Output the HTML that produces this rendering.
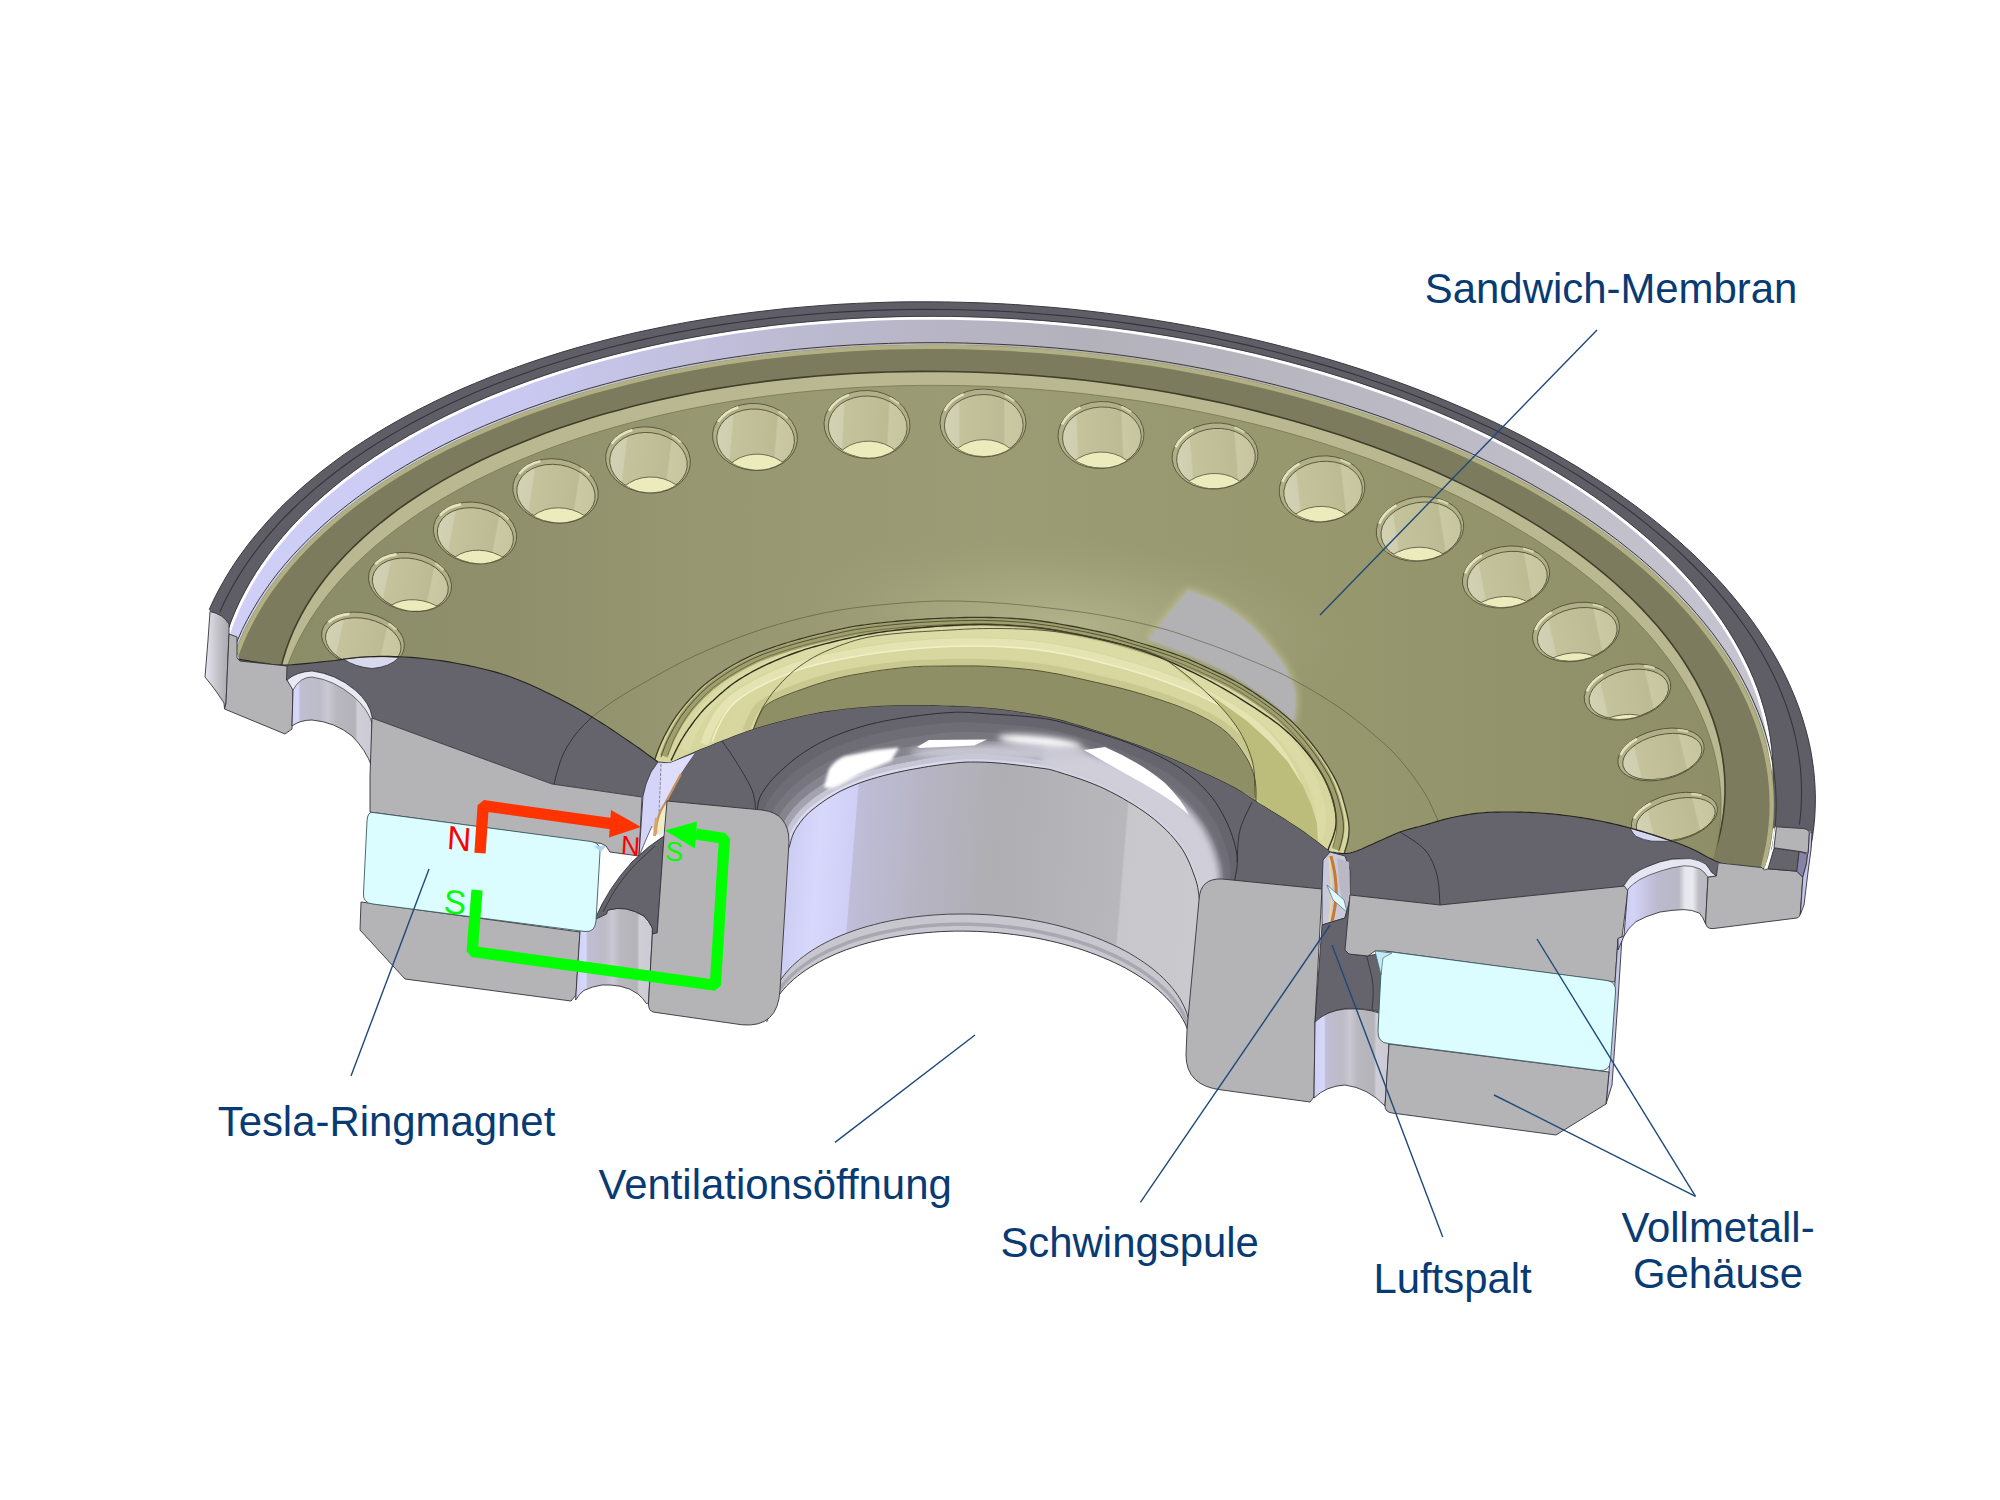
<!DOCTYPE html>
<html lang="de"><head><meta charset="utf-8"><title>Tesla-Treiber Schnittbild</title>
<style>
html,body{margin:0;padding:0;background:#fff;}
body{width:2000px;height:1500px;overflow:hidden;position:relative;font-family:"Liberation Sans",Arial,sans-serif;}
svg{position:absolute;left:0;top:0;display:block;}
svg text{font-family:"Liberation Sans",Arial,sans-serif;}
</style></head><body>
<svg width="2000" height="1500" viewBox="0 0 2000 1500">
<defs>
<linearGradient id="gOlive" gradientUnits="userSpaceOnUse" x1="250" y1="0" x2="1750" y2="0">
 <stop offset="0" stop-color="#8b8c68"/><stop offset="0.17" stop-color="#8f906b"/><stop offset="0.30" stop-color="#979872"/><stop offset="0.5" stop-color="#9b9b74"/><stop offset="0.7" stop-color="#98986f"/><stop offset="0.85" stop-color="#93936b"/><stop offset="1" stop-color="#8d8d67"/>
</linearGradient>
<radialGradient id="gGlow" gradientUnits="userSpaceOnUse" cx="0" cy="0" r="1">
 <stop offset="0" stop-color="#b4b48c" stop-opacity="0.95"/><stop offset="0.5" stop-color="#aaaa82" stop-opacity="0.55"/><stop offset="1" stop-color="#9b9b74" stop-opacity="0"/>
</radialGradient>
<linearGradient id="gLav" gradientUnits="userSpaceOnUse" x1="210" y1="0" x2="1800" y2="0">
 <stop offset="0" stop-color="#cfcff8"/><stop offset="0.2" stop-color="#c9c8f0"/><stop offset="0.4" stop-color="#bab8cc"/><stop offset="0.55" stop-color="#b3b1ba"/><stop offset="0.8" stop-color="#bdbcc6"/><stop offset="1" stop-color="#c6c5d2"/>
</linearGradient>
<linearGradient id="gCyl" gradientUnits="userSpaceOnUse" x1="785" y1="900" x2="1205" y2="935">
 <stop offset="0.0" stop-color="#cdcdf4"/><stop offset="0.07" stop-color="#d8d8fd"/><stop offset="0.15" stop-color="#cfcff6"/><stop offset="0.153" stop-color="#bfbdd8"/><stop offset="0.32" stop-color="#b6b4c2"/><stop offset="0.49" stop-color="#afaeb2"/><stop offset="0.79" stop-color="#b8b7bb"/><stop offset="0.795" stop-color="#c8c7cc"/><stop offset="1" stop-color="#cac9ce"/>
</linearGradient>
<linearGradient id="gFil" gradientUnits="userSpaceOnUse" x1="0" y1="712" x2="0" y2="790">
 <stop offset="0" stop-color="#6b6a72"/><stop offset="0.35" stop-color="#8f8e98"/><stop offset="0.7" stop-color="#c2c1cc"/><stop offset="1" stop-color="#b9b8c6"/>
</linearGradient>
<linearGradient id="gHoleL" x1="0" y1="0" x2="1" y2="0">
 <stop offset="0" stop-color="#d6d6f8"/><stop offset="0.5" stop-color="#bfbed6"/><stop offset="1" stop-color="#c9c8e2"/>
</linearGradient>
<linearGradient id="gHole" x1="0" y1="0" x2="1" y2="0">
 <stop offset="0" stop-color="#d3d2b4"/><stop offset="0.18" stop-color="#cfceaf"/><stop offset="0.2" stop-color="#c4c39c"/><stop offset="0.75" stop-color="#bcbb93"/><stop offset="0.77" stop-color="#cac9a4"/><stop offset="1" stop-color="#c6c5a0"/>
</linearGradient>
<linearGradient id="gOuterL" x1="0" y1="0" x2="1" y2="0">
 <stop offset="0" stop-color="#e6e6f0"/><stop offset="0.5" stop-color="#c6c5cc"/><stop offset="1" stop-color="#a9a8ae"/>
</linearGradient>
<linearGradient id="gGrooveL" x1="0" y1="0" x2="1" y2="0">
 <stop offset="0" stop-color="#cfcff6"/><stop offset="0.13" stop-color="#d8d8fc"/><stop offset="0.16" stop-color="#c0bed2"/><stop offset="0.38" stop-color="#bcbbc6"/><stop offset="0.48" stop-color="#cac9d3"/><stop offset="0.58" stop-color="#b9b8c0"/><stop offset="0.8" stop-color="#b4b3b9"/><stop offset="0.83" stop-color="#cfced6"/><stop offset="1" stop-color="#cccbd3"/>
</linearGradient>
<filter id="blur3" x="-20%" y="-50%" width="140%" height="200%"><feGaussianBlur stdDeviation="3"/></filter>
<filter id="blur1" x="-10%" y="-10%" width="120%" height="120%"><feGaussianBlur stdDeviation="0.9"/></filter>
<filter id="blur15" x="-20%" y="-50%" width="140%" height="200%"><feGaussianBlur stdDeviation="1.5"/></filter>
<linearGradient id="gGrooveR" x1="0" y1="0" x2="1" y2="0">
 <stop offset="0" stop-color="#c6c6ee"/><stop offset="0.15" stop-color="#d4d4f8"/><stop offset="0.4" stop-color="#bcbace"/><stop offset="0.62" stop-color="#b9b8c4"/><stop offset="0.68" stop-color="#e6e6ee"/><stop offset="0.76" stop-color="#e9e9f0"/><stop offset="0.82" stop-color="#bebdc6"/><stop offset="1" stop-color="#b2b1b6"/>
</linearGradient>
</defs>
<clipPath id="clipCut"><path d="M0.0,0.0 L0.0,640.0 L232.0,636.0 L239.0,659.0 L287.0,666.0 L330.0,661.0 L365.0,657.0 L405.0,657.0 L455.0,663.0 L505.0,675.0 L550.0,694.0 L592.0,717.0 L630.0,742.0 L658.0,762.0 L670.0,763.0 L1000.0,900.0 L1330.0,852.0 L1350.0,853.0 L1375.0,843.0 L1400.0,832.0 L1425.0,825.0 L1450.0,818.0 L1480.0,813.0 L1510.0,812.0 L1540.0,813.0 L1570.0,816.0 L1600.0,821.0 L1630.0,828.0 L1660.0,837.0 L1690.0,848.0 L1718.0,862.0 L1764.0,869.0 L1772.0,848.0 L1775.0,826.0 L2000.0,826.0 L2000.0,0.0 Z"/></clipPath>
<path d="M209.2,609.6 L213.5,600.2 L218.2,590.9 L223.3,581.7 L228.7,572.6 L234.5,563.5 L240.7,554.6 L247.2,545.7 L254.1,537.0 L261.4,528.4 L269.0,519.8 L276.9,511.4 L285.2,503.1 L293.9,494.9 L302.9,486.8 L312.2,478.9 L321.8,471.1 L331.8,463.5 L342.0,455.9 L352.6,448.5 L363.6,441.3 L374.8,434.2 L386.3,427.3 L398.1,420.5 L410.2,413.9 L422.5,407.5 L435.2,401.2 L448.1,395.1 L461.3,389.1 L474.7,383.4 L488.4,377.8 L502.4,372.4 L516.6,367.2 L531.0,362.1 L545.6,357.3 L560.4,352.6 L575.5,348.1 L590.8,343.9 L606.2,339.8 L621.9,335.9 L637.7,332.2 L653.7,328.8 L669.9,325.5 L686.2,322.4 L702.7,319.6 L719.3,316.9 L736.0,314.5 L752.9,312.3 L769.9,310.3 L787.0,308.4 L804.2,306.9 L821.5,305.5 L838.9,304.3 L856.4,303.4 L873.9,302.7 L891.5,302.1 L909.2,301.8 L926.9,301.8 L944.6,301.9 L962.4,302.3 L980.2,302.8 L997.9,303.6 L1015.7,304.6 L1033.5,305.9 L1051.3,307.3 L1069.0,308.9 L1086.7,310.8 L1104.4,312.9 L1122.0,315.2 L1139.6,317.7 L1157.1,320.4 L1174.5,323.3 L1191.8,326.4 L1209.1,329.7 L1226.2,333.3 L1243.3,337.0 L1260.2,340.9 L1277.0,345.1 L1293.6,349.4 L1310.2,353.9 L1326.6,358.6 L1342.8,363.5 L1358.9,368.6 L1374.7,373.9 L1390.5,379.4 L1406.0,385.0 L1421.3,390.8 L1436.5,396.8 L1451.4,403.0 L1466.1,409.3 L1480.6,415.8 L1494.9,422.4 L1508.9,429.3 L1522.7,436.2 L1536.2,443.4 L1549.5,450.6 L1562.5,458.1 L1575.2,465.6 L1587.7,473.3 L1599.9,481.2 L1611.8,489.1 L1623.4,497.2 L1634.8,505.4 L1645.8,513.8 L1656.5,522.2 L1666.9,530.8 L1677.0,539.5 L1686.7,548.3 L1696.2,557.1 L1705.3,566.1 L1714.0,575.2 L1722.5,584.3 L1730.5,593.5 L1738.3,602.9 L1745.6,612.2 L1752.7,621.7 L1759.3,631.2 L1765.6,640.8 L1771.6,650.4 L1777.2,660.1 L1782.4,669.8 L1787.2,679.6 L1791.6,689.4 L1795.7,699.2 L1799.4,709.1 L1802.7,719.0 L1805.6,728.9 L1808.2,738.8 L1810.4,748.7 L1812.1,758.6 L1813.5,768.6 L1814.5,778.5 L1815.1,788.4 L1815.4,798.3 L1815.2,808.2 L1814.7,818.0 L1813.7,827.8 L1812.4,837.6 L1810.7,847.4 L1808.6,857.1 L1812.0,832.0 L1776.0,827.0 L1720.0,858.0 L240.0,660.0 L229.0,634.0 L210.0,611.0 Z" fill="#5f5e66" />
<path d="M209.2,609.6 L213.5,600.2 L218.2,590.9 L223.3,581.7 L228.7,572.6 L234.5,563.5 L240.7,554.6 L247.2,545.7 L254.1,537.0 L261.4,528.4 L269.0,519.8 L276.9,511.4 L285.2,503.1 L293.9,494.9 L302.9,486.8 L312.2,478.9 L321.8,471.1 L331.8,463.5 L342.0,455.9 L352.6,448.5 L363.6,441.3 L374.8,434.2 L386.3,427.3 L398.1,420.5 L410.2,413.9 L422.5,407.5 L435.2,401.2 L448.1,395.1 L461.3,389.1 L474.7,383.4 L488.4,377.8 L502.4,372.4 L516.6,367.2 L531.0,362.1 L545.6,357.3 L560.4,352.6 L575.5,348.1 L590.8,343.9 L606.2,339.8 L621.9,335.9 L637.7,332.2 L653.7,328.8 L669.9,325.5 L686.2,322.4 L702.7,319.6 L719.3,316.9 L736.0,314.5 L752.9,312.3 L769.9,310.3 L787.0,308.4 L804.2,306.9 L821.5,305.5 L838.9,304.3 L856.4,303.4 L873.9,302.7 L891.5,302.1 L909.2,301.8 L926.9,301.8 L944.6,301.9 L962.4,302.3 L980.2,302.8 L997.9,303.6 L1015.7,304.6 L1033.5,305.9 L1051.3,307.3 L1069.0,308.9 L1086.7,310.8 L1104.4,312.9 L1122.0,315.2 L1139.6,317.7 L1157.1,320.4 L1174.5,323.3 L1191.8,326.4 L1209.1,329.7 L1226.2,333.3 L1243.3,337.0 L1260.2,340.9 L1277.0,345.1 L1293.6,349.4 L1310.2,353.9 L1326.6,358.6 L1342.8,363.5 L1358.9,368.6 L1374.7,373.9 L1390.5,379.4 L1406.0,385.0 L1421.3,390.8 L1436.5,396.8 L1451.4,403.0 L1466.1,409.3 L1480.6,415.8 L1494.9,422.4 L1508.9,429.3 L1522.7,436.2 L1536.2,443.4 L1549.5,450.6 L1562.5,458.1 L1575.2,465.6 L1587.7,473.3 L1599.9,481.2 L1611.8,489.1 L1623.4,497.2 L1634.8,505.4 L1645.8,513.8 L1656.5,522.2 L1666.9,530.8 L1677.0,539.5 L1686.7,548.3 L1696.2,557.1 L1705.3,566.1 L1714.0,575.2 L1722.5,584.3 L1730.5,593.5 L1738.3,602.9 L1745.6,612.2 L1752.7,621.7 L1759.3,631.2 L1765.6,640.8 L1771.6,650.4 L1777.2,660.1 L1782.4,669.8 L1787.2,679.6 L1791.6,689.4 L1795.7,699.2 L1799.4,709.1 L1802.7,719.0 L1805.6,728.9 L1808.2,738.8 L1810.4,748.7 L1812.1,758.6 L1813.5,768.6 L1814.5,778.5 L1815.1,788.4 L1815.4,798.3 L1815.2,808.2 L1814.7,818.0 L1813.7,827.8 L1812.4,837.6 L1810.7,847.4 L1808.6,857.1" fill="none" stroke="#3a3940" stroke-width="1" />
<path d="M219.8,611.9 L223.9,602.9 L228.4,594.0 L233.2,585.2 L238.4,576.4 L243.9,567.7 L249.8,559.1 L256.1,550.6 L262.7,542.2 L269.6,533.9 L276.8,525.7 L284.4,517.5 L292.3,509.5 L300.6,501.6 L309.2,493.9 L318.0,486.2 L327.2,478.7 L336.8,471.3 L346.6,464.0 L356.7,456.8 L367.1,449.8 L377.8,442.9 L388.8,436.2 L400.1,429.6 L411.6,423.2 L423.4,416.9 L435.5,410.8 L447.9,404.8 L460.5,399.0 L473.3,393.3 L486.4,387.8 L499.8,382.5 L513.3,377.4 L527.1,372.4 L541.1,367.6 L555.3,363.0 L569.8,358.5 L584.4,354.3 L599.2,350.2 L614.2,346.3 L629.4,342.6 L644.7,339.1 L660.2,335.8 L675.9,332.6 L691.7,329.7 L707.6,326.9 L723.7,324.4 L740.0,322.0 L756.3,319.9 L772.7,317.9 L789.3,316.2 L806.0,314.6 L822.7,313.3 L839.5,312.1 L856.4,311.1 L873.4,310.4 L890.4,309.9 L907.5,309.5 L924.6,309.4 L941.7,309.5 L958.9,309.7 L976.1,310.2 L993.3,310.9 L1010.5,311.8 L1027.7,312.9 L1044.9,314.2 L1062.1,315.6 L1079.2,317.3 L1096.4,319.2 L1113.4,321.3 L1130.4,323.6 L1147.4,326.1 L1164.3,328.8 L1181.1,331.7 L1197.8,334.7 L1214.4,338.0 L1230.9,341.5 L1247.4,345.1 L1263.7,349.0 L1279.9,353.0 L1295.9,357.2 L1311.9,361.6 L1327.6,366.1 L1343.3,370.9 L1358.7,375.8 L1374.1,380.9 L1389.2,386.1 L1404.1,391.6 L1418.9,397.2 L1433.5,402.9 L1447.9,408.9 L1462.0,414.9 L1476.0,421.2 L1489.7,427.6 L1503.2,434.1 L1516.5,440.8 L1529.6,447.6 L1542.4,454.6 L1554.9,461.7 L1567.2,468.9 L1579.2,476.3 L1591.0,483.8 L1602.5,491.4 L1613.7,499.2 L1624.6,507.0 L1635.3,515.0 L1645.6,523.1 L1655.7,531.3 L1665.4,539.6 L1674.8,547.9 L1684.0,556.4 L1692.8,565.0 L1701.3,573.6 L1709.5,582.4 L1717.3,591.2 L1724.8,600.1 L1732.0,609.1 L1738.8,618.1 L1745.3,627.2 L1751.5,636.3 L1757.3,645.5 L1762.8,654.8 L1767.9,664.1 L1772.7,673.4 L1777.1,682.8 L1781.1,692.2 L1784.8,701.6 L1788.1,711.0 L1791.1,720.5 L1793.7,730.0 L1795.9,739.5 L1797.7,749.0 L1799.2,758.5 L1800.4,768.0 L1801.1,777.5 L1801.5,787.0 L1801.5,796.4 L1801.2,805.9 L1800.5,815.3 L1799.4,824.7" fill="none" stroke="#35343b" stroke-width="1.1" />
<g clip-path="url(#clipCut)">
<path d="M224.3,648.0 L227.0,638.5 L230.1,628.9 L233.7,619.5 L237.6,610.1 L242.0,600.7 L246.8,591.5 L252.0,582.3 L257.5,573.2 L263.5,564.2 L269.9,555.3 L276.7,546.5 L283.9,537.9 L291.4,529.3 L299.4,520.8 L307.7,512.4 L316.4,504.2 L325.5,496.1 L334.9,488.2 L344.7,480.3 L354.9,472.6 L365.4,465.1 L376.2,457.7 L387.4,450.5 L398.9,443.4 L410.7,436.5 L422.9,429.7 L435.3,423.1 L448.1,416.7 L461.2,410.5 L474.5,404.4 L488.1,398.5 L502.1,392.9 L516.2,387.4 L530.7,382.0 L545.4,376.9 L560.3,372.0 L575.5,367.3 L590.9,362.8 L606.5,358.5 L622.4,354.4 L638.4,350.5 L654.6,346.8 L671.1,343.3 L687.6,340.1 L704.4,337.1 L721.3,334.3 L738.4,331.7 L755.6,329.3 L772.9,327.2 L790.4,325.2 L808.0,323.5 L825.6,322.1 L843.4,320.8 L861.2,319.8 L879.2,319.0 L897.1,318.5 L915.2,318.2 L933.3,318.1 L951.4,318.2 L969.5,318.6 L987.6,319.2 L1005.8,320.0 L1023.9,321.0 L1042.1,322.3 L1060.2,323.8 L1078.2,325.6 L1096.3,327.5 L1114.2,329.7 L1132.1,332.1 L1149.9,334.8 L1167.7,337.6 L1185.3,340.7 L1202.9,344.0 L1220.3,347.5 L1237.6,351.2 L1254.7,355.1 L1271.8,359.3 L1288.7,363.6 L1305.4,368.2 L1321.9,372.9 L1338.3,377.9 L1354.5,383.0 L1370.4,388.4 L1386.2,393.9 L1401.8,399.6 L1417.1,405.5 L1432.2,411.6 L1447.1,417.9 L1461.7,424.3 L1476.1,431.0 L1490.2,437.7 L1504.0,444.7 L1517.6,451.8 L1530.9,459.1 L1543.8,466.5 L1556.5,474.1 L1568.9,481.8 L1580.9,489.6 L1592.7,497.6 L1604.1,505.7 L1615.2,514.0 L1625.9,522.4 L1636.3,530.9 L1646.4,539.5 L1656.0,548.2 L1665.4,557.0 L1674.3,565.9 L1682.9,574.9 L1691.1,584.0 L1699.0,593.2 L1706.4,602.5 L1713.5,611.8 L1720.2,621.2 L1726.4,630.7 L1732.3,640.2 L1737.8,649.8 L1742.8,659.5 L1747.5,669.1 L1751.8,678.9 L1755.6,688.6 L1759.0,698.4 L1762.0,708.2 L1764.6,718.0 L1766.8,727.8 L1768.5,737.7 L1769.8,747.5 L1770.7,757.3 L1771.2,767.2 L1771.2,777.0 L1770.9,786.8 L1770.1,796.5 L1768.8,806.3 L1767.2,815.9 L1765.1,825.6 L1762.6,835.2 L1759.7,844.8 L1756.4,854.3 L1752.7,863.7 L1748.5,873.0 Z" fill="url(#gLav)" />
<path d="M224.3,648.0 L227.0,638.5 L230.1,628.9 L233.7,619.5 L237.6,610.1 L242.0,600.7 L246.8,591.5 L252.0,582.3 L257.5,573.2 L263.5,564.2 L269.9,555.3 L276.7,546.5 L283.9,537.9 L291.4,529.3 L299.4,520.8 L307.7,512.4 L316.4,504.2 L325.5,496.1 L334.9,488.2 L344.7,480.3 L354.9,472.6 L365.4,465.1 L376.2,457.7 L387.4,450.5 L398.9,443.4 L410.7,436.5 L422.9,429.7 L435.3,423.1 L448.1,416.7 L461.2,410.5 L474.5,404.4 L488.1,398.5 L502.1,392.9 L516.2,387.4 L530.7,382.0 L545.4,376.9 L560.3,372.0 L575.5,367.3 L590.9,362.8 L606.5,358.5 L622.4,354.4 L638.4,350.5 L654.6,346.8 L671.1,343.3 L687.6,340.1 L704.4,337.1 L721.3,334.3 L738.4,331.7 L755.6,329.3 L772.9,327.2 L790.4,325.2 L808.0,323.5 L825.6,322.1 L843.4,320.8 L861.2,319.8 L879.2,319.0 L897.1,318.5 L915.2,318.2 L933.3,318.1 L951.4,318.2 L969.5,318.6 L987.6,319.2 L1005.8,320.0 L1023.9,321.0 L1042.1,322.3 L1060.2,323.8 L1078.2,325.6 L1096.3,327.5 L1114.2,329.7 L1132.1,332.1 L1149.9,334.8 L1167.7,337.6 L1185.3,340.7 L1202.9,344.0 L1220.3,347.5 L1237.6,351.2 L1254.7,355.1 L1271.8,359.3 L1288.7,363.6 L1305.4,368.2 L1321.9,372.9 L1338.3,377.9 L1354.5,383.0 L1370.4,388.4 L1386.2,393.9 L1401.8,399.6 L1417.1,405.5 L1432.2,411.6 L1447.1,417.9 L1461.7,424.3 L1476.1,431.0 L1490.2,437.7 L1504.0,444.7 L1517.6,451.8 L1530.9,459.1 L1543.8,466.5 L1556.5,474.1 L1568.9,481.8 L1580.9,489.6 L1592.7,497.6 L1604.1,505.7 L1615.2,514.0 L1625.9,522.4 L1636.3,530.9 L1646.4,539.5 L1656.0,548.2 L1665.4,557.0 L1674.3,565.9 L1682.9,574.9 L1691.1,584.0 L1699.0,593.2 L1706.4,602.5 L1713.5,611.8 L1720.2,621.2 L1726.4,630.7 L1732.3,640.2 L1737.8,649.8 L1742.8,659.5 L1747.5,669.1 L1751.8,678.9 L1755.6,688.6 L1759.0,698.4 L1762.0,708.2 L1764.6,718.0 L1766.8,727.8 L1768.5,737.7 L1769.8,747.5 L1770.7,757.3 L1771.2,767.2 L1771.2,777.0 L1770.9,786.8 L1770.1,796.5 L1768.8,806.3 L1767.2,815.9 L1765.1,825.6 L1762.6,835.2 L1759.7,844.8 L1756.4,854.3 L1752.7,863.7 L1748.5,873.0" fill="none" stroke="#ffffff" stroke-width="3.2" />
<path d="M222.5,647.7 L225.3,638.1 L228.4,628.6 L231.9,619.1 L235.9,609.6 L240.3,600.2 L245.1,591.0 L250.3,581.7 L255.9,572.6 L261.9,563.6 L268.3,554.6 L275.1,545.8 L282.3,537.1 L289.8,528.5 L297.8,519.9 L306.2,511.6 L314.9,503.3 L324.0,495.2 L333.4,487.2 L343.2,479.3 L353.4,471.6 L363.9,464.0 L374.8,456.6 L386.0,449.3 L397.5,442.2 L409.4,435.2 L421.6,428.5 L434.1,421.8 L446.9,415.4 L460.0,409.1 L473.3,403.0 L487.0,397.1 L501.0,391.4 L515.2,385.9 L529.6,380.6 L544.4,375.4 L559.4,370.5 L574.6,365.8 L590.0,361.2 L605.7,356.9 L621.5,352.8 L637.6,348.9 L653.9,345.2 L670.3,341.7 L687.0,338.4 L703.8,335.4 L720.7,332.6 L737.9,329.9 L755.1,327.6 L772.5,325.4 L790.0,323.5 L807.6,321.8 L825.3,320.3 L843.1,319.1 L861.0,318.0 L879.0,317.3 L897.0,316.7 L915.0,316.4 L933.2,316.3 L951.3,316.4 L969.5,316.8 L987.7,317.4 L1005.9,318.2 L1024.1,319.3 L1042.2,320.5 L1060.4,322.1 L1078.5,323.8 L1096.5,325.8 L1114.5,328.0 L1132.5,330.4 L1150.3,333.0 L1168.1,335.9 L1185.8,339.0 L1203.4,342.3 L1220.9,345.8 L1238.2,349.5 L1255.4,353.4 L1272.5,357.6 L1289.4,362.0 L1306.1,366.5 L1322.7,371.3 L1339.1,376.3 L1355.3,381.4 L1371.4,386.8 L1387.2,392.4 L1402.8,398.1 L1418.1,404.0 L1433.3,410.2 L1448.2,416.5 L1462.8,422.9 L1477.2,429.6 L1491.4,436.4 L1505.2,443.4 L1518.8,450.5 L1532.1,457.8 L1545.1,465.3 L1557.8,472.9 L1570.2,480.6 L1582.3,488.5 L1594.1,496.5 L1605.5,504.7 L1616.6,513.0 L1627.4,521.4 L1637.8,529.9 L1647.9,538.5 L1657.6,547.3 L1666.9,556.1 L1675.9,565.1 L1684.5,574.1 L1692.8,583.3 L1700.6,592.5 L1708.1,601.8 L1715.2,611.2 L1721.9,620.6 L1728.1,630.1 L1734.0,639.7 L1739.5,649.4 L1744.6,659.0 L1749.3,668.7 L1753.5,678.5 L1757.4,688.3 L1760.8,698.1 L1763.8,708.0 L1766.4,717.8 L1768.5,727.7 L1770.3,737.6 L1771.6,747.5 L1772.5,757.3 L1773.0,767.2 L1773.0,777.0 L1772.6,786.9 L1771.8,796.7 L1770.6,806.4 L1769.0,816.2 L1766.9,825.9 L1764.4,835.5 L1761.5,845.1 L1758.2,854.7 L1754.4,864.1 L1750.2,873.5" fill="none" stroke="#34333a" stroke-width="0.9" />
<path d="M224.4,689.3 L226.6,679.3 L229.2,669.3 L232.3,659.4 L235.9,649.5 L239.8,639.8 L244.2,630.1 L249.1,620.4 L254.4,610.9 L260.1,601.5 L266.2,592.1 L272.8,582.9 L279.8,573.7 L287.2,564.7 L295.0,555.8 L303.2,547.0 L311.8,538.4 L320.9,529.8 L330.3,521.5 L340.1,513.2 L350.3,505.2 L360.8,497.2 L371.8,489.4 L383.1,481.8 L394.7,474.4 L406.7,467.1 L419.1,460.0 L431.8,453.1 L444.8,446.4 L458.1,439.8 L471.8,433.5 L485.7,427.3 L500.0,421.3 L514.5,415.6 L529.3,410.0 L544.4,404.7 L559.8,399.5 L575.4,394.6 L591.2,389.9 L607.3,385.4 L623.6,381.2 L640.2,377.1 L656.9,373.3 L673.9,369.7 L691.0,366.4 L708.3,363.3 L725.8,360.4 L743.4,357.8 L761.2,355.4 L779.1,353.2 L797.1,351.3 L815.3,349.6 L833.5,348.2 L851.9,347.0 L870.3,346.0 L888.9,345.4 L907.4,344.9 L926.1,344.7 L944.7,344.7 L963.5,345.0 L982.2,345.6 L1000.9,346.3 L1019.6,347.4 L1038.4,348.6 L1057.0,350.2 L1075.7,351.9 L1094.3,353.9 L1112.9,356.2 L1131.4,358.7 L1149.8,361.4 L1168.1,364.3 L1186.3,367.5 L1204.4,371.0 L1222.4,374.6 L1240.3,378.5 L1258.0,382.6 L1275.6,387.0 L1293.0,391.5 L1310.2,396.3 L1327.3,401.3 L1344.1,406.5 L1360.8,411.9 L1377.2,417.6 L1393.5,423.4 L1409.5,429.4 L1425.2,435.7 L1440.7,442.1 L1456.0,448.7 L1471.0,455.5 L1485.7,462.5 L1500.1,469.6 L1514.2,477.0 L1528.1,484.5 L1541.6,492.1 L1554.8,500.0 L1567.7,508.0 L1580.2,516.1 L1592.5,524.4 L1604.3,532.8 L1615.8,541.4 L1627.0,550.1 L1637.8,558.9 L1648.2,567.8 L1658.2,576.9 L1667.9,586.1 L1677.2,595.4 L1686.0,604.7 L1694.5,614.2 L1702.6,623.8 L1710.2,633.4 L1717.4,643.2 L1724.3,653.0 L1730.7,662.8 L1736.6,672.8 L1742.2,682.8 L1747.3,692.8 L1752.0,702.9 L1756.2,713.0 L1760.0,723.2 L1763.3,733.3 L1766.2,743.5 L1768.7,753.8 L1770.7,764.0 L1772.3,774.2 L1773.4,784.4 L1774.0,794.6 L1774.2,804.8 L1774.0,815.0 L1773.3,825.2 L1772.2,835.3 L1770.6,845.4 L1768.5,855.4 L1766.0,865.4 L1763.1,875.3 L1759.7,885.2 L1755.9,895.0 L1751.6,904.7 L1746.9,914.4 L1741.7,923.9 L1736.2,933.4 Z" fill="#7c7b5d" />
<path d="M227.0,689.6 L229.2,679.6 L231.8,669.7 L234.9,659.9 L238.4,650.1 L242.3,640.3 L246.7,630.7 L251.6,621.1 L256.8,611.6 L262.5,602.2 L268.6,592.9 L275.2,583.7 L282.1,574.7 L289.5,565.7 L297.3,556.8 L305.5,548.1 L314.1,539.5 L323.1,531.0 L332.5,522.7 L342.3,514.5 L352.4,506.4 L362.9,498.6 L373.8,490.8 L385.1,483.3 L396.7,475.8 L408.7,468.6 L421.0,461.5 L433.6,454.7 L446.6,448.0 L459.9,441.5 L473.5,435.1 L487.4,429.0 L501.6,423.1 L516.1,417.3 L530.8,411.8 L545.9,406.5 L561.2,401.4 L576.7,396.5 L592.5,391.8 L608.6,387.4 L624.8,383.1 L641.3,379.1 L658.0,375.3 L674.9,371.8 L692.0,368.4 L709.2,365.4 L726.6,362.5 L744.2,359.9 L761.9,357.5 L779.8,355.3 L797.7,353.4 L815.8,351.8 L834.0,350.3 L852.3,349.2 L870.7,348.2 L889.2,347.5 L907.7,347.1 L926.3,346.9 L944.9,346.9 L963.5,347.2 L982.2,347.8 L1000.8,348.5 L1019.5,349.6 L1038.2,350.8 L1056.8,352.4 L1075.4,354.1 L1093.9,356.1 L1112.4,358.3 L1130.9,360.8 L1149.2,363.5 L1167.5,366.5 L1185.6,369.6 L1203.7,373.1 L1221.6,376.7 L1239.4,380.6 L1257.1,384.7 L1274.6,389.0 L1291.9,393.5 L1309.1,398.3 L1326.1,403.2 L1342.9,408.4 L1359.5,413.8 L1375.9,419.4 L1392.1,425.2 L1408.0,431.2 L1423.8,437.4 L1439.2,443.8 L1454.4,450.4 L1469.3,457.2 L1484.0,464.1 L1498.4,471.3 L1512.5,478.6 L1526.3,486.0 L1539.7,493.7 L1552.9,501.4 L1565.7,509.4 L1578.3,517.5 L1590.4,525.7 L1602.3,534.1 L1613.7,542.6 L1624.9,551.3 L1635.6,560.1 L1646.0,569.0 L1656.0,578.0 L1665.6,587.1 L1674.9,596.3 L1683.7,605.7 L1692.1,615.1 L1700.2,624.6 L1707.8,634.2 L1715.0,643.9 L1721.8,653.7 L1728.2,663.5 L1734.2,673.4 L1739.7,683.3 L1744.8,693.3 L1749.4,703.3 L1753.6,713.4 L1757.4,723.5 L1760.8,733.6 L1763.7,743.8 L1766.1,753.9 L1768.1,764.1 L1769.7,774.3 L1770.8,784.4 L1771.4,794.6 L1771.7,804.7 L1771.4,814.9 L1770.7,825.0 L1769.6,835.0 L1768.0,845.1 L1765.9,855.1 L1763.5,865.0 L1760.5,874.9 L1757.2,884.7 L1753.3,894.4 L1749.1,904.1 L1744.4,913.7 L1739.3,923.2 L1733.7,932.6" fill="none" stroke="#b1b082" stroke-width="4.2" />
<path d="M222.4,689.0 L224.6,678.9 L227.3,668.9 L230.4,659.0 L233.9,649.1 L237.9,639.3 L242.3,629.5 L247.2,619.8 L252.5,610.3 L258.2,600.8 L264.4,591.4 L270.9,582.1 L277.9,572.9 L285.4,563.8 L293.2,554.9 L301.5,546.1 L310.1,537.4 L319.2,528.8 L328.6,520.4 L338.4,512.1 L348.6,504.0 L359.2,496.0 L370.2,488.2 L381.5,480.6 L393.2,473.1 L405.3,465.8 L417.6,458.6 L430.4,451.7 L443.4,444.9 L456.8,438.3 L470.5,431.9 L484.4,425.7 L498.7,419.8 L513.3,414.0 L528.2,408.4 L543.3,403.0 L558.7,397.8 L574.3,392.9 L590.2,388.2 L606.4,383.7 L622.7,379.4 L639.3,375.3 L656.1,371.5 L673.1,367.9 L690.2,364.5 L707.6,361.4 L725.1,358.5 L742.8,355.9 L760.6,353.4 L778.6,351.3 L796.7,349.3 L814.9,347.7 L833.2,346.2 L851.6,345.0 L870.1,344.1 L888.6,343.4 L907.3,342.9 L925.9,342.7 L944.7,342.7 L963.4,343.0 L982.2,343.6 L1001.0,344.4 L1019.8,345.4 L1038.5,346.7 L1057.3,348.2 L1076.0,349.9 L1094.6,352.0 L1113.2,354.2 L1131.8,356.7 L1150.2,359.4 L1168.6,362.4 L1186.9,365.6 L1205.0,369.0 L1223.1,372.7 L1241.0,376.6 L1258.7,380.8 L1276.3,385.1 L1293.8,389.7 L1311.1,394.5 L1328.2,399.5 L1345.1,404.7 L1361.8,410.2 L1378.3,415.8 L1394.5,421.7 L1410.6,427.8 L1426.4,434.0 L1441.9,440.5 L1457.2,447.1 L1472.2,453.9 L1487.0,461.0 L1501.4,468.1 L1515.6,475.5 L1529.5,483.1 L1543.0,490.8 L1556.3,498.6 L1569.2,506.6 L1581.8,514.8 L1594.0,523.1 L1605.9,531.6 L1617.5,540.2 L1628.6,549.0 L1639.5,557.8 L1649.9,566.8 L1660.0,575.9 L1669.6,585.1 L1678.9,594.4 L1687.8,603.9 L1696.3,613.4 L1704.4,623.0 L1712.1,632.7 L1719.3,642.5 L1726.2,652.3 L1732.6,662.2 L1738.6,672.2 L1744.1,682.3 L1749.2,692.3 L1753.9,702.5 L1758.2,712.6 L1762.0,722.8 L1765.3,733.1 L1768.2,743.3 L1770.7,753.6 L1772.7,763.8 L1774.3,774.1 L1775.4,784.4 L1776.0,794.7 L1776.2,804.9 L1776.0,815.1 L1775.3,825.3 L1774.2,835.5 L1772.5,845.6 L1770.5,855.7 L1768.0,865.7 L1765.0,875.7 L1761.6,885.6 L1757.8,895.5 L1753.5,905.3 L1748.8,915.0 L1743.6,924.6 L1738.0,934.1" fill="none" stroke="#3b3b2c" stroke-width="1" />
<path d="M277.4,686.1 L279.0,676.8 L280.9,667.6 L283.3,658.4 L286.2,649.3 L289.5,640.2 L293.2,631.2 L297.4,622.3 L302.0,613.5 L307.0,604.7 L312.5,596.0 L318.4,587.5 L324.7,579.0 L331.5,570.6 L338.6,562.4 L346.2,554.3 L354.1,546.3 L362.5,538.4 L371.2,530.6 L380.4,523.0 L389.9,515.5 L399.8,508.2 L410.1,501.0 L420.7,494.0 L431.7,487.1 L443.0,480.4 L454.7,473.9 L466.8,467.5 L479.1,461.3 L491.8,455.3 L504.8,449.5 L518.1,443.9 L531.7,438.4 L545.6,433.1 L559.7,428.1 L574.2,423.2 L588.9,418.6 L603.8,414.1 L619.1,409.9 L634.5,405.8 L650.2,402.0 L666.0,398.4 L682.1,395.0 L698.4,391.8 L714.9,388.9 L731.5,386.2 L748.4,383.7 L765.3,381.4 L782.4,379.4 L799.7,377.6 L817.1,376.0 L834.6,374.6 L852.1,373.5 L869.8,372.6 L887.6,372.0 L905.4,371.6 L923.3,371.4 L941.2,371.5 L959.2,371.8 L977.2,372.3 L995.2,373.0 L1013.3,374.0 L1031.3,375.3 L1049.3,376.7 L1067.2,378.4 L1085.1,380.3 L1103.0,382.5 L1120.8,384.9 L1138.5,387.5 L1156.2,390.3 L1173.7,393.3 L1191.2,396.6 L1208.5,400.1 L1225.7,403.8 L1242.7,407.7 L1259.6,411.9 L1276.4,416.2 L1292.9,420.8 L1309.3,425.5 L1325.5,430.5 L1341.5,435.6 L1357.3,441.0 L1372.9,446.5 L1388.2,452.3 L1403.3,458.2 L1418.2,464.3 L1432.8,470.5 L1447.1,477.0 L1461.1,483.6 L1474.9,490.4 L1488.4,497.3 L1501.5,504.4 L1514.4,511.7 L1526.9,519.1 L1539.2,526.6 L1551.0,534.3 L1562.6,542.1 L1573.8,550.1 L1584.6,558.1 L1595.1,566.3 L1605.2,574.6 L1614.9,583.0 L1624.3,591.6 L1633.3,600.2 L1641.8,608.9 L1650.0,617.7 L1657.8,626.5 L1665.2,635.5 L1672.1,644.5 L1678.7,653.6 L1684.8,662.8 L1690.5,672.0 L1695.8,681.2 L1700.7,690.5 L1705.1,699.9 L1709.1,709.2 L1712.6,718.6 L1715.7,728.1 L1718.4,737.5 L1720.6,746.9 L1722.4,756.4 L1723.7,765.8 L1724.6,775.2 L1725.0,784.6 L1725.0,794.0 L1724.5,803.4 L1723.6,812.7 L1722.2,822.0 L1720.4,831.3 L1718.2,840.5 L1715.5,849.6 L1712.4,858.7 L1708.8,867.7 L1704.8,876.7 L1700.3,885.5 L1695.4,894.3 L1690.1,903.0 L1684.4,911.6 L1678.2,920.1 L1671.6,928.5 Z" fill="#b9b890" />
<path d="M277.4,686.1 L279.0,676.8 L280.9,667.6 L283.3,658.4 L286.2,649.3 L289.5,640.2 L293.2,631.2 L297.4,622.3 L302.0,613.5 L307.0,604.7 L312.5,596.0 L318.4,587.5 L324.7,579.0 L331.5,570.6 L338.6,562.4 L346.2,554.3 L354.1,546.3 L362.5,538.4 L371.2,530.6 L380.4,523.0 L389.9,515.5 L399.8,508.2 L410.1,501.0 L420.7,494.0 L431.7,487.1 L443.0,480.4 L454.7,473.9 L466.8,467.5 L479.1,461.3 L491.8,455.3 L504.8,449.5 L518.1,443.9 L531.7,438.4 L545.6,433.1 L559.7,428.1 L574.2,423.2 L588.9,418.6 L603.8,414.1 L619.1,409.9 L634.5,405.8 L650.2,402.0 L666.0,398.4 L682.1,395.0 L698.4,391.8 L714.9,388.9 L731.5,386.2 L748.4,383.7 L765.3,381.4 L782.4,379.4 L799.7,377.6 L817.1,376.0 L834.6,374.6 L852.1,373.5 L869.8,372.6 L887.6,372.0 L905.4,371.6 L923.3,371.4 L941.2,371.5 L959.2,371.8 L977.2,372.3 L995.2,373.0 L1013.3,374.0 L1031.3,375.3 L1049.3,376.7 L1067.2,378.4 L1085.1,380.3 L1103.0,382.5 L1120.8,384.9 L1138.5,387.5 L1156.2,390.3 L1173.7,393.3 L1191.2,396.6 L1208.5,400.1 L1225.7,403.8 L1242.7,407.7 L1259.6,411.9 L1276.4,416.2 L1292.9,420.8 L1309.3,425.5 L1325.5,430.5 L1341.5,435.6 L1357.3,441.0 L1372.9,446.5 L1388.2,452.3 L1403.3,458.2 L1418.2,464.3 L1432.8,470.5 L1447.1,477.0 L1461.1,483.6 L1474.9,490.4 L1488.4,497.3 L1501.5,504.4 L1514.4,511.7 L1526.9,519.1 L1539.2,526.6 L1551.0,534.3 L1562.6,542.1 L1573.8,550.1 L1584.6,558.1 L1595.1,566.3 L1605.2,574.6 L1614.9,583.0 L1624.3,591.6 L1633.3,600.2 L1641.8,608.9 L1650.0,617.7 L1657.8,626.5 L1665.2,635.5 L1672.1,644.5 L1678.7,653.6 L1684.8,662.8 L1690.5,672.0 L1695.8,681.2 L1700.7,690.5 L1705.1,699.9 L1709.1,709.2 L1712.6,718.6 L1715.7,728.1 L1718.4,737.5 L1720.6,746.9 L1722.4,756.4 L1723.7,765.8 L1724.6,775.2 L1725.0,784.6 L1725.0,794.0 L1724.5,803.4 L1723.6,812.7 L1722.2,822.0 L1720.4,831.3 L1718.2,840.5 L1715.5,849.6 L1712.4,858.7 L1708.8,867.7 L1704.8,876.7 L1700.3,885.5 L1695.4,894.3 L1690.1,903.0 L1684.4,911.6 L1678.2,920.1 L1671.6,928.5" fill="none" stroke="#3f3f2c" stroke-width="1.6" />
<path d="M276.7,709.7 L278.2,700.3 L280.1,690.9 L282.5,681.5 L285.3,672.2 L288.5,663.0 L292.2,653.8 L296.4,644.7 L300.9,635.7 L305.9,626.8 L311.3,617.9 L317.2,609.2 L323.4,600.5 L330.1,592.0 L337.2,583.5 L344.7,575.2 L352.6,567.0 L360.9,559.0 L369.6,551.0 L378.7,543.2 L388.2,535.5 L398.0,528.0 L408.2,520.7 L418.8,513.4 L429.7,506.4 L441.0,499.5 L452.7,492.8 L464.6,486.2 L476.9,479.8 L489.6,473.7 L502.5,467.6 L515.7,461.8 L529.3,456.2 L543.1,450.7 L557.2,445.5 L571.6,440.5 L586.3,435.6 L601.2,431.0 L616.3,426.6 L631.7,422.4 L647.3,418.4 L663.1,414.6 L679.2,411.1 L695.4,407.7 L711.8,404.6 L728.4,401.7 L745.2,399.1 L762.1,396.7 L779.2,394.5 L796.4,392.5 L813.7,390.8 L831.1,389.3 L848.7,388.1 L866.3,387.0 L884.0,386.3 L901.8,385.7 L919.6,385.4 L937.5,385.4 L955.5,385.5 L973.4,385.9 L991.4,386.6 L1009.4,387.5 L1027.3,388.6 L1045.3,390.0 L1063.2,391.6 L1081.1,393.4 L1098.9,395.5 L1116.7,397.8 L1134.4,400.3 L1152.0,403.0 L1169.5,406.0 L1186.9,409.2 L1204.2,412.7 L1221.4,416.3 L1238.4,420.2 L1255.3,424.3 L1272.0,428.6 L1288.5,433.1 L1304.9,437.8 L1321.1,442.7 L1337.1,447.9 L1352.8,453.2 L1368.4,458.7 L1383.7,464.5 L1398.8,470.4 L1413.6,476.5 L1428.2,482.8 L1442.5,489.2 L1456.6,495.8 L1470.3,502.6 L1483.8,509.6 L1497.0,516.7 L1509.8,524.0 L1522.3,531.5 L1534.6,539.0 L1546.4,546.8 L1558.0,554.6 L1569.2,562.6 L1580.0,570.8 L1590.5,579.0 L1600.6,587.4 L1610.4,595.9 L1619.7,604.5 L1628.7,613.2 L1637.3,622.0 L1645.5,630.9 L1653.3,639.8 L1660.7,648.9 L1667.7,658.0 L1674.3,667.2 L1680.4,676.5 L1686.2,685.8 L1691.5,695.2 L1696.3,704.6 L1700.8,714.1 L1704.8,723.5 L1708.4,733.1 L1711.5,742.6 L1714.2,752.2 L1716.4,761.8 L1718.2,771.4 L1719.6,780.9 L1720.5,790.5 L1721.0,800.1 L1721.0,809.6 L1720.6,819.2 L1719.7,828.6 L1718.4,838.1 L1716.6,847.5 L1714.4,856.9 L1711.8,866.2 L1708.7,875.5 L1705.2,884.7 L1701.2,893.8 L1696.8,902.8 L1692.0,911.8 L1686.7,920.7 L1681.0,929.5 L1674.9,938.1 L1668.4,946.7 Z" fill="url(#gOlive)" />
<path d="M276.7,709.7 L278.2,700.3 L280.1,690.9 L282.5,681.5 L285.3,672.2 L288.5,663.0 L292.2,653.8 L296.4,644.7 L300.9,635.7 L305.9,626.8 L311.3,617.9 L317.2,609.2 L323.4,600.5 L330.1,592.0 L337.2,583.5 L344.7,575.2 L352.6,567.0 L360.9,559.0 L369.6,551.0 L378.7,543.2 L388.2,535.5 L398.0,528.0 L408.2,520.7 L418.8,513.4 L429.7,506.4 L441.0,499.5 L452.7,492.8 L464.6,486.2 L476.9,479.8 L489.6,473.7 L502.5,467.6 L515.7,461.8 L529.3,456.2 L543.1,450.7 L557.2,445.5 L571.6,440.5 L586.3,435.6 L601.2,431.0 L616.3,426.6 L631.7,422.4 L647.3,418.4 L663.1,414.6 L679.2,411.1 L695.4,407.7 L711.8,404.6 L728.4,401.7 L745.2,399.1 L762.1,396.7 L779.2,394.5 L796.4,392.5 L813.7,390.8 L831.1,389.3 L848.7,388.1 L866.3,387.0 L884.0,386.3 L901.8,385.7 L919.6,385.4 L937.5,385.4 L955.5,385.5 L973.4,385.9 L991.4,386.6 L1009.4,387.5 L1027.3,388.6 L1045.3,390.0 L1063.2,391.6 L1081.1,393.4 L1098.9,395.5 L1116.7,397.8 L1134.4,400.3 L1152.0,403.0 L1169.5,406.0 L1186.9,409.2 L1204.2,412.7 L1221.4,416.3 L1238.4,420.2 L1255.3,424.3 L1272.0,428.6 L1288.5,433.1 L1304.9,437.8 L1321.1,442.7 L1337.1,447.9 L1352.8,453.2 L1368.4,458.7 L1383.7,464.5 L1398.8,470.4 L1413.6,476.5 L1428.2,482.8 L1442.5,489.2 L1456.6,495.8 L1470.3,502.6 L1483.8,509.6 L1497.0,516.7 L1509.8,524.0 L1522.3,531.5 L1534.6,539.0 L1546.4,546.8 L1558.0,554.6 L1569.2,562.6 L1580.0,570.8 L1590.5,579.0 L1600.6,587.4 L1610.4,595.9 L1619.7,604.5 L1628.7,613.2 L1637.3,622.0 L1645.5,630.9 L1653.3,639.8 L1660.7,648.9 L1667.7,658.0 L1674.3,667.2 L1680.4,676.5 L1686.2,685.8 L1691.5,695.2 L1696.3,704.6 L1700.8,714.1 L1704.8,723.5 L1708.4,733.1 L1711.5,742.6 L1714.2,752.2 L1716.4,761.8 L1718.2,771.4 L1719.6,780.9 L1720.5,790.5 L1721.0,800.1 L1721.0,809.6 L1720.6,819.2 L1719.7,828.6 L1718.4,838.1 L1716.6,847.5 L1714.4,856.9 L1711.8,866.2 L1708.7,875.5 L1705.2,884.7 L1701.2,893.8 L1696.8,902.8 L1692.0,911.8 L1686.7,920.7 L1681.0,929.5 L1674.9,938.1 L1668.4,946.7" fill="none" stroke="#77774f" stroke-width="0.8" />
<ellipse cx="0" cy="0" rx="1" ry="1" fill="url(#gGlow)" transform="translate(1070,625) rotate(4) scale(300,95)"/>
<g transform="translate(363.0,640.0) rotate(12.7)">
<ellipse cx="0" cy="0" rx="42.0" ry="27.0" fill="#b0af88" stroke="#55553a" stroke-width="0.9"/>
<path d="M-37.6,-9.7 A40.5,25.5 0 0 1 -18.9,-22.5" fill="none" stroke="#e4e3bd" stroke-width="2.6"/>
<path d="M21.0,-21.7 A40.5,25.5 0 0 1 30.2,-17.2" fill="none" stroke="#d5d4ab" stroke-width="2.4"/>
<clipPath id="hc1"><ellipse cx="0.8" cy="2.3" rx="38.4" ry="23.8"/></clipPath>
<ellipse cx="0.8" cy="2.3" rx="38.4" ry="23.8" fill="url(#gHole)" stroke="#55553a" stroke-width="0.9"/>
</g>
<g transform="translate(363.0,640.0) rotate(12.7)"><g clip-path="url(#hc1)"><ellipse cx="17.2" cy="39.9" rx="36.0" ry="23.0" fill="#ecebbb" stroke="#66664a" stroke-width="0.9"/></g></g>
<g transform="translate(410.0,582.0) rotate(11.8)">
<ellipse cx="0" cy="0" rx="42.0" ry="29.0" fill="#b0af88" stroke="#55553a" stroke-width="0.9"/>
<path d="M-37.6,-10.4 A40.5,27.5 0 0 1 -18.9,-24.3" fill="none" stroke="#e4e3bd" stroke-width="2.6"/>
<path d="M21.0,-23.4 A40.5,27.5 0 0 1 30.2,-18.5" fill="none" stroke="#d5d4ab" stroke-width="2.4"/>
<clipPath id="hc2"><ellipse cx="0.8" cy="2.3" rx="38.4" ry="25.8"/></clipPath>
<ellipse cx="0.8" cy="2.3" rx="38.4" ry="25.8" fill="url(#gHole)" stroke="#55553a" stroke-width="0.9"/>
</g>
<g transform="translate(410.0,582.0) rotate(11.8)"><g clip-path="url(#hc2)"><ellipse cx="16.1" cy="40.8" rx="36.0" ry="25.0" fill="#ecebbb" stroke="#66664a" stroke-width="0.9"/></g></g>
<g transform="translate(475.0,533.0) rotate(10.5)">
<ellipse cx="0" cy="0" rx="42.0" ry="30.5" fill="#b0af88" stroke="#55553a" stroke-width="0.9"/>
<path d="M-37.6,-11.0 A40.5,29.0 0 0 1 -18.9,-25.6" fill="none" stroke="#e4e3bd" stroke-width="2.6"/>
<path d="M21.0,-24.7 A40.5,29.0 0 0 1 30.2,-19.5" fill="none" stroke="#d5d4ab" stroke-width="2.4"/>
<clipPath id="hc3"><ellipse cx="0.8" cy="2.3" rx="38.4" ry="27.3"/></clipPath>
<ellipse cx="0.8" cy="2.3" rx="38.4" ry="27.3" fill="url(#gHole)" stroke="#55553a" stroke-width="0.9"/>
</g>
<g transform="translate(475.0,533.0) rotate(10.5)"><g clip-path="url(#hc3)"><ellipse cx="14.6" cy="42.1" rx="36.0" ry="26.5" fill="#ecebbb" stroke="#66664a" stroke-width="0.9"/></g></g>
<g transform="translate(555.5,491.0) rotate(8.8)">
<ellipse cx="0" cy="0" rx="43.0" ry="32.0" fill="#b0af88" stroke="#55553a" stroke-width="0.9"/>
<path d="M-38.5,-11.5 A41.5,30.5 0 0 1 -19.4,-27.0" fill="none" stroke="#e4e3bd" stroke-width="2.6"/>
<path d="M21.5,-26.0 A41.5,30.5 0 0 1 31.0,-20.6" fill="none" stroke="#d5d4ab" stroke-width="2.4"/>
<clipPath id="hc4"><ellipse cx="0.8" cy="2.3" rx="39.4" ry="28.8"/></clipPath>
<ellipse cx="0.8" cy="2.3" rx="39.4" ry="28.8" fill="url(#gHole)" stroke="#55553a" stroke-width="0.9"/>
</g>
<g transform="translate(555.5,491.0) rotate(8.8)"><g clip-path="url(#hc4)"><ellipse cx="12.6" cy="43.6" rx="37.0" ry="28.0" fill="#ecebbb" stroke="#66664a" stroke-width="0.9"/></g></g>
<g transform="translate(648.0,460.0) rotate(6.9)">
<ellipse cx="0" cy="0" rx="42.5" ry="33.0" fill="#b0af88" stroke="#55553a" stroke-width="0.9"/>
<path d="M-38.0,-11.9 A41.0,31.5 0 0 1 -19.1,-27.9" fill="none" stroke="#e4e3bd" stroke-width="2.6"/>
<path d="M21.2,-26.9 A41.0,31.5 0 0 1 30.6,-21.2" fill="none" stroke="#d5d4ab" stroke-width="2.4"/>
<clipPath id="hc5"><ellipse cx="0.8" cy="2.3" rx="38.9" ry="29.8"/></clipPath>
<ellipse cx="0.8" cy="2.3" rx="38.9" ry="29.8" fill="url(#gHole)" stroke="#55553a" stroke-width="0.9"/>
</g>
<g transform="translate(648.0,460.0) rotate(6.9)"><g clip-path="url(#hc5)"><ellipse cx="10.2" cy="45.2" rx="36.5" ry="29.0" fill="#ecebbb" stroke="#66664a" stroke-width="0.9"/></g></g>
<g transform="translate(755.0,437.0) rotate(4.8)">
<ellipse cx="0" cy="0" rx="42.5" ry="33.5" fill="#b0af88" stroke="#55553a" stroke-width="0.9"/>
<path d="M-38.0,-12.1 A41.0,32.0 0 0 1 -19.1,-28.3" fill="none" stroke="#e4e3bd" stroke-width="2.6"/>
<path d="M21.2,-27.3 A41.0,32.0 0 0 1 30.6,-21.6" fill="none" stroke="#d5d4ab" stroke-width="2.4"/>
<clipPath id="hc6"><ellipse cx="0.8" cy="2.3" rx="38.9" ry="30.3"/></clipPath>
<ellipse cx="0.8" cy="2.3" rx="38.9" ry="30.3" fill="url(#gHole)" stroke="#55553a" stroke-width="0.9"/>
</g>
<g transform="translate(755.0,437.0) rotate(4.8)"><g clip-path="url(#hc6)"><ellipse cx="7.4" cy="46.2" rx="36.5" ry="29.5" fill="#ecebbb" stroke="#66664a" stroke-width="0.9"/></g></g>
<g transform="translate(867.0,424.5) rotate(2.5)">
<ellipse cx="0" cy="0" rx="43.0" ry="34.0" fill="#b0af88" stroke="#55553a" stroke-width="0.9"/>
<path d="M-38.5,-12.2 A41.5,32.5 0 0 1 -19.4,-28.8" fill="none" stroke="#e4e3bd" stroke-width="2.6"/>
<path d="M21.5,-27.7 A41.5,32.5 0 0 1 31.0,-21.9" fill="none" stroke="#d5d4ab" stroke-width="2.4"/>
<clipPath id="hc7"><ellipse cx="0.8" cy="2.3" rx="39.4" ry="30.8"/></clipPath>
<ellipse cx="0.8" cy="2.3" rx="39.4" ry="30.8" fill="url(#gHole)" stroke="#55553a" stroke-width="0.9"/>
</g>
<g transform="translate(867.0,424.5) rotate(2.5)"><g clip-path="url(#hc7)"><ellipse cx="4.2" cy="46.5" rx="37.0" ry="30.0" fill="#ecebbb" stroke="#66664a" stroke-width="0.9"/></g></g>
<g transform="translate(983.0,423.0) rotate(0.1)">
<ellipse cx="0" cy="0" rx="43.0" ry="34.0" fill="#b0af88" stroke="#55553a" stroke-width="0.9"/>
<path d="M-38.5,-12.2 A41.5,32.5 0 0 1 -19.4,-28.8" fill="none" stroke="#e4e3bd" stroke-width="2.6"/>
<path d="M21.5,-27.7 A41.5,32.5 0 0 1 31.0,-21.9" fill="none" stroke="#d5d4ab" stroke-width="2.4"/>
<clipPath id="hc8"><ellipse cx="0.8" cy="2.3" rx="39.4" ry="30.8"/></clipPath>
<ellipse cx="0.8" cy="2.3" rx="39.4" ry="30.8" fill="url(#gHole)" stroke="#55553a" stroke-width="0.9"/>
</g>
<g transform="translate(983.0,423.0) rotate(0.1)"><g clip-path="url(#hc8)"><ellipse cx="1.0" cy="46.6" rx="37.0" ry="30.0" fill="#ecebbb" stroke="#66664a" stroke-width="0.9"/></g></g>
<g transform="translate(1101.0,435.0) rotate(-2.3)">
<ellipse cx="0" cy="0" rx="43.0" ry="33.5" fill="#b0af88" stroke="#55553a" stroke-width="0.9"/>
<path d="M-38.5,-12.1 A41.5,32.0 0 0 1 -19.4,-28.3" fill="none" stroke="#e4e3bd" stroke-width="2.6"/>
<path d="M21.5,-27.3 A41.5,32.0 0 0 1 31.0,-21.6" fill="none" stroke="#d5d4ab" stroke-width="2.4"/>
<clipPath id="hc9"><ellipse cx="0.8" cy="2.3" rx="39.4" ry="30.3"/></clipPath>
<ellipse cx="0.8" cy="2.3" rx="39.4" ry="30.3" fill="url(#gHole)" stroke="#55553a" stroke-width="0.9"/>
</g>
<g transform="translate(1101.0,435.0) rotate(-2.3)"><g clip-path="url(#hc9)"><ellipse cx="-2.3" cy="46.5" rx="37.0" ry="29.5" fill="#ecebbb" stroke="#66664a" stroke-width="0.9"/></g></g>
<g transform="translate(1215.0,456.0) rotate(-4.6)">
<ellipse cx="0" cy="0" rx="43.0" ry="33.0" fill="#b0af88" stroke="#55553a" stroke-width="0.9"/>
<path d="M-38.5,-11.9 A41.5,31.5 0 0 1 -19.4,-27.9" fill="none" stroke="#e4e3bd" stroke-width="2.6"/>
<path d="M21.5,-26.9 A41.5,31.5 0 0 1 31.0,-21.2" fill="none" stroke="#d5d4ab" stroke-width="2.4"/>
<clipPath id="hc10"><ellipse cx="0.8" cy="2.3" rx="39.4" ry="29.8"/></clipPath>
<ellipse cx="0.8" cy="2.3" rx="39.4" ry="29.8" fill="url(#gHole)" stroke="#55553a" stroke-width="0.9"/>
</g>
<g transform="translate(1215.0,456.0) rotate(-4.6)"><g clip-path="url(#hc10)"><ellipse cx="-5.5" cy="46.2" rx="37.0" ry="29.0" fill="#ecebbb" stroke="#66664a" stroke-width="0.9"/></g></g>
<g transform="translate(1322.0,489.0) rotate(-6.7)">
<ellipse cx="0" cy="0" rx="43.0" ry="33.0" fill="#b0af88" stroke="#55553a" stroke-width="0.9"/>
<path d="M-38.5,-11.9 A41.5,31.5 0 0 1 -19.4,-27.9" fill="none" stroke="#e4e3bd" stroke-width="2.6"/>
<path d="M21.5,-26.9 A41.5,31.5 0 0 1 31.0,-21.2" fill="none" stroke="#d5d4ab" stroke-width="2.4"/>
<clipPath id="hc11"><ellipse cx="0.8" cy="2.3" rx="39.4" ry="29.8"/></clipPath>
<ellipse cx="0.8" cy="2.3" rx="39.4" ry="29.8" fill="url(#gHole)" stroke="#55553a" stroke-width="0.9"/>
</g>
<g transform="translate(1322.0,489.0) rotate(-6.7)"><g clip-path="url(#hc11)"><ellipse cx="-8.4" cy="45.8" rx="37.0" ry="29.0" fill="#ecebbb" stroke="#66664a" stroke-width="0.9"/></g></g>
<g transform="translate(1420.0,529.0) rotate(-8.7)">
<ellipse cx="0" cy="0" rx="44.0" ry="32.0" fill="#b0af88" stroke="#55553a" stroke-width="0.9"/>
<path d="M-39.4,-11.5 A42.5,30.5 0 0 1 -19.8,-27.0" fill="none" stroke="#e4e3bd" stroke-width="2.6"/>
<path d="M22.0,-26.0 A42.5,30.5 0 0 1 31.7,-20.6" fill="none" stroke="#d5d4ab" stroke-width="2.4"/>
<clipPath id="hc12"><ellipse cx="0.8" cy="2.3" rx="40.4" ry="28.8"/></clipPath>
<ellipse cx="0.8" cy="2.3" rx="40.4" ry="28.8" fill="url(#gHole)" stroke="#55553a" stroke-width="0.9"/>
</g>
<g transform="translate(1420.0,529.0) rotate(-8.7)"><g clip-path="url(#hc12)"><ellipse cx="-11.1" cy="45.3" rx="38.0" ry="28.0" fill="#ecebbb" stroke="#66664a" stroke-width="0.9"/></g></g>
<g transform="translate(1506.0,577.0) rotate(-10.5)">
<ellipse cx="0" cy="0" rx="44.0" ry="30.5" fill="#b0af88" stroke="#55553a" stroke-width="0.9"/>
<path d="M-39.4,-11.0 A42.5,29.0 0 0 1 -19.8,-25.6" fill="none" stroke="#e4e3bd" stroke-width="2.6"/>
<path d="M22.0,-24.7 A42.5,29.0 0 0 1 31.7,-19.5" fill="none" stroke="#d5d4ab" stroke-width="2.4"/>
<clipPath id="hc13"><ellipse cx="0.8" cy="2.3" rx="40.4" ry="27.3"/></clipPath>
<ellipse cx="0.8" cy="2.3" rx="40.4" ry="27.3" fill="url(#gHole)" stroke="#55553a" stroke-width="0.9"/>
</g>
<g transform="translate(1506.0,577.0) rotate(-10.5)"><g clip-path="url(#hc13)"><ellipse cx="-13.5" cy="44.7" rx="38.0" ry="26.5" fill="#ecebbb" stroke="#66664a" stroke-width="0.9"/></g></g>
<g transform="translate(1576.0,632.0) rotate(-11.9)">
<ellipse cx="0" cy="0" rx="44.0" ry="29.0" fill="#b0af88" stroke="#55553a" stroke-width="0.9"/>
<path d="M-39.4,-10.4 A42.5,27.5 0 0 1 -19.8,-24.3" fill="none" stroke="#e4e3bd" stroke-width="2.6"/>
<path d="M22.0,-23.4 A42.5,27.5 0 0 1 31.7,-18.5" fill="none" stroke="#d5d4ab" stroke-width="2.4"/>
<clipPath id="hc14"><ellipse cx="0.8" cy="2.3" rx="40.4" ry="25.8"/></clipPath>
<ellipse cx="0.8" cy="2.3" rx="40.4" ry="25.8" fill="url(#gHole)" stroke="#55553a" stroke-width="0.9"/>
</g>
<g transform="translate(1576.0,632.0) rotate(-11.9)"><g clip-path="url(#hc14)"><ellipse cx="-15.4" cy="44.2" rx="38.0" ry="25.0" fill="#ecebbb" stroke="#66664a" stroke-width="0.9"/></g></g>
<g transform="translate(1627.5,692.0) rotate(-12.9)">
<ellipse cx="0" cy="0" rx="44.0" ry="27.0" fill="#b0af88" stroke="#55553a" stroke-width="0.9"/>
<path d="M-39.4,-9.7 A42.5,25.5 0 0 1 -19.8,-22.5" fill="none" stroke="#e4e3bd" stroke-width="2.6"/>
<path d="M22.0,-21.7 A42.5,25.5 0 0 1 31.7,-17.2" fill="none" stroke="#d5d4ab" stroke-width="2.4"/>
<clipPath id="hc15"><ellipse cx="0.8" cy="2.3" rx="40.4" ry="23.8"/></clipPath>
<ellipse cx="0.8" cy="2.3" rx="40.4" ry="23.8" fill="url(#gHole)" stroke="#55553a" stroke-width="0.9"/>
</g>
<g transform="translate(1627.5,692.0) rotate(-12.9)"><g clip-path="url(#hc15)"><ellipse cx="-16.7" cy="43.7" rx="38.0" ry="23.0" fill="#ecebbb" stroke="#66664a" stroke-width="0.9"/></g></g>
<g transform="translate(1661.0,754.5) rotate(-13.6)">
<ellipse cx="0" cy="0" rx="44.0" ry="25.0" fill="#b0af88" stroke="#55553a" stroke-width="0.9"/>
<path d="M-39.4,-9.0 A42.5,23.5 0 0 1 -19.8,-20.8" fill="none" stroke="#e4e3bd" stroke-width="2.6"/>
<path d="M22.0,-20.0 A42.5,23.5 0 0 1 31.7,-15.8" fill="none" stroke="#d5d4ab" stroke-width="2.4"/>
<clipPath id="hc16"><ellipse cx="0.8" cy="2.3" rx="40.4" ry="21.8"/></clipPath>
<ellipse cx="0.8" cy="2.3" rx="40.4" ry="21.8" fill="url(#gHole)" stroke="#55553a" stroke-width="0.9"/>
</g>
<g transform="translate(1661.0,754.5) rotate(-13.6)"><g clip-path="url(#hc16)"><ellipse cx="-17.6" cy="43.4" rx="38.0" ry="21.0" fill="#ecebbb" stroke="#66664a" stroke-width="0.9"/></g></g>
<g transform="translate(1674.4,817.2) rotate(-13.9)">
<ellipse cx="0" cy="0" rx="44.0" ry="23.2" fill="#b0af88" stroke="#55553a" stroke-width="0.9"/>
<path d="M-39.4,-8.4 A42.5,21.7 0 0 1 -19.8,-19.1" fill="none" stroke="#e4e3bd" stroke-width="2.6"/>
<path d="M22.0,-18.5 A42.5,21.7 0 0 1 31.7,-14.6" fill="none" stroke="#d5d4ab" stroke-width="2.4"/>
<clipPath id="hc17"><ellipse cx="0.8" cy="2.3" rx="40.4" ry="20.0"/></clipPath>
<ellipse cx="0.8" cy="2.3" rx="40.4" ry="20.0" fill="url(#gHole)" stroke="#55553a" stroke-width="0.9"/>
</g>
<g transform="translate(1674.4,817.2) rotate(-13.9)"><g clip-path="url(#hc17)"><ellipse cx="-18.0" cy="43.3" rx="38.0" ry="19.2" fill="#ecebbb" stroke="#66664a" stroke-width="0.9"/></g></g>
<path d="M1148.0,640.0 L1168.0,614.0 L1188.0,590.0 L1190.1,590.7 L1192.9,591.7 L1196.2,592.8 L1199.9,594.0 L1203.8,595.4 L1207.8,596.8 L1211.5,598.4 L1215.0,600.0 L1218.3,601.7 L1221.6,603.6 L1224.8,605.6 L1228.1,607.6 L1231.2,609.7 L1234.3,611.9 L1237.2,614.0 L1240.0,616.0 L1242.6,618.0 L1245.1,620.0 L1247.5,622.1 L1249.8,624.1 L1252.0,626.1 L1254.1,628.1 L1256.1,630.1 L1258.0,632.0 L1259.8,633.8 L1261.4,635.6 L1262.9,637.4 L1264.4,639.1 L1265.8,640.8 L1267.1,642.5 L1268.5,644.2 L1270.0,646.0 L1271.5,647.8 L1273.1,649.7 L1274.7,651.6 L1276.2,653.4 L1277.8,655.3 L1279.3,657.2 L1280.7,659.1 L1282.0,661.0 L1283.2,662.9 L1284.4,664.8 L1285.4,666.7 L1286.4,668.6 L1287.4,670.4 L1288.3,672.3 L1289.2,674.2 L1290.0,676.0 L1290.8,677.8 L1291.6,679.6 L1292.3,681.3 L1292.9,683.1 L1293.5,684.8 L1294.1,686.5 L1294.6,688.3 L1295.0,690.0 L1295.3,691.7 L1295.6,693.4 L1295.8,695.1 L1295.9,696.8 L1296.0,698.5 L1296.1,700.2 L1296.0,702.1 L1296.0,704.0 L1295.9,706.2 L1295.7,708.6 L1295.4,711.2 L1295.1,713.9 L1294.7,716.4 L1294.4,718.7 L1294.2,720.6 L1294.0,722.0" fill="none" stroke="#c3c397" stroke-width="6" filter="url(#blur3)" opacity="0.6"/>
<path d="M1188.0,590.0 L1190.1,590.7 L1192.9,591.7 L1196.2,592.8 L1199.9,594.0 L1203.8,595.4 L1207.8,596.8 L1211.5,598.4 L1215.0,600.0 L1218.3,601.7 L1221.6,603.6 L1224.8,605.6 L1228.1,607.6 L1231.2,609.7 L1234.3,611.9 L1237.2,614.0 L1240.0,616.0 L1242.6,618.0 L1245.1,620.0 L1247.5,622.1 L1249.8,624.1 L1252.0,626.1 L1254.1,628.1 L1256.1,630.1 L1258.0,632.0 L1259.8,633.8 L1261.4,635.6 L1262.9,637.4 L1264.4,639.1 L1265.8,640.8 L1267.1,642.5 L1268.5,644.2 L1270.0,646.0 L1271.5,647.8 L1273.1,649.7 L1274.7,651.6 L1276.2,653.4 L1277.8,655.3 L1279.3,657.2 L1280.7,659.1 L1282.0,661.0 L1283.2,662.9 L1284.4,664.8 L1285.4,666.7 L1286.4,668.6 L1287.4,670.4 L1288.3,672.3 L1289.2,674.2 L1290.0,676.0 L1290.8,677.8 L1291.6,679.6 L1292.3,681.3 L1292.9,683.1 L1293.5,684.8 L1294.1,686.5 L1294.6,688.3 L1295.0,690.0 L1295.3,691.7 L1295.6,693.4 L1295.8,695.1 L1295.9,696.8 L1296.0,698.5 L1296.1,700.2 L1296.0,702.1 L1296.0,704.0 L1295.9,706.2 L1295.7,708.6 L1295.4,711.2 L1295.1,713.9 L1294.7,716.4 L1294.4,718.7 L1294.2,720.6 L1294.0,722.0 L1294.0,722.0 L1291.9,720.2 L1289.2,717.9 L1285.9,715.1 L1282.2,712.0 L1278.3,708.7 L1274.2,705.4 L1270.1,702.1 L1266.0,699.0 L1261.9,696.0 L1257.7,693.0 L1253.3,689.9 L1248.8,686.8 L1244.1,683.7 L1239.5,680.7 L1234.7,677.8 L1230.0,675.0 L1225.2,672.4 L1220.3,669.8 L1215.4,667.4 L1210.4,665.0 L1205.3,662.7 L1200.2,660.4 L1195.1,658.2 L1190.0,656.0 L1184.6,653.7 L1178.7,651.4 L1172.6,649.1 L1166.5,646.8 L1160.8,644.7 L1155.6,642.8 L1151.3,641.2 L1148.0,640.0 L1168.0,614.0 Z" fill="#b2b2b4" filter="url(#blur1)"/>
<path d="M592.0,717.0 L593.5,715.9 L595.4,714.4 L597.7,712.6 L600.2,710.6 L603.0,708.4 L606.0,706.2 L609.0,704.1 L612.0,702.0 L615.0,700.0 L618.0,698.1 L621.0,696.2 L624.2,694.2 L627.7,692.1 L631.4,689.9 L635.5,687.6 L640.0,685.0 L645.0,682.2 L650.5,679.0 L656.4,675.7 L662.5,672.3 L668.8,668.9 L675.2,665.4 L681.7,662.1 L688.0,659.0 L694.3,656.0 L700.8,653.1 L707.3,650.2 L713.9,647.4 L720.5,644.6 L727.0,642.0 L733.6,639.4 L740.0,637.0 L746.3,634.7 L752.6,632.5 L758.9,630.3 L765.1,628.3 L771.3,626.4 L777.5,624.5 L783.8,622.7 L790.0,621.0 L796.2,619.4 L802.5,617.8 L808.8,616.3 L815.0,614.9 L821.2,613.5 L827.5,612.3 L833.8,611.1 L840.0,610.0 L846.2,609.0 L852.5,608.1 L858.8,607.3 L865.0,606.5 L871.2,605.8 L877.5,605.2 L883.8,604.6 L890.0,604.0 L896.2,603.5 L902.5,602.9 L908.8,602.5 L915.0,602.0 L921.2,601.7 L927.5,601.4 L933.8,601.1 L940.0,601.0 L946.2,601.0 L952.5,601.0 L958.8,601.1 L965.0,601.3 L971.2,601.5 L977.5,601.8 L983.8,602.1 L990.0,602.5 L996.2,602.9 L1002.3,603.3 L1008.3,603.8 L1014.4,604.3 L1020.5,604.9 L1026.8,605.6 L1033.3,606.2 L1040.0,607.0 L1047.0,607.8 L1054.3,608.6 L1061.8,609.5 L1069.4,610.5 L1077.1,611.5 L1084.8,612.6 L1092.4,613.7 L1100.0,615.0 L1107.6,616.4 L1115.5,617.9 L1123.4,619.5 L1131.2,621.2 L1139.0,622.9 L1146.4,624.6 L1153.5,626.3 L1160.0,628.0 L1166.0,629.6 L1171.4,631.2 L1176.5,632.8 L1181.2,634.4 L1185.9,636.0 L1190.5,637.6 L1195.1,639.3 L1200.0,641.0 L1204.9,642.7 L1209.8,644.4 L1214.6,646.2 L1219.4,647.9 L1224.3,649.8 L1229.3,651.7 L1234.5,653.8 L1240.0,656.0 L1245.8,658.4 L1251.8,660.8 L1258.0,663.4 L1264.4,666.1 L1270.8,668.9 L1277.3,671.8 L1283.7,674.8 L1290.0,678.0 L1296.3,681.4 L1302.7,684.9 L1309.2,688.6 L1315.6,692.4 L1322.0,696.3 L1328.2,700.2 L1334.2,704.1 L1340.0,708.0 L1345.6,712.0 L1351.1,716.1 L1356.5,720.3 L1361.8,724.5 L1366.8,728.6 L1371.5,732.7 L1375.9,736.5 L1380.0,740.0 L1383.6,743.2 L1386.8,746.0 L1389.6,748.6 L1392.1,751.1 L1394.5,753.6 L1396.9,756.2 L1399.4,758.9 L1402.0,762.0 L1404.8,765.4 L1407.7,769.0 L1410.6,772.8 L1413.6,776.8 L1416.4,780.7 L1419.1,784.6 L1421.7,788.4 L1424.0,792.0 L1426.1,795.5 L1428.0,799.0 L1429.8,802.4 L1431.4,805.8 L1432.9,809.0 L1434.3,812.2 L1435.7,815.2 L1437.0,818.0 L1438.3,820.8 L1439.5,823.5 L1440.7,826.1 L1441.8,828.6 L1442.8,830.9 L1443.7,833.0 L1444.4,834.7 L1445.0,836.0" fill="none" stroke="#4f4f36" stroke-width="0.9" opacity="0.6"/>
</g>
<path d="M655.0,759.0 L655.3,758.2 L655.7,757.1 L656.1,755.8 L656.6,754.3 L657.2,752.8 L657.8,751.1 L658.4,749.5 L659.0,748.0 L659.6,746.5 L660.3,745.0 L660.9,743.4 L661.6,741.9 L662.4,740.3 L663.2,738.6 L664.0,736.8 L665.0,735.0 L666.0,733.1 L667.2,731.0 L668.3,728.9 L669.6,726.7 L670.9,724.5 L672.2,722.3 L673.6,720.1 L675.0,718.0 L676.4,715.9 L677.9,713.9 L679.4,711.9 L681.0,709.9 L682.6,707.9 L684.2,705.9 L685.8,703.9 L687.5,702.0 L689.2,700.1 L691.0,698.1 L692.7,696.2 L694.6,694.2 L696.4,692.4 L698.3,690.5 L700.1,688.7 L702.0,687.0 L703.9,685.3 L705.8,683.8 L707.7,682.2 L709.6,680.8 L711.5,679.3 L713.5,677.9 L715.5,676.4 L717.5,675.0 L719.6,673.6 L721.7,672.2 L723.8,670.8 L726.0,669.4 L728.2,668.0 L730.4,666.7 L732.7,665.3 L735.0,664.0 L737.4,662.7 L739.8,661.4 L742.2,660.1 L744.7,658.8 L747.2,657.6 L749.8,656.3 L752.4,655.1 L755.0,654.0 L757.6,652.9 L760.3,651.8 L763.1,650.8 L765.8,649.8 L768.6,648.8 L771.4,647.9 L774.2,646.9 L777.0,646.0 L779.8,645.1 L782.5,644.2 L785.2,643.3 L788.0,642.5 L790.8,641.6 L793.7,640.8 L796.8,639.9 L800.0,639.0 L803.4,638.1 L807.0,637.1 L810.7,636.2 L814.6,635.2 L818.4,634.2 L822.3,633.3 L826.2,632.4 L830.0,631.5 L833.6,630.7 L837.1,629.9 L840.6,629.1 L844.1,628.3 L847.7,627.6 L851.4,626.9 L855.5,626.2 L860.0,625.5 L864.9,624.8 L870.2,624.1 L875.8,623.4 L881.6,622.8 L887.5,622.1 L893.4,621.6 L899.3,621.0 L905.0,620.5 L910.7,620.1 L916.4,619.7 L922.1,619.3 L927.8,619.0 L933.5,618.7 L939.1,618.4 L944.6,618.2 L950.0,618.0 L955.2,617.8 L960.1,617.6 L964.9,617.5 L969.7,617.4 L974.5,617.3 L979.4,617.3 L984.6,617.4 L990.0,617.5 L995.7,617.7 L1001.6,617.9 L1007.6,618.2 L1013.8,618.5 L1020.1,619.0 L1026.6,619.5 L1033.2,620.2 L1040.0,621.0 L1047.2,622.0 L1054.8,623.2 L1062.6,624.6 L1070.6,626.0 L1078.5,627.5 L1086.2,629.1 L1093.4,630.6 L1100.0,632.0 L1106.0,633.4 L1111.4,634.7 L1116.5,636.0 L1121.2,637.4 L1125.9,638.7 L1130.5,640.1 L1135.1,641.5 L1140.0,643.0 L1145.1,644.5 L1150.2,646.1 L1155.4,647.7 L1160.6,649.4 L1165.7,651.0 L1170.7,652.7 L1175.5,654.4 L1180.0,656.0 L1184.2,657.6 L1188.2,659.2 L1192.0,660.8 L1195.6,662.4 L1199.2,664.0 L1202.7,665.6 L1206.3,667.3 L1210.0,669.0 L1213.8,670.8 L1217.6,672.6 L1221.4,674.4 L1225.2,676.2 L1229.0,678.1 L1232.8,680.1 L1236.4,682.0 L1240.0,684.0 L1243.5,686.0 L1246.8,688.1 L1250.1,690.1 L1253.4,692.2 L1256.6,694.4 L1259.7,696.6 L1262.9,698.8 L1266.0,701.0 L1269.1,703.2 L1272.2,705.5 L1275.2,707.8 L1278.2,710.1 L1281.2,712.4 L1284.2,714.9 L1287.1,717.4 L1290.0,720.0 L1292.9,722.7 L1295.7,725.6 L1298.6,728.5 L1301.4,731.6 L1304.1,734.6 L1306.8,737.7 L1309.5,740.9 L1312.0,744.0 L1314.5,747.2 L1317.0,750.5 L1319.4,753.9 L1321.8,757.2 L1324.0,760.6 L1326.2,763.9 L1328.2,767.0 L1330.0,770.0 L1331.7,772.8 L1333.2,775.4 L1334.5,777.9 L1335.8,780.4 L1336.9,782.8 L1338.0,785.1 L1339.0,787.5 L1340.0,790.0 L1341.0,792.5 L1341.9,795.1 L1342.7,797.7 L1343.4,800.2 L1344.1,802.8 L1344.8,805.3 L1345.4,807.7 L1346.0,810.0 L1346.5,812.2 L1347.1,814.3 L1347.5,816.4 L1347.9,818.4 L1348.3,820.3 L1348.6,822.2 L1348.8,824.1 L1349.0,826.0 L1349.1,827.8 L1349.1,829.6 L1349.0,831.4 L1348.9,833.1 L1348.8,834.8 L1348.6,836.5 L1348.3,838.3 L1348.0,840.0 L1347.6,841.8 L1347.1,843.8 L1346.5,845.9 L1345.9,847.9 L1345.3,849.8 L1344.8,851.5 L1344.3,852.9 L1344.0,854.0 L1330.0,852.0 L1330.0,852.0 L1327.8,850.3 L1325.0,848.1 L1321.6,845.5 L1317.8,842.5 L1313.7,839.4 L1309.3,836.1 L1304.7,832.8 L1300.0,829.5 L1295.0,826.2 L1289.5,822.6 L1283.6,818.8 L1277.5,815.0 L1271.4,811.2 L1265.5,807.5 L1260.0,804.1 L1255.0,801.0 L1250.8,798.4 L1247.5,796.1 L1244.6,794.1 L1241.9,792.3 L1238.9,790.4 L1235.3,788.3 L1230.8,785.9 L1225.0,783.0 L1217.8,779.5 L1209.4,775.6 L1200.2,771.4 L1190.3,767.0 L1180.1,762.5 L1169.8,758.1 L1159.7,753.9 L1150.0,750.0 L1140.4,746.3 L1130.4,742.7 L1120.3,739.2 L1110.3,735.8 L1100.6,732.6 L1091.3,729.6 L1082.7,726.9 L1075.0,724.5 L1068.4,722.5 L1062.7,720.9 L1057.7,719.6 L1053.1,718.6 L1048.8,717.6 L1044.5,716.8 L1040.0,715.9 L1035.0,715.0 L1029.6,714.0 L1024.2,713.1 L1018.7,712.2 L1013.1,711.3 L1007.5,710.5 L1001.7,709.8 L995.9,709.1 L990.0,708.5 L984.0,708.0 L977.9,707.5 L971.6,707.2 L965.3,706.8 L959.0,706.6 L952.6,706.4 L946.3,706.2 L940.0,706.0 L933.8,705.9 L927.5,705.7 L921.2,705.6 L915.0,705.6 L908.8,705.6 L902.5,705.7 L896.2,705.8 L890.0,706.0 L883.7,706.3 L877.3,706.6 L870.8,707.1 L864.4,707.6 L858.0,708.1 L851.8,708.7 L845.8,709.3 L840.0,710.0 L834.6,710.7 L829.5,711.4 L824.6,712.1 L819.9,712.9 L815.1,713.8 L810.3,714.8 L805.3,715.8 L800.0,717.0 L794.4,718.3 L788.5,719.7 L782.5,721.2 L776.4,722.8 L770.3,724.5 L764.1,726.3 L758.0,728.1 L752.0,730.0 L746.0,732.0 L739.9,734.2 L733.8,736.5 L727.7,738.9 L721.7,741.2 L715.9,743.6 L710.3,745.9 L705.0,748.0 L699.8,750.1 L694.6,752.3 L689.5,754.5 L684.6,756.6 L680.0,758.6 L676.0,760.4 L672.6,761.9 L670.0,763.0 L658.0,762.0 Z" fill="#d6d69e"/>
<path d="M753.5,729.0 L753.9,728.0 L754.4,726.7 L755.0,725.1 L755.7,723.3 L756.4,721.4 L757.2,719.5 L758.1,717.7 L759.0,716.0 L759.8,714.4 L760.6,712.9 L761.3,711.3 L762.1,709.8 L763.2,708.2 L764.5,706.7 L766.2,705.1 L768.5,703.5 L771.3,701.9 L774.5,700.2 L778.1,698.5 L782.0,696.8 L786.2,695.1 L790.7,693.4 L795.3,691.7 L800.0,690.0 L804.9,688.3 L809.9,686.5 L815.2,684.7 L820.7,683.0 L826.4,681.2 L832.4,679.6 L838.6,678.0 L845.0,676.5 L851.9,675.1 L859.3,673.8 L867.1,672.5 L875.0,671.2 L882.9,670.1 L890.7,669.1 L898.1,668.2 L905.0,667.5 L911.4,666.9 L917.4,666.6 L923.2,666.3 L928.8,666.2 L934.2,666.1 L939.5,666.1 L944.7,666.0 L950.0,666.0 L955.2,665.9 L960.1,665.9 L964.9,665.9 L969.7,665.9 L974.5,665.9 L979.4,666.0 L984.6,666.2 L990.0,666.5 L995.8,666.8 L1001.8,667.2 L1008.0,667.7 L1014.4,668.2 L1020.8,668.7 L1027.3,669.4 L1033.7,670.1 L1040.0,671.0 L1046.2,672.0 L1052.5,673.1 L1058.8,674.2 L1065.0,675.5 L1071.2,676.8 L1077.5,678.2 L1083.8,679.6 L1090.0,681.0 L1096.2,682.4 L1102.5,683.8 L1108.8,685.3 L1115.0,686.8 L1121.2,688.3 L1127.5,690.0 L1133.8,691.7 L1140.0,693.5 L1146.4,695.4 L1152.9,697.5 L1159.4,699.6 L1165.9,701.8 L1172.3,704.0 L1178.6,706.3 L1184.5,708.7 L1190.0,711.0 L1195.2,713.3 L1200.1,715.7 L1204.8,718.1 L1209.3,720.5 L1213.6,723.0 L1217.6,725.5 L1221.4,728.2 L1225.0,731.0 L1228.4,734.0 L1231.5,737.1 L1234.4,740.4 L1237.1,743.8 L1239.6,747.2 L1241.9,750.6 L1244.0,753.9 L1246.0,757.0 L1247.8,760.0 L1249.3,762.9 L1250.6,765.8 L1251.8,768.6 L1252.7,771.4 L1253.6,774.2 L1254.3,777.1 L1255.0,780.0 L1255.5,783.1 L1255.8,786.5 L1256.0,790.0 L1256.1,793.4 L1256.0,796.7 L1256.0,799.7 L1256.0,802.1 L1256.0,804.0 L1255.0,801.0 L1250.8,798.4 L1247.5,796.1 L1244.6,794.1 L1241.9,792.3 L1238.9,790.4 L1235.3,788.3 L1230.8,785.9 L1225.0,783.0 L1217.8,779.5 L1209.4,775.6 L1200.2,771.4 L1190.3,767.0 L1180.1,762.5 L1169.8,758.1 L1159.7,753.9 L1150.0,750.0 L1140.4,746.3 L1130.4,742.7 L1120.3,739.2 L1110.3,735.8 L1100.6,732.6 L1091.3,729.6 L1082.7,726.9 L1075.0,724.5 L1068.4,722.5 L1062.7,720.9 L1057.7,719.6 L1053.1,718.6 L1048.8,717.6 L1044.5,716.8 L1040.0,715.9 L1035.0,715.0 L1029.6,714.0 L1024.2,713.1 L1018.7,712.2 L1013.1,711.3 L1007.5,710.5 L1001.7,709.8 L995.9,709.1 L990.0,708.5 L984.0,708.0 L977.9,707.5 L971.6,707.2 L965.3,706.8 L959.0,706.6 L952.6,706.4 L946.3,706.2 L940.0,706.0 L933.8,705.9 L927.5,705.7 L921.2,705.6 L915.0,705.6 L908.8,705.6 L902.5,705.7 L896.2,705.8 L890.0,706.0 L883.7,706.3 L877.3,706.6 L870.8,707.1 L864.4,707.6 L858.0,708.1 L851.8,708.7 L845.8,709.3 L840.0,710.0 L834.6,710.7 L829.5,711.4 L824.6,712.1 L819.9,712.9 L815.1,713.8 L810.3,714.8 L805.3,715.8 L800.0,717.0 L794.4,718.3 L788.5,719.7 L782.5,721.2 L776.4,722.8 L770.3,724.5 L764.1,726.3 L758.0,728.1 Z" fill="#8f8f66"/>
<path d="M663.9,756.3 L665.5,751.7 L667.8,745.6 L670.4,739.5 L673.7,732.8 L678.2,724.7 L683.4,716.5 L689.2,708.7 L695.7,701.1 L702.9,693.7 L710.5,686.8 L718.3,680.8 L726.6,675.2 L735.5,669.8 L745.0,664.5 L755.2,659.4 L766.1,654.9 L777.5,650.9 L789.3,647.2 L801.0,643.8 L814.1,640.4 L829.2,636.8 L844.1,633.5 L858.2,630.7 L876.0,628.1 L898.1,625.7 L920.3,623.9 L942.3,622.8 L962.8,622.1 L981.8,621.8 L1003.5,622.5 L1027.8,624.1 L1055.3,627.8 L1085.3,633.5 L1109.3,638.9 L1128.0,644.2 L1147.6,650.1 L1167.5,656.4 L1184.3,662.7 L1198.8,669.0 L1213.9,675.9 L1229.0,683.3 L1242.9,691.2 L1255.8,699.6 L1268.2,708.3 L1280.1,717.7 L1291.4,728.5 L1302.2,740.4 L1311.9,753.0 L1320.4,765.7 L1326.6,776.2 L1331.0,785.7 L1334.6,795.7 L1337.3,805.4 L1339.3,813.7 L1340.5,821.4 L1340.6,828.6 L1339.8,835.6 L1337.9,843.4 L1336.1,849.5" fill="none" stroke="#9f9f6e" stroke-width="8" />
<path d="M684.5,750.0 L686.0,745.9 L688.1,740.4 L690.4,734.9 L693.4,728.9 L697.2,721.9 L701.6,714.9 L706.7,708.1 L712.7,701.6 L719.7,695.1 L727.3,689.0 L735.4,683.6 L744.0,678.5 L753.2,673.4 L763.1,668.6 L773.8,663.9 L785.1,659.7 L797.4,656.0 L810.2,652.6 L822.8,649.5 L836.1,646.6 L850.5,643.6 L864.6,641.0 L877.9,638.9 L894.0,636.8 L913.4,635.0 L932.7,633.6 L951.9,632.8 L970.4,632.4 L987.8,632.4 L1007.5,633.2 L1029.3,634.8 L1053.3,638.0 L1079.4,642.9 L1100.7,647.7 L1118.0,652.4 L1136.1,657.6 L1154.3,663.2 L1170.2,668.7 L1184.3,674.4 L1198.8,680.6 L1213.5,687.2 L1227.2,694.4 L1239.9,701.9 L1251.9,709.8 L1263.2,718.1 L1274.0,727.5 L1284.0,738.0 L1293.1,749.1 L1301.0,760.4 L1306.9,770.1 L1311.3,778.9 L1314.8,788.0 L1317.5,796.8 L1319.5,804.5 L1320.7,811.7 L1321.0,818.8 L1320.4,825.8 L1319.0,833.3 L1317.6,839.0" fill="none" stroke="#dbdba5" stroke-width="10" />
<path d="M704.2,744.0 L705.5,740.4 L707.4,735.5 L709.5,730.4 L712.2,725.1 L715.4,719.3 L719.0,713.3 L723.3,707.6 L728.8,702.0 L735.6,696.4 L743.4,691.1 L751.7,686.2 L760.6,681.6 L770.1,677.0 L780.3,672.5 L791.4,668.1 L803.3,664.3 L816.4,660.9 L830.1,657.7 L843.6,655.0 L857.0,652.4 L870.8,650.1 L884.1,648.2 L896.7,646.6 L911.2,645.2 L927.9,643.8 L944.5,642.8 L961.1,642.3 L977.5,642.2 L993.6,642.5 L1011.3,643.3 L1030.6,644.9 L1051.4,647.8 L1073.7,651.9 L1092.6,656.1 L1108.6,660.2 L1125.1,664.8 L1141.7,669.6 L1156.7,674.5 L1170.4,679.5 L1184.5,685.0 L1198.8,691.0 L1212.3,697.4 L1224.8,704.2 L1236.4,711.1 L1247.2,718.4 L1257.4,726.6 L1266.7,735.7 L1275.2,745.3 L1282.5,755.3 L1288.1,764.2 L1292.5,772.4 L1296.0,780.6 L1298.6,788.6 L1300.6,795.7 L1301.9,802.5 L1302.4,809.5 L1302.0,816.5 L1301.0,823.7 L1300.0,829.0" fill="none" stroke="#e4e4b2" stroke-width="8" />
<path d="M712.1,741.6 L713.4,738.2 L715.1,733.5 L717.2,728.7 L719.7,723.6 L722.6,718.2 L725.9,712.7 L730.0,707.4 L735.3,702.2 L742.0,696.9 L749.8,691.9 L758.2,687.3 L767.2,682.8 L776.8,678.4 L787.2,674.0 L798.5,669.8 L810.6,666.1 L824.0,662.8 L838.1,659.8 L851.9,657.1 L865.4,654.8 L878.9,652.7 L891.9,651.1 L904.2,649.7 L918.1,648.5 L933.7,647.3 L949.2,646.5 L964.8,646.2 L980.4,646.2 L995.9,646.5 L1012.9,647.4 L1031.2,648.9 L1050.7,651.6 L1071.4,655.5 L1089.3,659.4 L1104.8,663.4 L1120.7,667.6 L1136.7,672.2 L1151.3,676.8 L1164.9,681.5 L1178.8,686.8 L1192.9,692.5 L1206.3,698.6 L1218.8,705.0 L1230.2,711.6 L1240.8,718.6 L1250.7,726.3 L1259.8,734.7 L1268.0,743.8 L1275.1,753.3 L1280.6,761.9 L1284.9,769.8 L1288.5,777.7 L1291.1,785.3 L1293.1,792.2 L1294.4,798.9 L1294.9,805.7 L1294.7,812.8 L1293.8,819.8 L1293.0,825.0" fill="none" stroke="#f0f0c8" stroke-width="1.6" />
<path d="M725.9,737.4 L727.0,734.3 L728.7,730.1 L730.6,725.6 L732.8,721.0 L735.3,716.3 L738.0,711.6 L741.6,707.0 L746.6,702.5 L753.2,697.8 L761.0,693.3 L769.6,689.1 L778.8,685.0 L788.7,680.8 L799.3,676.7 L810.8,672.8 L823.3,669.3 L837.2,666.2 L852.0,663.4 L866.4,660.9 L880.0,658.9 L893.1,657.3 L905.5,656.1 L917.3,655.2 L930.1,654.3 L943.9,653.5 L957.4,653.0 L971.2,652.8 L985.4,653.1 L999.9,653.5 L1015.6,654.5 L1032.1,656.0 L1049.4,658.5 L1067.4,661.8 L1083.6,665.3 L1098.2,668.9 L1113.0,672.7 L1127.9,676.7 L1141.9,680.8 L1155.2,685.1 L1168.7,689.9 L1182.6,695.2 L1195.9,700.8 L1208.2,706.6 L1219.3,712.6 L1229.6,718.8 L1239.1,725.7 L1247.7,733.1 L1255.4,741.2 L1262.1,749.8 L1267.5,757.8 L1271.8,765.3 L1275.3,772.5 L1277.9,779.5 L1279.9,786.1 L1281.2,792.5 L1281.9,799.2 L1281.8,806.2 L1281.2,813.1 L1280.6,818.0" fill="none" stroke="#d7d79f" stroke-width="9" />
<path d="M745.6,731.4 L746.6,728.8 L748.0,725.1 L749.7,721.1 L751.6,717.3 L753.4,713.7 L755.4,710.1 L758.2,706.5 L762.8,702.9 L769.2,699.2 L777.0,695.4 L785.9,691.7 L795.4,688.1 L805.5,684.3 L816.5,680.6 L828.5,677.1 L841.5,673.9 L856.2,671.1 L871.9,668.5 L887.2,666.4 L901.0,664.8 L913.4,663.8 L925.0,663.2 L936.1,662.9 L947.3,662.6 L958.4,662.3 L969.2,662.2 L980.4,662.4 L992.6,662.9 L1005.6,663.6 L1019.4,664.7 L1033.5,666.1 L1047.5,668.2 L1061.8,670.8 L1075.5,673.7 L1088.7,676.7 L1102.0,679.9 L1115.4,683.1 L1128.4,686.5 L1141.3,690.2 L1154.4,694.4 L1167.8,698.9 L1181.0,703.8 L1193.0,708.8 L1203.8,713.9 L1213.6,719.2 L1222.5,724.7 L1230.4,730.8 L1237.5,737.5 L1243.6,744.7 L1248.7,751.9 L1253.0,758.7 L1256.5,765.2 L1259.1,771.3 L1261.0,777.3 L1262.4,783.3 L1263.3,789.9 L1263.4,796.9 L1263.2,803.4 L1263.0,808.0" fill="none" stroke="#c9c98f" stroke-width="7" />
<path d="M1166,660 L1190,678 L1210,696 L1227,714 L1240,732 L1249,751 L1254,770 L1255,785 L1254,798 L1290,824 L1318,845 L1317,823 L1311,804 L1303,786 L1288,762 L1269,741 L1247,721 L1222,703 L1195,684 Z" fill="#bdbd7b"/>
<path d="M753.5,729.0 L754.2,727.4 L755.0,725.2 L756.0,722.7 L757.1,719.8 L758.3,716.8 L759.6,713.7 L761.0,710.8 L762.5,708.0 L764.0,705.4 L765.7,702.8 L767.4,700.1 L769.2,697.5 L771.1,694.9 L773.1,692.2 L775.2,689.6 L777.5,687.0 L779.9,684.3 L782.4,681.6 L785.1,678.9 L787.8,676.2 L790.7,673.5 L793.7,670.9 L796.8,668.4 L800.0,666.0 L803.3,663.7 L806.6,661.5 L810.0,659.4 L813.6,657.3 L817.3,655.3 L821.3,653.3 L825.5,651.4 L830.0,649.5 L834.7,647.6 L839.5,645.7 L844.5,643.9 L849.7,642.1 L855.3,640.4 L861.3,638.8 L867.8,637.3 L875.0,636.0 L883.1,634.9 L892.2,633.9 L902.0,633.0 L912.2,632.2 L922.4,631.6 L932.3,631.0 L941.6,630.5 L950.0,630.0 L957.4,629.6 L964.3,629.2 L970.6,628.9 L976.6,628.7 L982.3,628.6 L988.1,628.5 L993.9,628.5 L1000.0,628.5 L1006.2,628.6 L1012.5,628.7 L1018.8,628.9 L1025.0,629.2 L1031.2,629.5 L1037.5,629.9 L1043.8,630.4 L1050.0,631.0 L1056.3,631.7 L1062.6,632.5 L1068.9,633.4 L1075.2,634.4 L1081.5,635.5 L1087.7,636.6 L1093.9,637.8 L1100.0,639.0 L1106.3,640.4 L1113.1,642.0 L1119.9,643.7 L1126.6,645.5 L1132.9,647.2 L1138.6,648.8 L1143.4,650.0 L1147.0,651.0" fill="none" stroke="#4a4a30" stroke-width="0.9" />
<path d="M655.0,759.0 L655.3,758.2 L655.7,757.1 L656.1,755.8 L656.6,754.3 L657.2,752.8 L657.8,751.1 L658.4,749.5 L659.0,748.0 L659.6,746.5 L660.3,745.0 L660.9,743.4 L661.6,741.9 L662.4,740.3 L663.2,738.6 L664.0,736.8 L665.0,735.0 L666.0,733.1 L667.2,731.0 L668.3,728.9 L669.6,726.7 L670.9,724.5 L672.2,722.3 L673.6,720.1 L675.0,718.0 L676.4,715.9 L677.9,713.9 L679.4,711.9 L681.0,709.9 L682.6,707.9 L684.2,705.9 L685.8,703.9 L687.5,702.0 L689.2,700.1 L691.0,698.1 L692.7,696.2 L694.6,694.2 L696.4,692.4 L698.3,690.5 L700.1,688.7 L702.0,687.0 L703.9,685.3 L705.8,683.8 L707.7,682.2 L709.6,680.8 L711.5,679.3 L713.5,677.9 L715.5,676.4 L717.5,675.0 L719.6,673.6 L721.7,672.2 L723.8,670.8 L726.0,669.4 L728.2,668.0 L730.4,666.7 L732.7,665.3 L735.0,664.0 L737.4,662.7 L739.8,661.4 L742.2,660.1 L744.7,658.8 L747.2,657.6 L749.8,656.3 L752.4,655.1 L755.0,654.0 L757.6,652.9 L760.3,651.8 L763.1,650.8 L765.8,649.8 L768.6,648.8 L771.4,647.9 L774.2,646.9 L777.0,646.0 L779.8,645.1 L782.5,644.2 L785.2,643.3 L788.0,642.5 L790.8,641.6 L793.7,640.8 L796.8,639.9 L800.0,639.0 L803.4,638.1 L807.0,637.1 L810.7,636.2 L814.6,635.2 L818.4,634.2 L822.3,633.3 L826.2,632.4 L830.0,631.5 L833.6,630.7 L837.1,629.9 L840.6,629.1 L844.1,628.3 L847.7,627.6 L851.4,626.9 L855.5,626.2 L860.0,625.5 L864.9,624.8 L870.2,624.1 L875.8,623.4 L881.6,622.8 L887.5,622.1 L893.4,621.6 L899.3,621.0 L905.0,620.5 L910.7,620.1 L916.4,619.7 L922.1,619.3 L927.8,619.0 L933.5,618.7 L939.1,618.4 L944.6,618.2 L950.0,618.0 L955.2,617.8 L960.1,617.6 L964.9,617.5 L969.7,617.4 L974.5,617.3 L979.4,617.3 L984.6,617.4 L990.0,617.5 L995.7,617.7 L1001.6,617.9 L1007.6,618.2 L1013.8,618.5 L1020.1,619.0 L1026.6,619.5 L1033.2,620.2 L1040.0,621.0 L1047.2,622.0 L1054.8,623.2 L1062.6,624.6 L1070.6,626.0 L1078.5,627.5 L1086.2,629.1 L1093.4,630.6 L1100.0,632.0 L1106.0,633.4 L1111.4,634.7 L1116.5,636.0 L1121.2,637.4 L1125.9,638.7 L1130.5,640.1 L1135.1,641.5 L1140.0,643.0 L1145.1,644.5 L1150.2,646.1 L1155.4,647.7 L1160.6,649.4 L1165.7,651.0 L1170.7,652.7 L1175.5,654.4 L1180.0,656.0 L1184.2,657.6 L1188.2,659.2 L1192.0,660.8 L1195.6,662.4 L1199.2,664.0 L1202.7,665.6 L1206.3,667.3 L1210.0,669.0 L1213.8,670.8 L1217.6,672.6 L1221.4,674.4 L1225.2,676.2 L1229.0,678.1 L1232.8,680.1 L1236.4,682.0 L1240.0,684.0 L1243.5,686.0 L1246.8,688.1 L1250.1,690.1 L1253.4,692.2 L1256.6,694.4 L1259.7,696.6 L1262.9,698.8 L1266.0,701.0 L1269.1,703.2 L1272.2,705.5 L1275.2,707.8 L1278.2,710.1 L1281.2,712.4 L1284.2,714.9 L1287.1,717.4 L1290.0,720.0 L1292.9,722.7 L1295.7,725.6 L1298.6,728.5 L1301.4,731.6 L1304.1,734.6 L1306.8,737.7 L1309.5,740.9 L1312.0,744.0 L1314.5,747.2 L1317.0,750.5 L1319.4,753.9 L1321.8,757.2 L1324.0,760.6 L1326.2,763.9 L1328.2,767.0 L1330.0,770.0 L1331.7,772.8 L1333.2,775.4 L1334.5,777.9 L1335.8,780.4 L1336.9,782.8 L1338.0,785.1 L1339.0,787.5 L1340.0,790.0 L1341.0,792.5 L1341.9,795.1 L1342.7,797.7 L1343.4,800.2 L1344.1,802.8 L1344.8,805.3 L1345.4,807.7 L1346.0,810.0 L1346.5,812.2 L1347.1,814.3 L1347.5,816.4 L1347.9,818.4 L1348.3,820.3 L1348.6,822.2 L1348.8,824.1 L1349.0,826.0 L1349.1,827.8 L1349.1,829.6 L1349.0,831.4 L1348.9,833.1 L1348.8,834.8 L1348.6,836.5 L1348.3,838.3 L1348.0,840.0 L1347.6,841.8 L1347.1,843.8 L1346.5,845.9 L1345.9,847.9 L1345.3,849.8 L1344.8,851.5 L1344.3,852.9 L1344.0,854.0" fill="none" stroke="#3c3c28" stroke-width="1.3" />
<path d="M660.9,757.2 L662.5,752.6 L664.9,746.3 L667.5,740.2 L670.9,733.4 L675.5,725.1 L680.8,716.7 L686.7,708.8 L693.3,701.1 L700.5,693.5 L708.1,686.5 L715.9,680.5 L724.2,674.8 L733.0,669.2 L742.4,663.9 L752.6,658.8 L763.3,654.2 L774.7,650.2 L786.3,646.4 L797.9,643.0 L811.0,639.5 L826.2,635.8 L841.2,632.4 L855.4,629.5 L873.4,626.9 L895.9,624.4 L918.5,622.5 L940.9,621.3 L961.8,620.6 L981.0,620.3 L1002.9,621.0 L1027.6,622.6 L1055.5,626.4 L1086.2,632.1 L1110.5,637.6 L1129.4,643.0 L1149.2,649.0 L1169.4,655.5 L1186.3,661.8 L1200.9,668.2 L1216.0,675.2 L1231.2,682.7 L1245.1,690.7 L1258.1,699.2 L1270.5,708.1 L1282.5,717.6 L1293.9,728.6 L1304.7,740.8 L1314.6,753.6 L1323.2,766.5 L1329.4,777.1 L1333.8,786.7 L1337.4,796.8 L1340.1,806.6 L1342.1,815.1 L1343.3,822.7 L1343.4,830.0 L1342.5,837.0 L1340.6,844.8 L1338.7,851.0" fill="none" stroke="#4a4a30" stroke-width="0.9" />
<path d="M671.0,760.5 L671.7,759.1 L672.6,757.2 L673.7,755.0 L674.9,752.5 L676.2,749.9 L677.5,747.2 L678.8,744.8 L680.0,742.5 L681.2,740.4 L682.4,738.5 L683.6,736.5 L684.8,734.6 L686.0,732.7 L687.3,730.9 L688.6,728.9 L690.0,727.0 L691.4,725.0 L692.9,723.0 L694.4,720.9 L696.0,718.9 L697.6,716.9 L699.2,714.9 L700.8,712.9 L702.5,711.0 L704.2,709.1 L706.0,707.3 L707.7,705.6 L709.6,703.8 L711.4,702.1 L713.3,700.4 L715.1,698.7 L717.0,697.0 L718.9,695.3 L720.8,693.6 L722.7,692.0 L724.6,690.3 L726.5,688.7 L728.5,687.1 L730.5,685.5 L732.5,684.0 L734.6,682.5 L736.7,681.1 L738.8,679.7 L741.0,678.3 L743.2,677.0 L745.4,675.6 L747.7,674.3 L750.0,673.0 L752.4,671.7 L754.8,670.4 L757.2,669.1 L759.7,667.9 L762.2,666.6 L764.8,665.4 L767.4,664.2 L770.0,663.0 L772.6,661.8 L775.3,660.6 L778.1,659.5 L780.8,658.3 L783.6,657.2 L786.4,656.1 L789.2,655.0 L792.0,654.0 L794.8,653.0 L797.5,652.0 L800.2,651.1 L803.0,650.2 L805.8,649.2 L808.7,648.3 L811.8,647.4 L815.0,646.5 L818.4,645.6 L822.0,644.6 L825.7,643.6 L829.6,642.7 L833.4,641.7 L837.3,640.8 L841.2,639.9 L845.0,639.0 L848.7,638.2 L852.3,637.4 L855.9,636.6 L859.6,635.8 L863.2,635.1 L867.0,634.4 L870.9,633.7 L875.0,633.0 L879.3,632.4 L883.7,631.7 L888.3,631.1 L893.0,630.6 L897.7,630.0 L902.5,629.5 L907.3,629.0 L912.0,628.5 L916.7,628.0 L921.4,627.6 L926.1,627.2 L930.8,626.8 L935.6,626.4 L940.3,626.1 L945.1,625.8 L950.0,625.5 L954.8,625.2 L959.6,625.0 L964.4,624.8 L969.2,624.6 L974.2,624.5 L979.2,624.4 L984.5,624.4 L990.0,624.5 L995.8,624.7 L1001.8,624.9 L1008.0,625.2 L1014.4,625.6 L1020.8,626.1 L1027.3,626.6 L1033.7,627.3 L1040.0,628.0 L1046.2,628.8 L1052.5,629.8 L1058.8,630.8 L1065.0,631.9 L1071.2,633.1 L1077.5,634.3 L1083.8,635.6 L1090.0,637.0 L1096.3,638.4 L1102.5,639.8 L1108.8,641.3 L1115.1,642.8 L1121.4,644.4 L1127.6,646.2 L1133.8,648.0 L1140.0,650.0 L1146.1,652.1 L1152.1,654.4 L1158.1,656.7 L1164.1,659.2 L1170.1,661.8 L1176.0,664.4 L1182.0,667.2 L1188.0,670.0 L1194.0,672.9 L1200.0,675.9 L1206.0,679.0 L1212.0,682.2 L1218.0,685.5 L1224.0,688.9 L1230.0,692.4 L1236.0,696.0 L1242.1,699.8 L1248.4,703.8 L1254.8,707.9 L1261.1,712.1 L1267.3,716.3 L1273.3,720.6 L1278.9,724.8 L1284.0,729.0 L1288.7,733.1 L1293.1,737.3 L1297.1,741.4 L1300.9,745.6 L1304.5,749.7 L1307.8,753.8 L1311.0,757.9 L1314.0,762.0 L1316.8,766.1 L1319.4,770.1 L1321.9,774.2 L1324.1,778.2 L1326.1,782.2 L1327.9,786.2 L1329.5,790.1 L1331.0,794.0 L1332.3,797.9 L1333.4,801.7 L1334.3,805.6 L1335.1,809.4 L1335.6,813.1 L1335.9,816.8 L1336.1,820.5 L1336.0,824.0 L1335.6,827.6 L1334.7,831.4 L1333.6,835.2 L1332.3,838.9 L1331.0,842.3 L1329.7,845.4 L1328.7,848.0 L1328.0,850.0" fill="none" stroke="#2f2f20" stroke-width="1.4" />
<path d="M667.8,755.1 L669.4,750.6 L671.6,744.6 L674.2,738.7 L677.5,732.0 L681.8,724.2 L686.9,716.2 L692.5,708.6 L698.9,701.2 L706.1,694.0 L713.7,687.2 L721.6,681.4 L730.0,675.8 L738.9,670.5 L748.5,665.3 L758.8,660.3 L769.7,655.8 L781.3,651.9 L793.3,648.2 L805.2,644.9 L818.3,641.6 L833.3,638.1 L848.0,634.9 L862.0,632.3 L879.4,629.8 L901.0,627.5 L922.7,625.8 L944.1,624.7 L964.3,624.0 L983.0,623.8 L1004.3,624.5 L1028.1,626.2 L1054.9,629.8 L1084.2,635.3 L1107.7,640.6 L1126.1,645.7 L1145.4,651.5 L1165.0,657.7 L1181.6,663.8 L1196.0,670.0 L1211.0,676.8 L1226.1,684.0 L1239.9,691.8 L1252.8,700.0 L1265.1,708.6 L1276.8,717.7 L1288.1,728.3 L1298.7,739.9 L1308.3,752.3 L1316.7,764.7 L1322.8,775.1 L1327.2,784.4 L1330.8,794.2 L1333.5,803.7 L1335.5,812.0 L1336.7,819.5 L1336.8,826.7 L1336.1,833.7 L1334.3,841.5 L1332.6,847.5" fill="none" stroke="#55553a" stroke-width="0.8" opacity="0.8"/>
<path d="M753.5,729.0 L753.9,728.0 L754.4,726.7 L755.0,725.1 L755.7,723.3 L756.4,721.4 L757.2,719.5 L758.1,717.7 L759.0,716.0 L759.8,714.4 L760.6,712.9 L761.3,711.3 L762.1,709.8 L763.2,708.2 L764.5,706.7 L766.2,705.1 L768.5,703.5 L771.3,701.9 L774.5,700.2 L778.1,698.5 L782.0,696.8 L786.2,695.1 L790.7,693.4 L795.3,691.7 L800.0,690.0 L804.9,688.3 L809.9,686.5 L815.2,684.7 L820.7,683.0 L826.4,681.2 L832.4,679.6 L838.6,678.0 L845.0,676.5 L851.9,675.1 L859.3,673.8 L867.1,672.5 L875.0,671.2 L882.9,670.1 L890.7,669.1 L898.1,668.2 L905.0,667.5 L911.4,666.9 L917.4,666.6 L923.2,666.3 L928.8,666.2 L934.2,666.1 L939.5,666.1 L944.7,666.0 L950.0,666.0 L955.2,665.9 L960.1,665.9 L964.9,665.9 L969.7,665.9 L974.5,665.9 L979.4,666.0 L984.6,666.2 L990.0,666.5 L995.8,666.8 L1001.8,667.2 L1008.0,667.7 L1014.4,668.2 L1020.8,668.7 L1027.3,669.4 L1033.7,670.1 L1040.0,671.0 L1046.2,672.0 L1052.5,673.1 L1058.8,674.2 L1065.0,675.5 L1071.2,676.8 L1077.5,678.2 L1083.8,679.6 L1090.0,681.0 L1096.2,682.4 L1102.5,683.8 L1108.8,685.3 L1115.0,686.8 L1121.2,688.3 L1127.5,690.0 L1133.8,691.7 L1140.0,693.5 L1146.4,695.4 L1152.9,697.5 L1159.4,699.6 L1165.9,701.8 L1172.3,704.0 L1178.6,706.3 L1184.5,708.7 L1190.0,711.0 L1195.2,713.3 L1200.1,715.7 L1204.8,718.1 L1209.3,720.5 L1213.6,723.0 L1217.6,725.5 L1221.4,728.2 L1225.0,731.0 L1228.4,734.0 L1231.5,737.1 L1234.4,740.4 L1237.1,743.8 L1239.6,747.2 L1241.9,750.6 L1244.0,753.9 L1246.0,757.0 L1247.8,760.0 L1249.3,762.9 L1250.6,765.8 L1251.8,768.6 L1252.7,771.4 L1253.6,774.2 L1254.3,777.1 L1255.0,780.0 L1255.5,783.1 L1255.8,786.5 L1256.0,790.0 L1256.1,793.4 L1256.0,796.7 L1256.0,799.7 L1256.0,802.1 L1256.0,804.0" fill="none" stroke="#4a4a30" stroke-width="0.9" />
<path d="M1147.0,651.0 L1148.4,651.6 L1150.3,652.4 L1152.5,653.3 L1155.0,654.4 L1157.7,655.6 L1160.5,656.9 L1163.3,658.4 L1166.0,660.0 L1168.8,661.8 L1171.7,663.9 L1174.8,666.1 L1177.9,668.4 L1181.1,670.9 L1184.2,673.3 L1187.2,675.7 L1190.0,678.0 L1192.7,680.2 L1195.4,682.5 L1197.9,684.8 L1200.4,687.0 L1202.9,689.2 L1205.3,691.5 L1207.7,693.8 L1210.0,696.0 L1212.3,698.2 L1214.6,700.5 L1216.8,702.8 L1218.9,705.0 L1221.0,707.2 L1223.1,709.5 L1225.1,711.8 L1227.0,714.0 L1228.8,716.2 L1230.6,718.5 L1232.3,720.7 L1234.0,722.9 L1235.6,725.2 L1237.1,727.4 L1238.6,729.7 L1240.0,732.0 L1241.3,734.3 L1242.6,736.7 L1243.8,739.1 L1245.0,741.4 L1246.1,743.8 L1247.1,746.2 L1248.1,748.6 L1249.0,751.0 L1249.8,753.3 L1250.6,755.5 L1251.3,757.7 L1252.0,759.9 L1252.6,762.2 L1253.1,764.6 L1253.6,767.2 L1254.0,770.0 L1254.3,773.3 L1254.6,777.0 L1254.7,781.1 L1254.8,785.2 L1254.9,789.2 L1254.9,792.8 L1255.0,795.8 L1255.0,798.0" fill="none" stroke="#4a4a30" stroke-width="0.9" />
<path d="M670.0,763.0 L672.6,761.9 L676.0,760.4 L680.0,758.6 L684.6,756.6 L689.5,754.5 L694.6,752.3 L699.8,750.1 L705.0,748.0 L710.3,745.9 L715.9,743.6 L721.7,741.2 L727.7,738.9 L733.8,736.5 L739.9,734.2 L746.0,732.0 L752.0,730.0 L758.0,728.1 L764.1,726.3 L770.3,724.5 L776.4,722.8 L782.5,721.2 L788.5,719.7 L794.4,718.3 L800.0,717.0 L805.3,715.8 L810.3,714.8 L815.1,713.8 L819.9,712.9 L824.6,712.1 L829.5,711.4 L834.6,710.7 L840.0,710.0 L845.8,709.3 L851.8,708.7 L858.0,708.1 L864.4,707.6 L870.8,707.1 L877.3,706.6 L883.7,706.3 L890.0,706.0 L896.2,705.8 L902.5,705.7 L908.8,705.6 L915.0,705.6 L921.2,705.6 L927.5,705.7 L933.8,705.9 L940.0,706.0 L946.3,706.2 L952.6,706.4 L959.0,706.6 L965.3,706.8 L971.6,707.2 L977.9,707.5 L984.0,708.0 L990.0,708.5 L995.9,709.1 L1001.7,709.8 L1007.5,710.5 L1013.1,711.3 L1018.7,712.2 L1024.2,713.1 L1029.6,714.0 L1035.0,715.0 L1040.0,715.9 L1044.5,716.8 L1048.8,717.6 L1053.1,718.6 L1057.7,719.6 L1062.7,720.9 L1068.4,722.5 L1075.0,724.5 L1082.7,726.9 L1091.3,729.6 L1100.6,732.6 L1110.3,735.8 L1120.3,739.2 L1130.4,742.7 L1140.4,746.3 L1150.0,750.0 L1159.7,753.9 L1169.8,758.1 L1180.1,762.5 L1190.3,767.0 L1200.2,771.4 L1209.4,775.6 L1217.8,779.5 L1225.0,783.0 L1230.8,785.9 L1235.3,788.3 L1238.9,790.4 L1241.9,792.3 L1244.6,794.1 L1247.5,796.1 L1250.8,798.4 L1255.0,801.0 L1260.0,804.1 L1265.5,807.5 L1271.4,811.2 L1277.5,815.0 L1283.6,818.8 L1289.5,822.6 L1295.0,826.2 L1300.0,829.5 L1304.7,832.8 L1309.3,836.1 L1313.7,839.4 L1317.8,842.5 L1321.6,845.5 L1325.0,848.1 L1327.8,850.3 L1330.0,852.0" fill="none" stroke="#2a2a20" stroke-width="1.1" />
<path d="M670.0,763.0 L672.6,761.9 L676.0,760.4 L680.0,758.6 L684.6,756.6 L689.5,754.5 L694.6,752.3 L699.8,750.1 L705.0,748.0 L710.3,745.9 L715.9,743.6 L721.7,741.2 L727.7,738.9 L733.8,736.5 L739.9,734.2 L746.0,732.0 L752.0,730.0 L758.0,728.1 L764.1,726.3 L770.3,724.5 L776.4,722.8 L782.5,721.2 L788.5,719.7 L794.4,718.3 L800.0,717.0 L805.3,715.8 L810.3,714.8 L815.1,713.8 L819.9,712.9 L824.6,712.1 L829.5,711.4 L834.6,710.7 L840.0,710.0 L845.8,709.3 L851.8,708.7 L858.0,708.1 L864.4,707.6 L870.8,707.1 L877.3,706.6 L883.7,706.3 L890.0,706.0 L896.2,705.8 L902.5,705.7 L908.8,705.6 L915.0,705.6 L921.2,705.6 L927.5,705.7 L933.8,705.9 L940.0,706.0 L946.3,706.2 L952.6,706.4 L959.0,706.6 L965.3,706.8 L971.6,707.2 L977.9,707.5 L984.0,708.0 L990.0,708.5 L995.9,709.1 L1001.7,709.8 L1007.5,710.5 L1013.1,711.3 L1018.7,712.2 L1024.2,713.1 L1029.6,714.0 L1035.0,715.0 L1040.0,715.9 L1044.5,716.8 L1048.8,717.6 L1053.1,718.6 L1057.7,719.6 L1062.7,720.9 L1068.4,722.5 L1075.0,724.5 L1082.7,726.9 L1091.3,729.6 L1100.6,732.6 L1110.3,735.8 L1120.3,739.2 L1130.4,742.7 L1140.4,746.3 L1150.0,750.0 L1159.7,753.9 L1169.8,758.1 L1180.1,762.5 L1190.3,767.0 L1200.2,771.4 L1209.4,775.6 L1217.8,779.5 L1225.0,783.0 L1230.8,785.9 L1235.3,788.3 L1238.9,790.4 L1241.9,792.3 L1244.6,794.1 L1247.5,796.1 L1250.8,798.4 L1255.0,801.0 L1260.0,804.1 L1265.5,807.5 L1271.4,811.2 L1277.5,815.0 L1283.6,818.8 L1289.5,822.6 L1295.0,826.2 L1300.0,829.5 L1304.7,832.8 L1309.3,836.1 L1313.7,839.4 L1317.8,842.5 L1321.6,845.5 L1325.0,848.1 L1327.8,850.3 L1330.0,852.0 L1323.0,892.0 L1217.0,881.0 L1000.0,860.0 L760.0,812.0 L667.0,803.0 L672.0,790.0 L680.0,775.0 L688.0,763.0 L695.0,753.0 Z" fill="#65646c" />
<path d="M752.0,815.0 L752.3,814.8 L752.8,814.7 L753.4,814.5 L754.0,814.3 L754.6,813.9 L755.3,813.4 L755.9,812.6 L756.5,811.5 L757.0,810.1 L757.3,808.4 L757.7,806.5 L758.0,804.3 L758.4,802.1 L759.0,799.7 L759.9,797.4 L761.0,795.0 L762.4,792.6 L764.0,790.1 L765.7,787.6 L767.7,785.0 L769.8,782.3 L772.1,779.6 L774.7,776.8 L777.5,774.0 L780.6,771.1 L783.9,768.1 L787.4,765.0 L791.2,761.8 L795.1,758.7 L799.2,755.6 L803.3,752.7 L807.5,750.0 L811.8,747.4 L816.2,744.9 L820.7,742.5 L825.3,740.2 L830.1,738.0 L834.9,735.9 L839.9,733.9 L845.0,732.0 L850.2,730.2 L855.4,728.5 L860.7,726.9 L866.1,725.3 L871.7,723.9 L877.5,722.5 L883.6,721.2 L890.0,720.0 L896.9,718.8 L904.4,717.6 L912.3,716.5 L920.3,715.4 L928.3,714.5 L936.1,713.6 L943.4,713.0 L950.0,712.5 L955.9,712.2 L961.2,712.2 L966.0,712.3 L970.6,712.5 L975.1,712.9 L979.8,713.2 L984.7,713.6 L990.0,714.0 L995.9,714.4 L1002.1,714.7 L1008.7,715.1 L1015.3,715.6 L1021.9,716.1 L1028.3,716.7 L1034.4,717.3 L1040.0,718.0 L1044.9,718.7 L1049.2,719.4 L1053.1,720.2 L1056.9,721.0 L1060.7,722.0 L1064.8,723.1 L1069.5,724.4 L1075.0,726.0 L1081.4,727.9 L1088.6,730.0 L1096.3,732.3 L1104.4,734.8 L1112.5,737.5 L1120.5,740.1 L1128.0,742.8 L1135.0,745.5 L1141.4,748.1 L1147.7,750.8 L1153.6,753.5 L1159.4,756.3 L1164.9,759.1 L1170.2,762.0 L1175.2,765.0 L1180.0,768.0 L1184.5,771.1 L1188.8,774.4 L1192.9,777.7 L1196.7,781.0 L1200.3,784.5 L1203.7,787.9 L1206.9,791.5 L1210.0,795.0 L1212.9,798.6 L1215.6,802.3 L1218.0,806.0 L1220.3,809.8 L1222.4,813.6 L1224.4,817.4 L1226.3,821.2 L1228.0,825.0 L1229.6,828.8 L1231.1,832.7 L1232.5,836.6 L1233.7,840.6 L1234.8,844.4 L1235.7,848.1 L1236.4,851.7 L1237.0,855.0 L1237.3,858.1 L1237.4,861.2 L1237.3,864.1 L1237.0,866.9 L1236.6,869.5 L1236.2,871.9 L1235.8,874.1 L1235.5,876.0 L1235.2,877.7 L1234.9,879.1 L1234.5,880.3 L1234.2,881.3 L1233.8,882.2 L1233.5,882.9 L1233.2,883.5 L1233.0,884.0 L1199.0,906.0 L1199.1,905.6 L1199.2,905.3 L1199.4,904.9 L1199.5,904.4 L1199.7,903.7 L1199.7,902.8 L1199.7,901.6 L1199.5,900.0 L1199.2,898.0 L1199.0,895.7 L1198.6,893.2 L1198.2,890.3 L1197.7,887.3 L1197.0,884.1 L1196.1,880.9 L1195.0,877.5 L1193.7,874.0 L1192.3,870.2 L1190.8,866.3 L1189.1,862.2 L1187.2,858.1 L1185.1,854.0 L1182.7,849.9 L1180.0,846.0 L1177.1,842.2 L1173.9,838.3 L1170.5,834.5 L1166.9,830.7 L1163.0,827.0 L1158.9,823.3 L1154.6,819.6 L1150.0,816.0 L1145.1,812.4 L1139.8,808.8 L1134.2,805.2 L1128.4,801.7 L1122.5,798.2 L1116.6,794.9 L1110.7,791.9 L1105.0,789.0 L1099.2,786.4 L1093.2,783.9 L1087.0,781.5 L1080.9,779.3 L1075.0,777.3 L1069.5,775.5 L1064.4,773.9 L1060.0,772.5 L1056.5,771.4 L1053.9,770.6 L1052.0,770.0 L1050.3,769.6 L1048.6,769.2 L1046.5,768.9 L1043.8,768.5 L1040.0,768.0 L1035.1,767.3 L1029.4,766.5 L1023.0,765.7 L1016.2,764.9 L1009.3,764.1 L1002.5,763.4 L996.0,762.9 L990.0,762.5 L984.7,762.2 L979.8,762.1 L975.1,762.0 L970.6,762.0 L966.0,762.1 L961.2,762.4 L955.9,762.9 L950.0,763.5 L943.4,764.3 L936.1,765.4 L928.3,766.5 L920.3,767.9 L912.3,769.3 L904.4,770.8 L896.9,772.4 L890.0,774.0 L883.6,775.6 L877.4,777.3 L871.5,779.0 L865.8,780.8 L860.3,782.7 L855.1,784.7 L849.9,786.8 L845.0,789.0 L840.2,791.3 L835.5,793.9 L831.0,796.5 L826.7,799.2 L822.6,802.0 L818.8,804.7 L815.3,807.4 L812.0,810.0 L809.1,812.5 L806.5,815.1 L804.1,817.6 L802.1,820.0 L800.2,822.5 L798.5,824.9 L796.9,827.2 L795.5,829.5 L794.2,831.8 L793.2,834.1 L792.3,836.4 L791.6,838.6 L791.0,840.7 L790.5,842.7 L790.0,844.5 L789.5,846.0 L789.0,847.3 L788.6,848.4 L788.2,849.3 L787.9,850.0 L787.6,850.7 L787.4,851.2 L787.2,851.6 L787.0,852.0 Z" fill="#6a6971"/>
<clipPath id="clipFil"><path d="M752.0,815.0 L752.3,814.8 L752.8,814.7 L753.4,814.5 L754.0,814.3 L754.6,813.9 L755.3,813.4 L755.9,812.6 L756.5,811.5 L757.0,810.1 L757.3,808.4 L757.7,806.5 L758.0,804.3 L758.4,802.1 L759.0,799.7 L759.9,797.4 L761.0,795.0 L762.4,792.6 L764.0,790.1 L765.7,787.6 L767.7,785.0 L769.8,782.3 L772.1,779.6 L774.7,776.8 L777.5,774.0 L780.6,771.1 L783.9,768.1 L787.4,765.0 L791.2,761.8 L795.1,758.7 L799.2,755.6 L803.3,752.7 L807.5,750.0 L811.8,747.4 L816.2,744.9 L820.7,742.5 L825.3,740.2 L830.1,738.0 L834.9,735.9 L839.9,733.9 L845.0,732.0 L850.2,730.2 L855.4,728.5 L860.7,726.9 L866.1,725.3 L871.7,723.9 L877.5,722.5 L883.6,721.2 L890.0,720.0 L896.9,718.8 L904.4,717.6 L912.3,716.5 L920.3,715.4 L928.3,714.5 L936.1,713.6 L943.4,713.0 L950.0,712.5 L955.9,712.2 L961.2,712.2 L966.0,712.3 L970.6,712.5 L975.1,712.9 L979.8,713.2 L984.7,713.6 L990.0,714.0 L995.9,714.4 L1002.1,714.7 L1008.7,715.1 L1015.3,715.6 L1021.9,716.1 L1028.3,716.7 L1034.4,717.3 L1040.0,718.0 L1044.9,718.7 L1049.2,719.4 L1053.1,720.2 L1056.9,721.0 L1060.7,722.0 L1064.8,723.1 L1069.5,724.4 L1075.0,726.0 L1081.4,727.9 L1088.6,730.0 L1096.3,732.3 L1104.4,734.8 L1112.5,737.5 L1120.5,740.1 L1128.0,742.8 L1135.0,745.5 L1141.4,748.1 L1147.7,750.8 L1153.6,753.5 L1159.4,756.3 L1164.9,759.1 L1170.2,762.0 L1175.2,765.0 L1180.0,768.0 L1184.5,771.1 L1188.8,774.4 L1192.9,777.7 L1196.7,781.0 L1200.3,784.5 L1203.7,787.9 L1206.9,791.5 L1210.0,795.0 L1212.9,798.6 L1215.6,802.3 L1218.0,806.0 L1220.3,809.8 L1222.4,813.6 L1224.4,817.4 L1226.3,821.2 L1228.0,825.0 L1229.6,828.8 L1231.1,832.7 L1232.5,836.6 L1233.7,840.6 L1234.8,844.4 L1235.7,848.1 L1236.4,851.7 L1237.0,855.0 L1237.3,858.1 L1237.4,861.2 L1237.3,864.1 L1237.0,866.9 L1236.6,869.5 L1236.2,871.9 L1235.8,874.1 L1235.5,876.0 L1235.2,877.7 L1234.9,879.1 L1234.5,880.3 L1234.2,881.3 L1233.8,882.2 L1233.5,882.9 L1233.2,883.5 L1233.0,884.0 L1199.0,906.0 L1199.1,905.6 L1199.2,905.3 L1199.4,904.9 L1199.5,904.4 L1199.7,903.7 L1199.7,902.8 L1199.7,901.6 L1199.5,900.0 L1199.2,898.0 L1199.0,895.7 L1198.6,893.2 L1198.2,890.3 L1197.7,887.3 L1197.0,884.1 L1196.1,880.9 L1195.0,877.5 L1193.7,874.0 L1192.3,870.2 L1190.8,866.3 L1189.1,862.2 L1187.2,858.1 L1185.1,854.0 L1182.7,849.9 L1180.0,846.0 L1177.1,842.2 L1173.9,838.3 L1170.5,834.5 L1166.9,830.7 L1163.0,827.0 L1158.9,823.3 L1154.6,819.6 L1150.0,816.0 L1145.1,812.4 L1139.8,808.8 L1134.2,805.2 L1128.4,801.7 L1122.5,798.2 L1116.6,794.9 L1110.7,791.9 L1105.0,789.0 L1099.2,786.4 L1093.2,783.9 L1087.0,781.5 L1080.9,779.3 L1075.0,777.3 L1069.5,775.5 L1064.4,773.9 L1060.0,772.5 L1056.5,771.4 L1053.9,770.6 L1052.0,770.0 L1050.3,769.6 L1048.6,769.2 L1046.5,768.9 L1043.8,768.5 L1040.0,768.0 L1035.1,767.3 L1029.4,766.5 L1023.0,765.7 L1016.2,764.9 L1009.3,764.1 L1002.5,763.4 L996.0,762.9 L990.0,762.5 L984.7,762.2 L979.8,762.1 L975.1,762.0 L970.6,762.0 L966.0,762.1 L961.2,762.4 L955.9,762.9 L950.0,763.5 L943.4,764.3 L936.1,765.4 L928.3,766.5 L920.3,767.9 L912.3,769.3 L904.4,770.8 L896.9,772.4 L890.0,774.0 L883.6,775.6 L877.4,777.3 L871.5,779.0 L865.8,780.8 L860.3,782.7 L855.1,784.7 L849.9,786.8 L845.0,789.0 L840.2,791.3 L835.5,793.9 L831.0,796.5 L826.7,799.2 L822.6,802.0 L818.8,804.7 L815.3,807.4 L812.0,810.0 L809.1,812.5 L806.5,815.1 L804.1,817.6 L802.1,820.0 L800.2,822.5 L798.5,824.9 L796.9,827.2 L795.5,829.5 L794.2,831.8 L793.2,834.1 L792.3,836.4 L791.6,838.6 L791.0,840.7 L790.5,842.7 L790.0,844.5 L789.5,846.0 L789.0,847.3 L788.6,848.4 L788.2,849.3 L787.9,850.0 L787.6,850.7 L787.4,851.2 L787.2,851.6 L787.0,852.0 Z"/></clipPath>
<g clip-path="url(#clipFil)">
<path d="M755.5,818.7 L756.1,818.4 L756.8,818.1 L757.7,817.7 L758.6,816.8 L759.5,815.5 L760.3,813.4 L760.8,810.7 L761.4,807.6 L762.2,804.1 L763.4,800.6 L765.3,797.0 L767.7,793.3 L770.4,789.4 L773.6,785.4 L777.3,781.3 L781.5,777.0 L786.3,772.6 L791.7,768.0 L797.5,763.3 L803.6,758.8 L809.9,754.6 L816.4,750.8 L823.2,747.1 L830.3,743.7 L837.7,740.5 L845.3,737.5 L853.2,734.8 L861.2,732.3 L869.5,729.9 L878.3,727.8 L887.7,725.8 L897.9,723.9 L909.4,722.1 L921.4,720.5 L933.3,719.1 L944.4,718.0 L953.9,717.4 L962.1,717.2 L969.2,717.4 L976.1,717.8 L983.3,718.4 L991.3,718.9 L1000.5,719.5 L1010.4,720.2 L1020.4,720.9 L1030.0,721.8 L1038.8,722.8 L1046.0,723.9 L1052.0,725.0 L1057.5,726.2 L1063.3,727.7 L1070.3,729.7 L1079.0,732.3 L1089.7,735.5 L1101.3,739.0 L1113.2,742.9 L1124.5,746.9 L1134.6,750.9 L1144.0,754.9 L1152.8,759.0 L1161.2,763.3 L1169.1,767.8 L1176.5,772.5 L1183.3,777.3 L1189.5,782.4 L1195.2,787.5 L1200.5,792.8 L1205.3,798.2 L1209.7,803.7 L1213.7,809.3 L1217.1,815.0 L1220.3,820.8 L1223.1,826.5 L1225.6,832.3 L1227.9,838.3 L1229.8,844.2 L1231.3,849.9 L1232.5,855.2 L1233.2,860.1 L1233.4,864.7 L1233.2,869.0 L1232.7,872.9 L1232.2,876.3 L1231.8,879.1 L1231.4,881.4 L1230.9,883.1 L1230.4,884.4 L1229.9,885.4 L1229.6,886.2" fill="none" stroke="#66656d" stroke-width="10" />
<path d="M762.5,826.1 L763.0,825.8 L763.6,825.4 L764.4,824.8 L765.2,824.0 L766.1,822.6 L766.8,820.6 L767.4,818.0 L767.9,815.0 L768.7,811.7 L769.9,808.3 L771.7,804.8 L773.9,801.2 L776.5,797.5 L779.5,793.7 L782.9,789.8 L786.9,785.7 L791.3,781.5 L796.4,777.1 L801.9,772.7 L807.8,768.4 L813.9,764.3 L820.3,760.5 L827.0,756.9 L834.0,753.6 L841.2,750.5 L848.7,747.6 L856.5,744.9 L864.5,742.4 L872.8,740.1 L881.6,737.9 L891.1,735.9 L901.4,734.0 L912.7,732.1 L924.4,730.5 L935.8,729.1 L946.4,728.0 L955.4,727.4 L963.2,727.2 L970.1,727.3 L976.8,727.7 L983.9,728.1 L991.9,728.7 L1000.9,729.3 L1010.6,730.0 L1020.5,730.8 L1029.9,731.8 L1038.4,732.8 L1045.3,733.8 L1050.8,734.8 L1055.7,735.8 L1060.7,737.1 L1066.7,738.8 L1074.4,741.1 L1083.9,743.9 L1094.4,747.2 L1105.4,750.8 L1116.0,754.5 L1125.7,758.3 L1134.7,762.2 L1143.3,766.3 L1151.6,770.5 L1159.5,775.0 L1167.0,779.7 L1174.0,784.6 L1180.4,789.5 L1186.2,794.6 L1191.5,799.8 L1196.5,805.1 L1201.0,810.5 L1205.1,816.1 L1208.7,821.7 L1212.0,827.3 L1214.8,833.0 L1217.4,838.8 L1219.7,844.6 L1221.6,850.4 L1223.2,855.9 L1224.5,861.0 L1225.3,865.8 L1225.6,870.3 L1225.5,874.5 L1225.3,878.3 L1225.0,881.5 L1224.7,884.2 L1224.4,886.3 L1223.9,887.8 L1223.5,889.0 L1223.1,889.9 L1222.8,890.6" fill="none" stroke="#6e6d75" stroke-width="10" />
<path d="M768.8,832.8 L769.2,832.4 L769.8,831.9 L770.4,831.3 L771.2,830.4 L771.9,829.0 L772.6,827.1 L773.2,824.6 L773.9,821.7 L774.6,818.6 L775.8,815.2 L777.5,811.8 L779.5,808.4 L782.0,804.8 L784.8,801.2 L788.0,797.4 L791.6,793.5 L795.8,789.5 L800.6,785.4 L805.9,781.2 L811.6,777.1 L817.6,773.1 L823.9,769.3 L830.4,765.8 L837.3,762.5 L844.4,759.4 L851.8,756.6 L859.5,753.9 L867.4,751.5 L875.7,749.2 L884.5,747.0 L894.1,745.0 L904.5,743.0 L915.7,741.2 L927.1,739.5 L938.1,738.1 L948.1,737.1 L956.7,736.4 L964.2,736.2 L970.9,736.2 L977.5,736.5 L984.5,736.9 L992.4,737.4 L1001.3,738.0 L1010.9,738.8 L1020.6,739.7 L1029.8,740.7 L1038.0,741.7 L1044.6,742.7 L1049.8,743.5 L1054.0,744.4 L1058.3,745.5 L1063.5,747.0 L1070.2,749.0 L1078.7,751.6 L1088.2,754.6 L1098.3,757.9 L1108.3,761.4 L1117.6,765.0 L1126.4,768.8 L1134.8,772.8 L1143.0,777.0 L1150.9,781.5 L1158.5,786.2 L1165.6,791.1 L1172.1,796.0 L1178.0,801.0 L1183.5,806.2 L1188.6,811.4 L1193.2,816.7 L1197.4,822.2 L1201.1,827.7 L1204.5,833.2 L1207.4,838.9 L1210.0,844.6 L1212.3,850.3 L1214.2,855.9 L1215.9,861.3 L1217.2,866.3 L1218.1,871.0 L1218.5,875.4 L1218.6,879.4 L1218.5,883.1 L1218.4,886.2 L1218.3,888.7 L1218.0,890.7 L1217.7,892.1 L1217.3,893.1 L1216.9,893.9 L1216.7,894.6" fill="none" stroke="#77767f" stroke-width="9" />
<path d="M774.4,838.7 L774.8,838.2 L775.2,837.7 L775.8,837.1 L776.5,836.1 L777.2,834.7 L777.8,832.9 L778.5,830.5 L779.1,827.7 L779.9,824.6 L781.0,821.4 L782.6,818.1 L784.5,814.8 L786.8,811.3 L789.4,807.8 L792.4,804.2 L795.9,800.5 L799.8,796.7 L804.4,792.8 L809.5,788.8 L814.9,784.8 L820.8,780.9 L827.0,777.2 L833.4,773.6 L840.2,770.4 L847.2,767.4 L854.5,764.6 L862.1,762.0 L870.0,759.5 L878.3,757.3 L887.2,755.1 L896.8,753.0 L907.2,751.0 L918.3,749.2 L929.5,747.5 L940.1,746.1 L949.7,745.1 L957.9,744.4 L965.1,744.1 L971.6,744.1 L978.1,744.4 L985.0,744.7 L992.8,745.2 L1001.6,745.9 L1011.1,746.7 L1020.6,747.6 L1029.7,748.7 L1037.7,749.7 L1044.0,750.6 L1048.8,751.4 L1052.6,752.1 L1056.3,753.0 L1060.6,754.3 L1066.5,756.0 L1074.0,758.4 L1082.7,761.1 L1092.1,764.2 L1101.5,767.5 L1110.5,771.0 L1119.0,774.6 L1127.2,778.5 L1135.3,782.8 L1143.3,787.3 L1150.9,792.0 L1158.1,796.8 L1164.8,801.8 L1170.8,806.7 L1176.4,811.8 L1181.5,817.0 L1186.3,822.2 L1190.5,827.6 L1194.4,833.0 L1197.8,838.5 L1200.8,844.1 L1203.5,849.7 L1205.7,855.4 L1207.7,860.9 L1209.4,866.1 L1210.8,870.9 L1211.7,875.5 L1212.3,879.8 L1212.5,883.8 L1212.6,887.4 L1212.6,890.4 L1212.5,892.8 L1212.4,894.6 L1212.1,895.9 L1211.7,896.8 L1211.4,897.5 L1211.2,898.1" fill="none" stroke="#86858f" stroke-width="8" />
<path d="M779.3,843.9 L779.6,843.4 L780.0,842.8 L780.5,842.1 L781.1,841.1 L781.7,839.7 L782.4,837.9 L783.0,835.6 L783.7,832.9 L784.5,829.9 L785.6,826.8 L787.0,823.6 L788.9,820.3 L791.1,817.0 L793.5,813.6 L796.4,810.1 L799.6,806.6 L803.4,802.9 L807.7,799.2 L812.6,795.4 L817.9,791.5 L823.6,787.7 L829.7,784.0 L836.1,780.5 L842.8,777.3 L849.7,774.4 L856.9,771.6 L864.5,769.0 L872.3,766.6 L880.6,764.3 L889.5,762.2 L899.2,760.1 L909.7,758.1 L920.6,756.2 L931.6,754.5 L941.9,753.1 L951.0,752.1 L958.9,751.5 L965.9,751.1 L972.3,751.1 L978.6,751.2 L985.5,751.6 L993.2,752.0 L1001.9,752.7 L1011.3,753.6 L1020.7,754.6 L1029.6,755.6 L1037.4,756.6 L1043.5,757.5 L1048.0,758.2 L1051.3,758.8 L1054.4,759.6 L1058.2,760.6 L1063.2,762.2 L1070.0,764.3 L1077.9,766.8 L1086.6,769.7 L1095.5,772.8 L1104.2,776.2 L1112.6,779.8 L1120.6,783.6 L1128.6,787.8 L1136.6,792.3 L1144.3,797.0 L1151.6,801.9 L1158.3,806.8 L1164.5,811.7 L1170.1,816.8 L1175.4,821.9 L1180.2,827.1 L1184.5,832.3 L1188.5,837.6 L1192.0,843.0 L1195.0,848.6 L1197.7,854.2 L1200.0,859.8 L1202.0,865.2 L1203.7,870.3 L1205.1,875.0 L1206.1,879.5 L1206.8,883.8 L1207.1,887.7 L1207.3,891.1 L1207.5,894.1 L1207.5,896.3 L1207.4,898.0 L1207.2,899.2 L1206.9,900.0 L1206.6,900.6 L1206.5,901.2" fill="none" stroke="#a3a2ae" stroke-width="7" />
<path d="M783.5,848.3 L783.8,847.8 L784.1,847.2 L784.5,846.4 L785.0,845.4 L785.6,844.0 L786.3,842.3 L787.0,840.0 L787.6,837.4 L788.4,834.5 L789.5,831.4 L790.9,828.3 L792.6,825.1 L794.7,821.9 L797.1,818.6 L799.7,815.2 L802.8,811.8 L806.4,808.3 L810.5,804.7 L815.2,801.0 L820.4,797.3 L826.1,793.5 L832.1,789.9 L838.4,786.4 L845.0,783.3 L851.8,780.4 L858.9,777.6 L866.5,775.1 L874.3,772.7 L882.6,770.4 L891.5,768.2 L901.2,766.1 L911.7,764.1 L922.6,762.2 L933.3,760.5 L943.4,759.2 L952.2,758.1 L959.8,757.5 L966.5,757.1 L972.8,757.0 L979.1,757.1 L985.8,757.4 L993.5,757.9 L1002.1,758.5 L1011.5,759.5 L1020.8,760.5 L1029.6,761.6 L1037.1,762.6 L1043.1,763.4 L1047.3,764.1 L1050.2,764.6 L1052.9,765.2 L1056.0,766.1 L1060.4,767.5 L1066.5,769.4 L1073.8,771.7 L1081.9,774.4 L1090.4,777.4 L1098.9,780.6 L1107.0,784.2 L1114.9,787.9 L1122.9,792.1 L1130.8,796.7 L1138.6,801.4 L1146.0,806.2 L1152.8,811.1 L1159.0,816.0 L1164.8,821.0 L1170.1,826.1 L1175.0,831.2 L1179.4,836.4 L1183.4,841.6 L1187.0,847.0 L1190.1,852.5 L1192.8,858.1 L1195.1,863.6 L1197.1,868.9 L1198.8,873.9 L1200.3,878.5 L1201.3,882.9 L1202.1,887.1 L1202.5,891.0 L1202.9,894.4 L1203.1,897.2 L1203.3,899.4 L1203.2,900.9 L1203.0,902.0 L1202.8,902.7 L1202.5,903.3 L1202.4,903.8" fill="none" stroke="#c6c5d6" stroke-width="6" />
<path d="M786.3,851.3 L786.5,850.7 L786.8,850.1 L787.2,849.3 L787.7,848.2 L788.2,846.9 L788.9,845.1 L789.6,842.9 L790.3,840.4 L791.1,837.5 L792.1,834.5 L793.4,831.4 L795.1,828.3 L797.2,825.2 L799.4,821.9 L802.0,818.6 L804.9,815.3 L808.4,811.8 L812.4,808.4 L817.0,804.8 L822.1,801.1 L827.7,797.4 L833.6,793.8 L839.9,790.3 L846.4,787.2 L853.2,784.3 L860.3,781.6 L867.8,779.1 L875.6,776.7 L883.9,774.4 L892.8,772.3 L902.6,770.1 L913.1,768.1 L923.9,766.2 L934.5,764.5 L944.4,763.2 L953.0,762.2 L960.4,761.5 L967.0,761.1 L973.2,761.0 L979.4,761.1 L986.1,761.3 L993.7,761.8 L1002.3,762.5 L1011.6,763.4 L1020.8,764.5 L1029.5,765.6 L1037.0,766.6 L1042.8,767.4 L1046.8,768.0 L1049.5,768.4 L1051.9,768.9 L1054.6,769.7 L1058.6,771.0 L1064.2,772.8 L1071.1,775.0 L1078.8,777.6 L1087.0,780.4 L1095.3,783.6 L1103.3,787.1 L1111.1,790.8 L1119.0,795.0 L1127.0,799.5 L1134.8,804.3 L1142.3,809.1 L1149.2,814.0 L1155.4,818.8 L1161.2,823.8 L1166.5,828.8 L1171.5,833.9 L1176.0,839.1 L1180.1,844.3 L1183.7,849.6 L1186.8,855.1 L1189.5,860.6 L1191.8,866.1 L1193.8,871.4 L1195.6,876.3 L1197.1,880.8 L1198.1,885.2 L1198.9,889.4 L1199.5,893.2 L1199.9,896.5 L1200.2,899.3 L1200.4,901.4 L1200.4,902.9 L1200.2,903.9 L1200.0,904.6 L1199.8,905.1 L1199.7,905.6" fill="none" stroke="#dcdbee" stroke-width="4" />
<path d="M1044.7,741.2 L1050.0,742.1 L1054.3,743.0 L1058.7,744.1 L1064.0,745.6 L1070.9,747.7 L1079.5,750.3 L1089.3,753.3 L1099.5,756.7 L1109.6,760.2 L1119.0,763.9 L1127.8,767.7 L1136.2,771.7 L1144.4,775.9 L1152.4,780.4 L1159.9,785.1 L1167.0,790.0 L1173.5,794.9 L1179.4,800.0 L1184.8,805.1 L1189.9,810.4 L1194.5,815.7 L1198.7,821.2 L1202.4,826.7 L1205.7,832.2 L1208.7,837.9 L1211.3,843.6 L1213.5,849.3 L1215.5,855.0 L1217.1,860.4 L1218.4,865.4 L1219.3,870.1 L1219.7,874.5 L1219.8,878.6 L1219.7,882.3 L1219.5,885.5 L1219.3,888.0 L1219.1,889.9 L1218.7,891.4 L1218.3,892.4 L1217.9,893.2 L1217.7,893.9 L1199.0,906.0 L1199.1,905.6 L1199.2,905.3 L1199.4,904.9 L1199.5,904.4 L1199.7,903.7 L1199.7,902.8 L1199.7,901.6 L1199.5,900.0 L1199.2,898.0 L1199.0,895.7 L1198.6,893.2 L1198.2,890.3 L1197.7,887.3 L1197.0,884.1 L1196.1,880.9 L1195.0,877.5 L1193.7,874.0 L1192.3,870.2 L1190.8,866.3 L1189.1,862.2 L1187.2,858.1 L1185.1,854.0 L1182.7,849.9 L1180.0,846.0 L1177.1,842.2 L1173.9,838.3 L1170.5,834.5 L1166.9,830.7 L1163.0,827.0 L1158.9,823.3 L1154.6,819.6 L1150.0,816.0 L1145.1,812.4 L1139.8,808.8 L1134.2,805.2 L1128.4,801.7 L1122.5,798.2 L1116.6,794.9 L1110.7,791.9 L1105.0,789.0 L1099.2,786.4 L1093.2,783.9 L1087.0,781.5 L1080.9,779.3 L1075.0,777.3 L1069.5,775.5 L1064.4,773.9 L1060.0,772.5 L1056.5,771.4 L1053.9,770.6 L1052.0,770.0 L1050.3,769.6 L1048.6,769.2 L1046.5,768.9 L1043.8,768.5 L1040.0,768.0 Z" fill="#cfced9" filter="url(#blur3)"/>
<ellipse cx="1040" cy="742" rx="42" ry="6" fill="#ffffff" filter="url(#blur3)" transform="rotate(6 1040 742)"/>
<ellipse cx="1000" cy="752" rx="90" ry="8" fill="#c9c8d4" filter="url(#blur3)" opacity="0.9"/>
<path d="M824,787 L829,769 Q836,759 845,756 L875,750 L899,747.5 L891,761 L860,774 L838,786 Q830,790 824,787 Z" fill="#ffffff" filter="url(#blur15)"/>
<path d="M917,747 L929,740 L987,739.5 L974,745.5 L920,748 Z" fill="#ffffff"/>
<path d="M1084,750 L1105,747 Q1140,762 1165,783 Q1182,800 1189,815 Q1170,798 1135,779 Q1110,765 1084,750 Z" fill="#ffffff"/>
<path d="M840,759.5 L889,749.7 L900,749 L891,759.5 L870,767 L845,776 Z" fill="#ffffff" opacity="0.0"/>
</g>
<path d="M787.0,852.0 L787.2,851.6 L787.4,851.2 L787.6,850.7 L787.9,850.0 L788.2,849.3 L788.6,848.4 L789.0,847.3 L789.5,846.0 L790.0,844.5 L790.5,842.7 L791.0,840.7 L791.6,838.6 L792.3,836.4 L793.2,834.1 L794.2,831.8 L795.5,829.5 L796.9,827.2 L798.5,824.9 L800.2,822.5 L802.1,820.0 L804.1,817.6 L806.5,815.1 L809.1,812.5 L812.0,810.0 L815.3,807.4 L818.8,804.7 L822.6,802.0 L826.7,799.2 L831.0,796.5 L835.5,793.9 L840.2,791.3 L845.0,789.0 L849.9,786.8 L855.1,784.7 L860.3,782.7 L865.8,780.8 L871.5,779.0 L877.4,777.3 L883.6,775.6 L890.0,774.0 L896.9,772.4 L904.4,770.8 L912.3,769.3 L920.3,767.9 L928.3,766.5 L936.1,765.4 L943.4,764.3 L950.0,763.5 L955.9,762.9 L961.2,762.4 L966.0,762.1 L970.6,762.0 L975.1,762.0 L979.8,762.1 L984.7,762.2 L990.0,762.5 L996.0,762.9 L1002.5,763.4 L1009.3,764.1 L1016.2,764.9 L1023.0,765.7 L1029.4,766.5 L1035.1,767.3 L1040.0,768.0 L1043.8,768.5 L1046.5,768.9 L1048.6,769.2 L1050.3,769.6 L1052.0,770.0 L1053.9,770.6 L1056.5,771.4 L1060.0,772.5 L1064.4,773.9 L1069.5,775.5 L1075.0,777.3 L1080.9,779.3 L1087.0,781.5 L1093.2,783.9 L1099.2,786.4 L1105.0,789.0 L1110.7,791.9 L1116.6,794.9 L1122.5,798.2 L1128.4,801.7 L1134.2,805.2 L1139.8,808.8 L1145.1,812.4 L1150.0,816.0 L1154.6,819.6 L1158.9,823.3 L1163.0,827.0 L1166.9,830.7 L1170.5,834.5 L1173.9,838.3 L1177.1,842.2 L1180.0,846.0 L1182.7,849.9 L1185.1,854.0 L1187.2,858.1 L1189.1,862.2 L1190.8,866.3 L1192.3,870.2 L1193.7,874.0 L1195.0,877.5 L1196.1,880.9 L1197.0,884.1 L1197.7,887.3 L1198.2,890.3 L1198.6,893.2 L1199.0,895.7 L1199.2,898.0 L1199.5,900.0 L1199.7,901.6 L1199.7,902.8 L1199.7,903.7 L1199.5,904.4 L1199.4,904.9 L1199.2,905.3 L1199.1,905.6 L1199.0,906.0 L1191.0,1057.9 L1191.3,1054.1 L1191.4,1050.2 L1191.3,1046.4 L1190.8,1042.5 L1190.2,1038.6 L1189.2,1034.8 L1188.0,1030.9 L1186.6,1027.1 L1184.9,1023.3 L1182.9,1019.5 L1180.7,1015.7 L1178.2,1012.0 L1175.5,1008.3 L1172.6,1004.6 L1169.4,1001.0 L1166.0,997.4 L1162.4,993.9 L1158.5,990.4 L1154.4,987.1 L1150.2,983.7 L1145.7,980.5 L1140.9,977.3 L1136.0,974.2 L1130.9,971.2 L1125.7,968.2 L1120.2,965.4 L1114.6,962.7 L1108.8,960.0 L1102.8,957.5 L1096.7,955.0 L1090.5,952.7 L1084.1,950.4 L1077.6,948.3 L1070.9,946.3 L1064.2,944.4 L1057.3,942.6 L1050.4,941.0 L1043.3,939.4 L1036.2,938.0 L1029.0,936.7 L1021.8,935.6 L1014.5,934.6 L1007.1,933.7 L999.8,932.9 L992.4,932.3 L984.9,931.8 L977.5,931.4 L970.1,931.2 L962.7,931.1 L955.3,931.1 L947.9,931.3 L940.6,931.6 L933.3,932.1 L926.1,932.7 L918.9,933.4 L911.8,934.2 L904.8,935.2 L897.9,936.3 L891.0,937.5 L884.3,938.9 L877.7,940.4 L871.2,942.0 L864.9,943.7 L858.7,945.6 L852.6,947.6 L846.7,949.6 L841.0,951.8 L835.4,954.1 L830.0,956.6 L824.7,959.1 L819.7,961.7 L814.9,964.4 L810.2,967.2 L805.8,970.1 L801.5,973.1 L797.5,976.2 L793.7,979.3 L790.2,982.5 L786.8,985.8 L783.7,989.2 L780.9,992.6 L778.2,996.1 L775.8,999.7 L773.7,1003.3 L771.8,1006.9 L770.2,1010.6 L768.8,1014.3 L767.7,1018.1 L766.8,1021.9 Z" fill="url(#gCyl)"/>
<path d="M771.5,999.7 L772.6,996.1 L773.9,992.6 L775.4,989.0 L777.2,985.5 L779.2,982.1 L781.5,978.7 L783.9,975.4 L786.6,972.1 L789.5,968.8 L792.6,965.7 L796.0,962.6 L799.5,959.5 L803.3,956.6 L807.2,953.7 L811.4,950.9 L815.7,948.2 L820.2,945.5 L824.9,943.0 L829.8,940.5 L834.9,938.1 L840.1,935.9 L845.5,933.7 L851.0,931.7 L856.7,929.7 L862.5,927.8 L868.4,926.1 L874.5,924.5 L880.7,922.9 L887.0,921.5 L893.4,920.2 L899.9,919.1 L906.5,918.0 L913.2,917.1 L920.0,916.3 L926.8,915.6 L933.7,915.0 L940.7,914.6 L947.6,914.2 L954.7,914.1 L961.7,914.0 L968.8,914.0 L975.9,914.2 L983.0,914.5 L990.1,914.9 L997.1,915.5 L1004.2,916.2 L1011.2,916.9 L1018.2,917.9 L1025.2,918.9 L1032.1,920.1 L1038.9,921.3 L1045.7,922.7 L1052.4,924.2 L1059.0,925.8 L1065.5,927.6 L1071.9,929.4 L1078.2,931.3 L1084.4,933.4 L1090.5,935.5 L1096.5,937.8 L1102.3,940.1 L1108.0,942.6 L1113.6,945.1 L1119.0,947.7 L1124.2,950.4 L1129.3,953.2 L1134.2,956.1 L1138.9,959.1 L1143.4,962.1 L1147.8,965.2 L1152.0,968.3 L1155.9,971.6 L1159.7,974.8 L1163.3,978.2 L1166.6,981.6 L1169.8,985.0 L1172.7,988.5 L1175.4,992.0 L1177.9,995.6 L1180.2,999.1 L1182.2,1002.8 L1184.0,1006.4 L1185.6,1010.1 L1186.9,1013.7 L1188.0,1017.4 L1188.9,1021.1 L1189.5,1024.8 L1189.9,1028.5 L1190.0,1032.2 L1191.0,1057.9 L1191.3,1054.1 L1191.4,1050.2 L1191.3,1046.4 L1190.8,1042.5 L1190.2,1038.6 L1189.2,1034.8 L1188.0,1030.9 L1186.6,1027.1 L1184.9,1023.3 L1182.9,1019.5 L1180.7,1015.7 L1178.2,1012.0 L1175.5,1008.3 L1172.6,1004.6 L1169.4,1001.0 L1166.0,997.4 L1162.4,993.9 L1158.5,990.4 L1154.4,987.1 L1150.2,983.7 L1145.7,980.5 L1140.9,977.3 L1136.0,974.2 L1130.9,971.2 L1125.7,968.2 L1120.2,965.4 L1114.6,962.7 L1108.8,960.0 L1102.8,957.5 L1096.7,955.0 L1090.5,952.7 L1084.1,950.4 L1077.6,948.3 L1070.9,946.3 L1064.2,944.4 L1057.3,942.6 L1050.4,941.0 L1043.3,939.4 L1036.2,938.0 L1029.0,936.7 L1021.8,935.6 L1014.5,934.6 L1007.1,933.7 L999.8,932.9 L992.4,932.3 L984.9,931.8 L977.5,931.4 L970.1,931.2 L962.7,931.1 L955.3,931.1 L947.9,931.3 L940.6,931.6 L933.3,932.1 L926.1,932.7 L918.9,933.4 L911.8,934.2 L904.8,935.2 L897.9,936.3 L891.0,937.5 L884.3,938.9 L877.7,940.4 L871.2,942.0 L864.9,943.7 L858.7,945.6 L852.6,947.6 L846.7,949.6 L841.0,951.8 L835.4,954.1 L830.0,956.6 L824.7,959.1 L819.7,961.7 L814.9,964.4 L810.2,967.2 L805.8,970.1 L801.5,973.1 L797.5,976.2 L793.7,979.3 L790.2,982.5 L786.8,985.8 L783.7,989.2 L780.9,992.6 L778.2,996.1 L775.8,999.7 L773.7,1003.3 L771.8,1006.9 L770.2,1010.6 L768.8,1014.3 L767.7,1018.1 L766.8,1021.9 Z" fill="#c8c7cf"/>
<path d="M771.5,999.7 L772.6,996.1 L773.9,992.6 L775.4,989.0 L777.2,985.5 L779.2,982.1 L781.5,978.7 L783.9,975.4 L786.6,972.1 L789.5,968.8 L792.6,965.7 L796.0,962.6 L799.5,959.5 L803.3,956.6 L807.2,953.7 L811.4,950.9 L815.7,948.2 L820.2,945.5 L824.9,943.0 L829.8,940.5 L834.9,938.1 L840.1,935.9 L845.5,933.7 L851.0,931.7 L856.7,929.7 L862.5,927.8 L868.4,926.1 L874.5,924.5 L880.7,922.9 L887.0,921.5 L893.4,920.2 L899.9,919.1 L906.5,918.0 L913.2,917.1 L920.0,916.3 L926.8,915.6 L933.7,915.0 L940.7,914.6 L947.6,914.2 L954.7,914.1 L961.7,914.0 L968.8,914.0 L975.9,914.2 L983.0,914.5 L990.1,914.9 L997.1,915.5 L1004.2,916.2 L1011.2,916.9 L1018.2,917.9 L1025.2,918.9 L1032.1,920.1 L1038.9,921.3 L1045.7,922.7 L1052.4,924.2 L1059.0,925.8 L1065.5,927.6 L1071.9,929.4 L1078.2,931.3 L1084.4,933.4 L1090.5,935.5 L1096.5,937.8 L1102.3,940.1 L1108.0,942.6 L1113.6,945.1 L1119.0,947.7 L1124.2,950.4 L1129.3,953.2 L1134.2,956.1 L1138.9,959.1 L1143.4,962.1 L1147.8,965.2 L1152.0,968.3 L1155.9,971.6 L1159.7,974.8 L1163.3,978.2 L1166.6,981.6 L1169.8,985.0 L1172.7,988.5 L1175.4,992.0 L1177.9,995.6 L1180.2,999.1 L1182.2,1002.8 L1184.0,1006.4 L1185.6,1010.1 L1186.9,1013.7 L1188.0,1017.4 L1188.9,1021.1 L1189.5,1024.8 L1189.9,1028.5 L1190.0,1032.2" fill="none" stroke="#3a3940" stroke-width="0.9" />
<path d="M768.7,1013.0 L769.6,1009.3 L770.8,1005.6 L772.3,1002.0 L774.0,998.4 L775.9,994.8 L778.1,991.3 L780.5,987.8 L783.2,984.4 L786.0,981.1 L789.1,977.8 L792.5,974.6 L796.0,971.4 L799.8,968.3 L803.8,965.3 L808.0,962.4 L812.4,959.6 L817.0,956.8 L821.8,954.2 L826.8,951.6 L831.9,949.2 L837.3,946.8 L842.8,944.6 L848.4,942.4 L854.2,940.4 L860.2,938.5 L866.3,936.7 L872.5,935.0 L878.9,933.4 L885.4,932.0 L892.0,930.6 L898.7,929.4 L905.5,928.3 L912.4,927.4 L919.3,926.5 L926.4,925.8 L933.5,925.3 L940.6,924.8 L947.8,924.5 L955.0,924.3 L962.3,924.3 L969.6,924.3 L976.9,924.5 L984.2,924.9 L991.4,925.3 L998.7,925.9 L1006.0,926.7 L1013.2,927.5 L1020.4,928.5 L1027.5,929.6 L1034.6,930.8 L1041.6,932.2 L1048.5,933.7 L1055.3,935.3 L1062.1,937.0 L1068.8,938.8 L1075.3,940.7 L1081.7,942.8 L1088.1,944.9 L1094.2,947.2 L1100.3,949.6 L1106.2,952.1 L1112.0,954.6 L1117.6,957.3 L1123.0,960.0 L1128.2,962.9 L1133.3,965.8 L1138.2,968.8 L1142.9,971.9 L1147.5,975.1 L1151.8,978.3 L1155.9,981.6 L1159.8,985.0 L1163.5,988.4 L1167.0,991.9 L1170.2,995.4 L1173.2,999.0 L1176.0,1002.6 L1178.6,1006.2 L1180.9,1009.9 L1183.0,1013.6 L1184.8,1017.4 L1186.4,1021.1 L1187.8,1024.9 L1188.9,1028.7 L1189.7,1032.5 L1190.3,1036.3 L1190.7,1040.1 L1190.8,1043.8 L1190.6,1047.6" fill="none" stroke="#a3a2aa" stroke-width="3.5" opacity="0.85"/>
<path d="M787.0,852.0 L787.2,851.6 L787.4,851.2 L787.6,850.7 L787.9,850.0 L788.2,849.3 L788.6,848.4 L789.0,847.3 L789.5,846.0 L790.0,844.5 L790.5,842.7 L791.0,840.7 L791.6,838.6 L792.3,836.4 L793.2,834.1 L794.2,831.8 L795.5,829.5 L796.9,827.2 L798.5,824.9 L800.2,822.5 L802.1,820.0 L804.1,817.6 L806.5,815.1 L809.1,812.5 L812.0,810.0 L815.3,807.4 L818.8,804.7 L822.6,802.0 L826.7,799.2 L831.0,796.5 L835.5,793.9 L840.2,791.3 L845.0,789.0 L849.9,786.8 L855.1,784.7 L860.3,782.7 L865.8,780.8 L871.5,779.0 L877.4,777.3 L883.6,775.6 L890.0,774.0 L896.9,772.4 L904.4,770.8 L912.3,769.3 L920.3,767.9 L928.3,766.5 L936.1,765.4 L943.4,764.3 L950.0,763.5 L955.9,762.9 L961.2,762.4 L966.0,762.1 L970.6,762.0 L975.1,762.0 L979.8,762.1 L984.7,762.2 L990.0,762.5 L996.0,762.9 L1002.5,763.4 L1009.3,764.1 L1016.2,764.9 L1023.0,765.7 L1029.4,766.5 L1035.1,767.3 L1040.0,768.0 L1043.8,768.5 L1046.5,768.9 L1048.6,769.2 L1050.3,769.6 L1052.0,770.0 L1053.9,770.6 L1056.5,771.4 L1060.0,772.5 L1064.4,773.9 L1069.5,775.5 L1075.0,777.3 L1080.9,779.3 L1087.0,781.5 L1093.2,783.9 L1099.2,786.4 L1105.0,789.0 L1110.7,791.9 L1116.6,794.9 L1122.5,798.2 L1128.4,801.7 L1134.2,805.2 L1139.8,808.8 L1145.1,812.4 L1150.0,816.0 L1154.6,819.6 L1158.9,823.3 L1163.0,827.0 L1166.9,830.7 L1170.5,834.5 L1173.9,838.3 L1177.1,842.2 L1180.0,846.0 L1182.7,849.9 L1185.1,854.0 L1187.2,858.1 L1189.1,862.2 L1190.8,866.3 L1192.3,870.2 L1193.7,874.0 L1195.0,877.5 L1196.1,880.9 L1197.0,884.1 L1197.7,887.3 L1198.2,890.3 L1198.6,893.2 L1199.0,895.7 L1199.2,898.0 L1199.5,900.0 L1199.7,901.6 L1199.7,902.8 L1199.7,903.7 L1199.5,904.4 L1199.4,904.9 L1199.2,905.3 L1199.1,905.6 L1199.0,906.0" fill="none" stroke="#3a3940" stroke-width="1.0" />
<path d="M766.8,1021.9 L767.7,1018.1 L768.8,1014.3 L770.2,1010.6 L771.8,1006.9 L773.7,1003.3 L775.8,999.7 L778.2,996.1 L780.9,992.6 L783.7,989.2 L786.8,985.8 L790.2,982.5 L793.7,979.3 L797.5,976.2 L801.5,973.1 L805.8,970.1 L810.2,967.2 L814.9,964.4 L819.7,961.7 L824.7,959.1 L830.0,956.6 L835.4,954.1 L841.0,951.8 L846.7,949.6 L852.6,947.6 L858.7,945.6 L864.9,943.7 L871.2,942.0 L877.7,940.4 L884.3,938.9 L891.0,937.5 L897.9,936.3 L904.8,935.2 L911.8,934.2 L918.9,933.4 L926.1,932.7 L933.3,932.1 L940.6,931.6 L947.9,931.3 L955.3,931.1 L962.7,931.1 L970.1,931.2 L977.5,931.4 L984.9,931.8 L992.4,932.3 L999.8,932.9 L1007.1,933.7 L1014.5,934.6 L1021.8,935.6 L1029.0,936.7 L1036.2,938.0 L1043.3,939.4 L1050.4,941.0 L1057.3,942.6 L1064.2,944.4 L1070.9,946.3 L1077.6,948.3 L1084.1,950.4 L1090.5,952.7 L1096.7,955.0 L1102.8,957.5 L1108.8,960.0 L1114.6,962.7 L1120.2,965.4 L1125.7,968.2 L1130.9,971.2 L1136.0,974.2 L1140.9,977.3 L1145.7,980.5 L1150.2,983.7 L1154.4,987.1 L1158.5,990.4 L1162.4,993.9 L1166.0,997.4 L1169.4,1001.0 L1172.6,1004.6 L1175.5,1008.3 L1178.2,1012.0 L1180.7,1015.7 L1182.9,1019.5 L1184.9,1023.3 L1186.6,1027.1 L1188.0,1030.9 L1189.2,1034.8 L1190.2,1038.6 L1190.8,1042.5 L1191.3,1046.4 L1191.4,1050.2 L1191.3,1054.1 L1191.0,1057.9" fill="none" stroke="#3a3940" stroke-width="1.0" />
<path d="M752.0,815.0 L752.3,814.8 L752.8,814.7 L753.4,814.5 L754.0,814.3 L754.6,813.9 L755.3,813.4 L755.9,812.6 L756.5,811.5 L757.0,810.1 L757.3,808.4 L757.7,806.5 L758.0,804.3 L758.4,802.1 L759.0,799.7 L759.9,797.4 L761.0,795.0 L762.4,792.6 L764.0,790.1 L765.7,787.6 L767.7,785.0 L769.8,782.3 L772.1,779.6 L774.7,776.8 L777.5,774.0 L780.6,771.1 L783.9,768.1 L787.4,765.0 L791.2,761.8 L795.1,758.7 L799.2,755.6 L803.3,752.7 L807.5,750.0 L811.8,747.4 L816.2,744.9 L820.7,742.5 L825.3,740.2 L830.1,738.0 L834.9,735.9 L839.9,733.9 L845.0,732.0 L850.2,730.2 L855.4,728.5 L860.7,726.9 L866.1,725.3 L871.7,723.9 L877.5,722.5 L883.6,721.2 L890.0,720.0 L896.9,718.8 L904.4,717.6 L912.3,716.5 L920.3,715.4 L928.3,714.5 L936.1,713.6 L943.4,713.0 L950.0,712.5 L955.9,712.2 L961.2,712.2 L966.0,712.3 L970.6,712.5 L975.1,712.9 L979.8,713.2 L984.7,713.6 L990.0,714.0 L995.9,714.4 L1002.1,714.7 L1008.7,715.1 L1015.3,715.6 L1021.9,716.1 L1028.3,716.7 L1034.4,717.3 L1040.0,718.0 L1044.9,718.7 L1049.2,719.4 L1053.1,720.2 L1056.9,721.0 L1060.7,722.0 L1064.8,723.1 L1069.5,724.4 L1075.0,726.0 L1081.4,727.9 L1088.6,730.0 L1096.3,732.3 L1104.4,734.8 L1112.5,737.5 L1120.5,740.1 L1128.0,742.8 L1135.0,745.5 L1141.4,748.1 L1147.7,750.8 L1153.6,753.5 L1159.4,756.3 L1164.9,759.1 L1170.2,762.0 L1175.2,765.0 L1180.0,768.0 L1184.5,771.1 L1188.8,774.4 L1192.9,777.7 L1196.7,781.0 L1200.3,784.5 L1203.7,787.9 L1206.9,791.5 L1210.0,795.0 L1212.9,798.6 L1215.6,802.3 L1218.0,806.0 L1220.3,809.8 L1222.4,813.6 L1224.4,817.4 L1226.3,821.2 L1228.0,825.0 L1229.6,828.8 L1231.1,832.7 L1232.5,836.6 L1233.7,840.6 L1234.8,844.4 L1235.7,848.1 L1236.4,851.7 L1237.0,855.0 L1237.3,858.1 L1237.4,861.2 L1237.3,864.1 L1237.0,866.9 L1236.6,869.5 L1236.2,871.9 L1235.8,874.1 L1235.5,876.0 L1235.2,877.7 L1234.9,879.1 L1234.5,880.3 L1234.2,881.3 L1233.8,882.2 L1233.5,882.9 L1233.2,883.5 L1233.0,884.0" fill="none" stroke="#2e2d33" stroke-width="1.0" />
<path d="M238.0,659.0 L239.8,659.3 L242.3,659.8 L245.2,660.3 L248.4,660.9 L251.9,661.5 L255.4,662.0 L258.8,662.6 L262.0,663.0 L265.0,663.4 L267.8,663.8 L270.5,664.2 L273.3,664.5 L276.3,664.8 L279.5,665.0 L283.0,665.1 L287.0,665.0 L291.6,664.8 L296.7,664.4 L302.2,663.9 L307.9,663.4 L313.7,662.8 L319.4,662.1 L324.9,661.5 L330.0,661.0 L334.7,660.5 L339.2,659.9 L343.5,659.3 L347.7,658.8 L351.9,658.2 L356.1,657.7 L360.4,657.3 L365.0,657.0 L369.7,656.8 L374.4,656.6 L379.2,656.4 L384.1,656.4 L389.0,656.4 L394.2,656.5 L399.5,656.7 L405.0,657.0 L410.8,657.4 L416.8,657.9 L423.0,658.5 L429.4,659.2 L435.8,660.0 L442.3,660.9 L448.7,661.9 L455.0,663.0 L461.3,664.2 L467.6,665.4 L474.0,666.8 L480.3,668.2 L486.6,669.7 L492.9,671.4 L499.0,673.1 L505.0,675.0 L510.9,677.0 L516.7,679.2 L522.4,681.4 L528.0,683.8 L533.6,686.3 L539.1,688.8 L544.6,691.4 L550.0,694.0 L555.4,696.7 L560.8,699.4 L566.1,702.2 L571.4,705.1 L576.7,708.1 L581.9,711.0 L587.0,714.0 L592.0,717.0 L597.0,720.1 L602.0,723.2 L607.0,726.4 L611.9,729.7 L616.7,732.9 L621.3,736.1 L625.8,739.1 L630.0,742.0 L634.2,744.9 L638.4,747.8 L642.5,750.7 L646.4,753.6 L650.0,756.2 L653.2,758.5 L655.9,760.5 L658.0,762.0 L651.0,772.0 L646.0,784.0 L643.0,797.0 L552.0,784.0 L372.0,718.0 L372.0,724.0 L287.0,706.0 L240.0,700.0 L238.0,662.0 Z" fill="#65646c" />
<path d="M1330.0,852.0 L1331.5,852.2 L1333.5,852.4 L1335.8,852.8 L1338.4,853.1 L1341.3,853.4 L1344.2,853.5 L1347.1,853.4 L1350.0,853.0 L1352.9,852.3 L1355.9,851.3 L1359.0,850.1 L1362.2,848.8 L1365.4,847.3 L1368.6,845.8 L1371.8,844.4 L1375.0,843.0 L1378.1,841.6 L1381.2,840.2 L1384.4,838.8 L1387.5,837.3 L1390.6,835.9 L1393.8,834.5 L1396.9,833.2 L1400.0,832.0 L1403.1,830.9 L1406.2,830.0 L1409.4,829.1 L1412.5,828.2 L1415.6,827.4 L1418.8,826.7 L1421.9,825.8 L1425.0,825.0 L1428.1,824.1 L1431.1,823.2 L1434.2,822.3 L1437.2,821.4 L1440.3,820.5 L1443.4,819.6 L1446.6,818.8 L1450.0,818.0 L1453.5,817.3 L1457.1,816.5 L1460.9,815.8 L1464.7,815.1 L1468.5,814.5 L1472.4,813.9 L1476.2,813.4 L1480.0,813.0 L1483.8,812.7 L1487.5,812.4 L1491.2,812.2 L1495.0,812.1 L1498.8,812.1 L1502.5,812.0 L1506.2,812.0 L1510.0,812.0 L1513.8,812.0 L1517.5,812.1 L1521.2,812.1 L1525.0,812.2 L1528.8,812.4 L1532.5,812.6 L1536.2,812.8 L1540.0,813.0 L1543.8,813.3 L1547.5,813.6 L1551.2,813.9 L1555.0,814.2 L1558.8,814.6 L1562.5,815.1 L1566.2,815.5 L1570.0,816.0 L1573.8,816.5 L1577.5,817.1 L1581.2,817.6 L1585.0,818.2 L1588.8,818.9 L1592.5,819.6 L1596.2,820.3 L1600.0,821.0 L1603.8,821.8 L1607.5,822.6 L1611.2,823.4 L1615.0,824.2 L1618.8,825.1 L1622.5,826.1 L1626.2,827.0 L1630.0,828.0 L1633.8,829.0 L1637.5,830.1 L1641.2,831.1 L1645.0,832.2 L1648.8,833.4 L1652.5,834.6 L1656.2,835.8 L1660.0,837.0 L1663.8,838.3 L1667.5,839.5 L1671.3,840.8 L1675.1,842.2 L1678.9,843.6 L1682.6,845.0 L1686.3,846.5 L1690.0,848.0 L1693.6,849.7 L1697.3,851.5 L1700.9,853.5 L1704.5,855.4 L1708.0,857.4 L1711.5,859.1 L1714.8,860.7 L1718.0,862.0 L1716.4,877.0 L1700.0,870.0 L1684.0,867.0 L1660.0,872.0 L1640.0,881.0 L1628.0,890.0 L1440.0,906.0 L1350.0,896.0 L1323.0,892.0 L1326.0,870.0 Z" fill="#65646c" />
<path d="M592.0,717.0 L590.1,718.9 L587.4,721.5 L584.3,724.6 L581.0,728.0 L577.8,731.6 L575.0,735.0 L572.5,738.4 L570.2,741.9 L567.9,745.4 L565.8,749.1 L563.8,753.0 L562.0,757.0 L560.3,761.5 L558.7,766.6 L557.2,771.9 L555.9,776.8 L554.8,781.0 L554.0,784.0" fill="none" stroke="#2e2d33" stroke-width="0.9" />
<path d="M1400.0,832.0 L1402.9,833.9 L1407.0,836.4 L1411.8,839.4 L1416.7,842.8 L1421.3,846.4 L1425.0,850.0 L1427.9,853.7 L1430.3,857.6 L1432.4,861.8 L1434.1,866.0 L1435.7,870.5 L1437.0,875.0 L1438.1,880.1 L1438.8,885.7 L1439.2,891.6 L1439.6,897.0 L1439.8,901.7 L1440.0,905.0" fill="none" stroke="#2e2d33" stroke-width="0.9" />
<path d="M722.0,741.0 L723.4,742.9 L725.2,745.5 L727.4,748.6 L729.9,752.1 L732.5,756.0 L735.0,760.0 L737.8,764.5 L740.9,769.5 L744.1,774.8 L747.1,780.2 L749.9,785.3 L752.0,790.0 L753.5,794.4 L754.4,798.7 L755.1,802.9 L755.4,806.6 L755.7,809.7 L756.0,812.0" fill="none" stroke="#2e2d33" stroke-width="0.9" />
<path d="M1252.0,802.0 L1250.6,805.0 L1248.6,809.1 L1246.2,814.0 L1243.8,819.3 L1241.6,824.8 L1240.0,830.0 L1238.9,835.5 L1238.2,841.6 L1237.8,847.8 L1237.4,853.6 L1237.2,858.5 L1237.0,862.0" fill="none" stroke="#2e2d33" stroke-width="0.9" />
<path d="M343,659 Q355,667 372,668.5 Q390,667 399,657.5 Q370,655 343,659 Z" fill="#d9d9ee" stroke="#34333a" stroke-width="0.8"/>
<path d="M1630,828 Q1633,834 1636,836.4 Q1643,840 1651.6,841.2 L1672,841.4 Q1650,834 1630,828 Z" fill="#d6d6f0" stroke="#34333a" stroke-width="0.8"/>
<path d="M238.0,659.0 L239.8,659.3 L242.3,659.8 L245.2,660.3 L248.4,660.9 L251.9,661.5 L255.4,662.0 L258.8,662.6 L262.0,663.0 L265.0,663.4 L267.8,663.8 L270.5,664.2 L273.3,664.5 L276.3,664.8 L279.5,665.0 L283.0,665.1 L287.0,665.0 L291.6,664.8 L296.7,664.4 L302.2,663.9 L307.9,663.4 L313.7,662.8 L319.4,662.1 L324.9,661.5 L330.0,661.0 L334.7,660.5 L339.2,659.9 L343.5,659.3 L347.7,658.8 L351.9,658.2 L356.1,657.7 L360.4,657.3 L365.0,657.0 L369.7,656.8 L374.4,656.6 L379.2,656.4 L384.1,656.4 L389.0,656.4 L394.2,656.5 L399.5,656.7 L405.0,657.0 L410.8,657.4 L416.8,657.9 L423.0,658.5 L429.4,659.2 L435.8,660.0 L442.3,660.9 L448.7,661.9 L455.0,663.0 L461.3,664.2 L467.6,665.4 L474.0,666.8 L480.3,668.2 L486.6,669.7 L492.9,671.4 L499.0,673.1 L505.0,675.0 L510.9,677.0 L516.7,679.2 L522.4,681.4 L528.0,683.8 L533.6,686.3 L539.1,688.8 L544.6,691.4 L550.0,694.0 L555.4,696.7 L560.8,699.4 L566.1,702.2 L571.4,705.1 L576.7,708.1 L581.9,711.0 L587.0,714.0 L592.0,717.0 L597.0,720.1 L602.0,723.2 L607.0,726.4 L611.9,729.7 L616.7,732.9 L621.3,736.1 L625.8,739.1 L630.0,742.0 L634.2,744.9 L638.4,747.8 L642.5,750.7 L646.4,753.6 L650.0,756.2 L653.2,758.5 L655.9,760.5 L658.0,762.0" fill="none" stroke="#25251c" stroke-width="1.1" />
<path d="M1330.0,852.0 L1331.5,852.2 L1333.5,852.4 L1335.8,852.8 L1338.4,853.1 L1341.3,853.4 L1344.2,853.5 L1347.1,853.4 L1350.0,853.0 L1352.9,852.3 L1355.9,851.3 L1359.0,850.1 L1362.2,848.8 L1365.4,847.3 L1368.6,845.8 L1371.8,844.4 L1375.0,843.0 L1378.1,841.6 L1381.2,840.2 L1384.4,838.8 L1387.5,837.3 L1390.6,835.9 L1393.8,834.5 L1396.9,833.2 L1400.0,832.0 L1403.1,830.9 L1406.2,830.0 L1409.4,829.1 L1412.5,828.2 L1415.6,827.4 L1418.8,826.7 L1421.9,825.8 L1425.0,825.0 L1428.1,824.1 L1431.1,823.2 L1434.2,822.3 L1437.2,821.4 L1440.3,820.5 L1443.4,819.6 L1446.6,818.8 L1450.0,818.0 L1453.5,817.3 L1457.1,816.5 L1460.9,815.8 L1464.7,815.1 L1468.5,814.5 L1472.4,813.9 L1476.2,813.4 L1480.0,813.0 L1483.8,812.7 L1487.5,812.4 L1491.2,812.2 L1495.0,812.1 L1498.8,812.1 L1502.5,812.0 L1506.2,812.0 L1510.0,812.0 L1513.8,812.0 L1517.5,812.1 L1521.2,812.1 L1525.0,812.2 L1528.8,812.4 L1532.5,812.6 L1536.2,812.8 L1540.0,813.0 L1543.8,813.3 L1547.5,813.6 L1551.2,813.9 L1555.0,814.2 L1558.8,814.6 L1562.5,815.1 L1566.2,815.5 L1570.0,816.0 L1573.8,816.5 L1577.5,817.1 L1581.2,817.6 L1585.0,818.2 L1588.8,818.9 L1592.5,819.6 L1596.2,820.3 L1600.0,821.0 L1603.8,821.8 L1607.5,822.6 L1611.2,823.4 L1615.0,824.2 L1618.8,825.1 L1622.5,826.1 L1626.2,827.0 L1630.0,828.0 L1633.8,829.0 L1637.5,830.1 L1641.2,831.1 L1645.0,832.2 L1648.8,833.4 L1652.5,834.6 L1656.2,835.8 L1660.0,837.0 L1663.8,838.3 L1667.5,839.5 L1671.3,840.8 L1675.1,842.2 L1678.9,843.6 L1682.6,845.0 L1686.3,846.5 L1690.0,848.0 L1693.6,849.7 L1697.3,851.5 L1700.9,853.5 L1704.5,855.4 L1708.0,857.4 L1711.5,859.1 L1714.8,860.7 L1718.0,862.0 L1721.0,863.0 L1723.9,863.7 L1726.6,864.3 L1729.2,864.7 L1731.9,865.0 L1734.5,865.3 L1737.2,865.6 L1740.0,866.0 L1743.1,866.4 L1746.4,866.9 L1749.9,867.3 L1753.4,867.8 L1756.7,868.1 L1759.6,868.5 L1762.1,868.8 L1764.0,869.0" fill="none" stroke="#25251c" stroke-width="1.1" />
<path d="M210,611.5 Q223,614 229,624 L229,634 L226,703 L224.5,709 L224,703 Q216,690 205,677 L208,640 Z" fill="url(#gOuterL)" stroke="#34333a" stroke-width="0.9" stroke-linejoin="round"/>
<path d="M229,634 L237,637 L237,658 L240,661 L287,666 L286.5,680 L293,686 L292,729 L285,734 L224.5,709 L226,703 Z" fill="#b4b3b6" stroke="#34333a" stroke-width="0.9" stroke-linejoin="round"/>
<path d="M287,680 Q296,672 312,671 Q336,674 355,690 Q370,703 372,717 L372,767 Q366,750 352,736 Q335,722 312,720 Q300,720 292,726 L293,690 Z" fill="url(#gGrooveL)" stroke="#34333a" stroke-width="0.9" stroke-linejoin="round"/>
<path d="M287,680 Q296,672 312,671 Q336,674 355,690 Q370,703 372,717 L372,723 Q368,709 353,696 Q334,680 312,677 Q300,677 293,690 Z" fill="#e9e9f4" stroke="#34333a" stroke-width="0.7"/>
<path d="M372,718 L552,784 L642,797 L639,856 L610,852 L606,846 L601,843.5 L370,812 L370,776 Z" fill="#b4b3b6" stroke="#34333a" stroke-width="0.9" stroke-linejoin="round"/>
<path d="M643,796 L646,784 L651,772 L658,762 L670,763 L695,753 L688,763 L680,775 L672,790 L667,801 L665,832 L641,854 L639,856 Z" fill="#d4d4f8" stroke="#34333a" stroke-width="0.9" stroke-linejoin="round"/>
<path d="M662,764 L670,763 L695,753 L688,763 L680,775 L672,790 L667,801 L660,812 Z" fill="#dedefc"/>
<path d="M640.5,853 L652,826 L655,835 L665,830 L665,836 L640,856 Z" fill="#ffffff"/>
<path d="M667,802 L665,830 L659,836 L657,825 L660,812 Z" fill="#eeedc8"/>
<path d="M661.0,764.0 L660.0,790.0 L659.0,812.0" fill="none" stroke="#77777c" stroke-width="0.8" stroke-dasharray="3 1.5"/>
<path d="M681.0,774.0 L679.2,777.4 L676.5,782.2 L673.5,787.8 L670.6,793.3 L668.0,798.0 L665.9,801.8 L663.9,805.2 L662.0,808.3 L660.4,811.5 L659.0,815.0 L657.8,819.1 L656.8,823.7 L656.1,828.3 L655.5,832.2 L655.0,835.0" fill="none" stroke="#c9905a" stroke-width="2.2" />
<path d="M656.5,818.0 L654.5,836.0" fill="none" stroke="#d9a468" stroke-width="3" />
<path d="M652.0,826.0 L650.7,829.0 L648.8,833.2 L646.8,837.9 L645.0,842.0 L643.5,845.6 L642.1,849.0 L640.9,851.9 L640.0,854.0" fill="none" stroke="#34333a" stroke-width="0.7" />
<path d="M361,902 L580,932 L576,995 L571,1001 L405,979 L360,930 Z" fill="#b4b3b6" stroke="#34333a" stroke-width="0.9" stroke-linejoin="round"/>
<path d="M580,931 L593.6,920.8 Q600,913 608,910 Q617,907.5 626,908.8 Q636,911 644,916 Q649,921 652.4,928 L652.4,934 L648.5,1003 L646.4,1003.6 Q643,998 638,994 Q630,988 620,986.2 Q611,984.5 602,985 Q592,986.5 584,990.4 Q579,994 575.6,1000 Z" fill="url(#gGrooveL)" stroke="#34333a" stroke-width="0.9" stroke-linejoin="round"/>
<path d="M664,836 L657.2,932.8 L652.4,934 L652.4,928 Q649,921 644,916 Q636,911 626,908.8 Q617,907.5 608,910 L606.5,914 L594.8,919.6 Q608,888 632,862 Q648,846 664,836 Z" fill="#65646c" stroke="#34333a" stroke-width="0.9" stroke-linejoin="round"/>
<path d="M603.0,912.0 L604.6,909.0 L606.7,904.8 L609.3,899.9 L612.1,894.8 L615.0,890.0 L618.0,885.6 L621.2,881.2 L624.5,876.8 L628.1,872.4 L632.0,868.0 L636.6,863.2 L641.9,858.1 L647.2,853.2 L651.8,849.0 L655.0,846.0" fill="none" stroke="#2e2d33" stroke-width="0.8" />
<path d="M373,812.5 L591,841.5 Q600.5,843 600,852 L596,921 Q595,932.5 585,931.5 L373,904 Q362.5,903 363.5,893 L367,821 Q367.5,811.5 373,812.5 Z" fill="#dcfdff" stroke="#3a5a60" stroke-width="0.9"/>
<path d="M594,846 L606,846 L601,852 Z" fill="#a8d8f0"/>
<path d="M667,801 L762,810 Q789,813 789,842 L780,990 Q778,1028 742,1024.8 L654,1012.2 Q648,1011 648.5,1003 L652.4,934 L657.2,932.8 L664,836 Z" fill="#b4b3b6" stroke="#34333a" stroke-width="0.9" stroke-linejoin="round"/>
<path d="M1199,900 Q1200,878 1222,879 L1322,889 L1315,1022 L1314,1097 L1310,1102 L1222,1090 Q1186,1086 1186,1055 L1187,1030 Z" fill="#b4b3b6" stroke="#34333a" stroke-width="0.9" stroke-linejoin="round"/>
<path d="M1322,889 L1323,860 L1330,852 L1345,856 L1350,870 L1350,895 L1345,918 L1322,925 Z" fill="#c9c9dc" stroke="#34333a" stroke-width="0.9" stroke-linejoin="round"/>
<path d="M1337,858 L1349,862 L1350,895 L1346,915 L1340,890 Z" fill="#b9b8c4"/>
<path d="M1331.0,856.0 L1331.6,858.5 L1332.5,862.0 L1333.4,866.2 L1334.3,870.6 L1335.0,875.0 L1335.5,879.3 L1335.9,883.9 L1336.1,888.5 L1336.2,893.3 L1336.0,898.0 L1335.5,903.1 L1334.6,908.7 L1333.6,914.1 L1332.6,918.7 L1332.0,922.0" fill="none" stroke="#c9782c" stroke-width="3" />
<path d="M1329.0,858.0 L1329.3,860.9 L1329.8,865.1 L1330.2,869.9 L1330.7,875.1 L1331.0,880.0 L1331.2,884.9 L1331.2,890.2 L1331.2,895.4 L1331.2,900.5 L1331.0,905.0 L1330.7,909.2 L1330.2,913.2 L1329.8,916.8 L1329.3,919.8 L1329.0,922.0" fill="none" stroke="#ead9a0" stroke-width="1.6" />
<path d="M1327,885 L1344,900 L1347,912 L1333,900 Z" fill="#dffcff" stroke="#3a5a60" stroke-width="0.6"/>
<path d="M1322,925 L1345,918 L1351,896 L1351,954 L1367,956 L1388,952 L1388,1014 Q1355,1005 1337,1010 Q1322,1015 1315,1023 Z" fill="#65646c" stroke="#34333a" stroke-width="0.9" stroke-linejoin="round"/>
<path d="M1367.0,957.0 L1368.2,962.1 L1370.1,969.3 L1371.9,977.4 L1373.0,985.0 L1373.2,992.5 L1372.9,1000.2 L1372.3,1007.2 L1372.0,1012.0" fill="none" stroke="#2e2d33" stroke-width="0.8" />
<path d="M1315,1022 Q1326,1011 1345,1009 Q1365,1008 1379,1013 L1389,1044 L1385,1106 Q1368,1088 1345,1085 Q1326,1086 1314,1098 Z" fill="url(#gGrooveL)" stroke="#34333a" stroke-width="0.9" stroke-linejoin="round"/>
<path d="M1350,895 L1440,905 L1625,886 L1628,890 L1622,937 L1618,939 L1615,982 L1385,951 L1375,951 L1368,956 L1349,954 L1345,950 Z" fill="#b4b3b6" stroke="#34333a" stroke-width="0.9" stroke-linejoin="round"/>
<path d="M1622,937 L1618,939 L1615,982 L1609,1072 L1606,1104 L1612,1085 L1618,1000 Z" fill="#c6c6e6" stroke="#34333a" stroke-width="0.9" stroke-linejoin="round"/>
<path d="M1389,1044 L1609,1072 L1606,1104 L1556,1135 L1392,1113 Q1385,1112 1385,1106 Z" fill="#b4b3b6" stroke="#34333a" stroke-width="0.9" stroke-linejoin="round"/>
<path d="M1392,952 L1607,980.5 Q1616.5,982 1615.5,992 L1610.5,1061 Q1609.5,1071.5 1599,1070.5 L1388,1043.5 Q1377.5,1042.5 1378,1031 L1381.5,962 Q1382.5,951 1392,952 Z" fill="#dcfdff" stroke="#3a5a60" stroke-width="0.9"/>
<path d="M1375,951 L1392,953 L1383,958 L1381,975 Z" fill="#bfeaf6" stroke="#3a5a60" stroke-width="0.6"/>
<path d="M1624,885.6 Q1628,879 1631.2,876 Q1640,869 1648,866.4 Q1660,861 1672,859.2 L1690,858.6 Q1699,860 1705.6,864 Q1709,868 1711.6,872.4 L1716.4,876 L1708,877.2 L1705.6,924 Q1703,917 1699.6,913.2 Q1692,909.6 1684,909.6 Q1672,910 1660,912 Q1646,916 1636,921.6 Q1628,928 1624,936 L1618,950 L1618,938.4 L1624,936 L1627.6,890.4 Z" fill="url(#gGrooveR)" stroke="#34333a" stroke-width="0.9" stroke-linejoin="round"/>
<path d="M1624,885.6 Q1628,879 1631.2,876 Q1640,869 1648,866.4 Q1660,861 1672,859.2 L1690,858.6 Q1699,860 1705.6,864 Q1709,868 1711.6,872.4 L1716.4,876 L1708,877.2 Q1704,871 1699.6,868.8 Q1692,865.5 1684,865.8 Q1672,867 1660,871.2 Q1648,875 1639.6,879.6 Q1633,884 1628.8,888 L1627.6,890.4 Z" fill="#e6e6f2" stroke="#34333a" stroke-width="0.7"/>
<path d="M1718.2,862.8 L1762,867.6 L1764.4,870 L1768,868.8 L1796.8,871.2 L1802.8,877.2 L1800.4,912 Q1800,917.5 1796.8,918 L1713,928.6 Q1705.6,929 1705.6,922 L1708,877.2 L1716.4,876 Z" fill="#b4b3b6" stroke="#34333a" stroke-width="0.9" stroke-linejoin="round"/>
<path d="M1774,848.4 L1799.2,851.4 L1796.8,871.2 L1768,868.8 Z" fill="#65646c" stroke="#34333a" stroke-width="0.9" stroke-linejoin="round"/>
<path d="M1776.4,826.8 L1804,828.6 Q1809,829.5 1809.4,833.4 L1808.2,853.2 L1799.2,851.4 L1774,847.8 Z" fill="#b4b3b6" stroke="#34333a" stroke-width="0.9" stroke-linejoin="round"/>
<path d="M1799.2,851.4 L1807.6,854.4 L1806.4,864 L1802.8,877.2 L1796.8,871.2 Z" fill="#8584a6" stroke="#34333a" stroke-width="0.9" stroke-linejoin="round"/>
<path d="M1809.4,833.4 L1812,832 L1811,850 L1808.5,868 L1804,905 L1800.4,914.4 L1802.8,877.2 L1806.4,864 L1807.6,854.4 L1808.2,853.2 Z" fill="#c4c4ea" stroke="#34333a" stroke-width="0.9" stroke-linejoin="round"/>
<path d="M480,853.2 L483.2,805.6 L611,823.6" fill="none" stroke="#ff3300" stroke-width="11.3" stroke-linejoin="bevel"/>
<path d="M611,810 L641,827 L609,837.5 Z" fill="#ff3300"/>
<path d="M477,890 L472.2,951.5 L715.3,985.3 L724.5,838.5 L696,834" fill="none" stroke="#00ff00" stroke-width="11.2" stroke-linejoin="bevel"/>
<path d="M697,821.5 L665,830.5 L695,848.5 Z" fill="#00ff00"/>
<text transform="matrix(0.9936,0.113,-0.0625,0.998,446.5,848.7)" font-size="33.5" fill="#ff0000">N</text>
<text transform="matrix(0.9936,0.113,-0.0625,0.998,620.5,853.8)" font-size="26.5" fill="#ff0000">N</text>
<text transform="matrix(0.9936,0.113,-0.0625,0.998,664.8,859.7)" font-size="27" fill="#00ff00">S</text>
<text transform="matrix(0.9936,0.113,-0.0625,0.998,443.2,912.4)" font-size="33.5" fill="#00ff00">S</text>
<line x1="1597" y1="330" x2="1320" y2="615" stroke="#1d4a7a" stroke-width="1.4"/>
<line x1="429" y1="869" x2="351" y2="1076" stroke="#1d4a7a" stroke-width="1.4"/>
<line x1="975" y1="1035" x2="835" y2="1142.4" stroke="#1d4a7a" stroke-width="1.4"/>
<line x1="1330" y1="925" x2="1140.4" y2="1202.4" stroke="#1d4a7a" stroke-width="1.4"/>
<line x1="1332" y1="945" x2="1442.7" y2="1237" stroke="#1d4a7a" stroke-width="1.4"/>
<line x1="1537" y1="939" x2="1695.5" y2="1196.3" stroke="#1d4a7a" stroke-width="1.4"/>
<line x1="1494" y1="1095" x2="1695.5" y2="1196.3" stroke="#1d4a7a" stroke-width="1.4"/>
<text x="1424.8" y="302.5" font-size="41.9" fill="#083a73" text-anchor="start">Sandwich-Membran</text>
<text x="217.7" y="1135.8" font-size="41.9" fill="#083a73" text-anchor="start">Tesla-Ringmagnet</text>
<text x="598.5" y="1199" font-size="41.9" fill="#083a73" text-anchor="start">Ventilationsöffnung</text>
<text x="1000.4" y="1257.4" font-size="41.9" fill="#083a73" text-anchor="start">Schwingspule</text>
<text x="1373.4" y="1292.7" font-size="41.9" fill="#083a73" text-anchor="start">Luftspalt</text>
<text x="1718" y="1241.5" font-size="41.9" fill="#083a73" text-anchor="middle">Vollmetall-</text>
<text x="1718" y="1287.5" font-size="41.9" fill="#083a73" text-anchor="middle">Gehäuse</text>
</svg>
</body></html>
